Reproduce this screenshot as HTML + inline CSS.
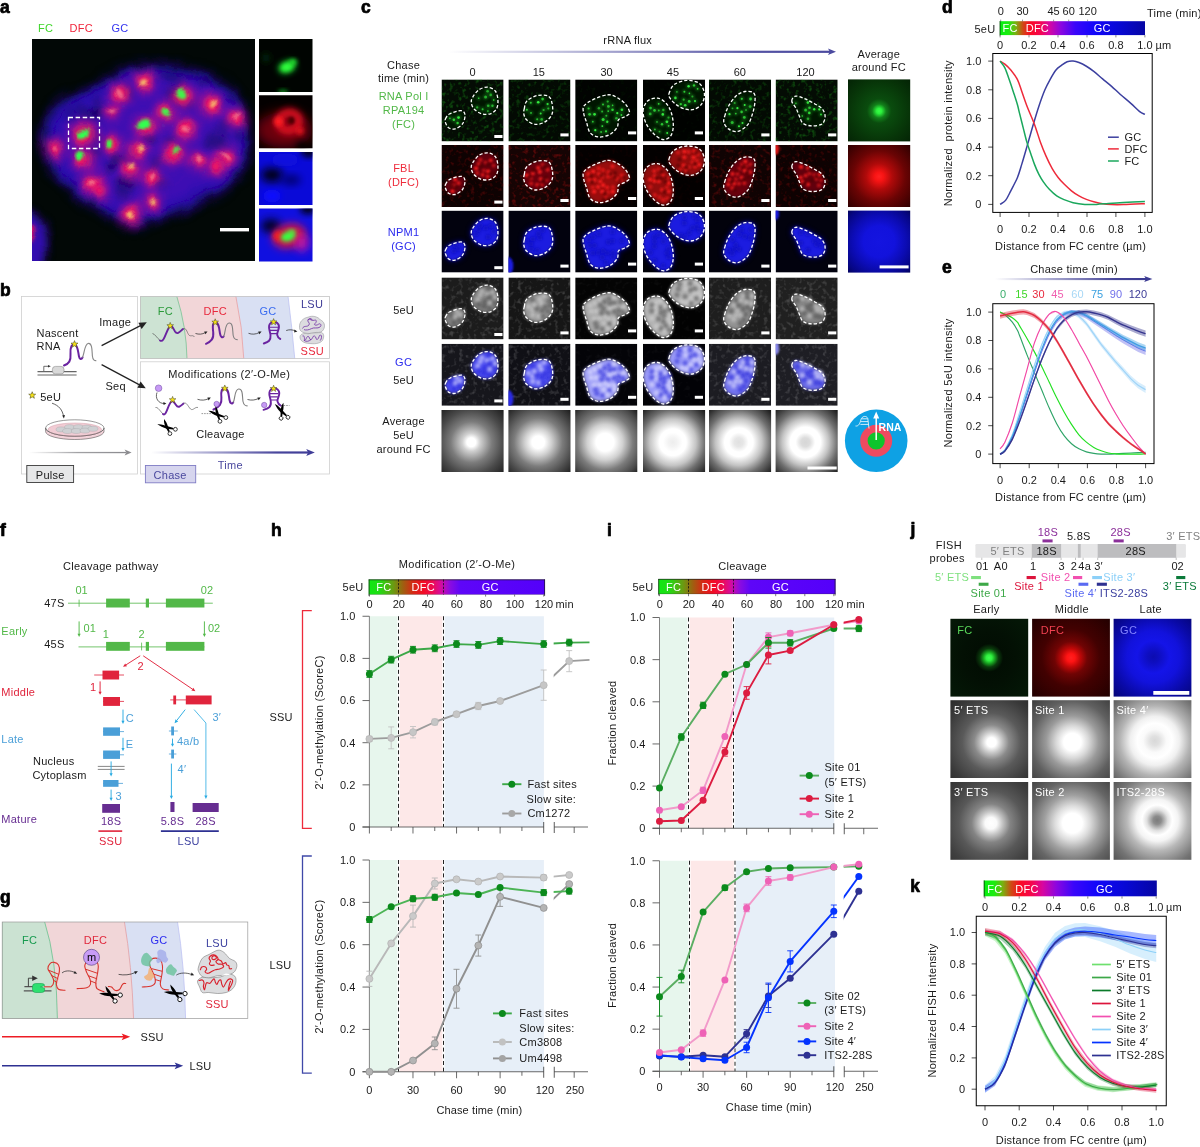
<!DOCTYPE html>
<html lang="en"><head><meta charset="utf-8"><title>Figure 1</title>
<style>
html,body{margin:0;padding:0;background:#fff;}
body{width:1200px;height:1147px;overflow:hidden;font-family:"Liberation Sans",sans-serif;}
svg{display:block;}
svg text{font-family:"Liberation Sans",sans-serif;font-size:11px;fill:#1a1a1a;letter-spacing:0.25px;}
.pl{font-weight:bold;font-size:17.5px;fill:#000;stroke:#000;stroke-width:0.7px;stroke-linejoin:round;}
svg text.n{letter-spacing:0;}
</style></head><body>
<svg width="1200" height="1147" viewBox="0 0 1200 1147">
<!-- defs -->
<defs>
<filter id="b1" x="-50%" y="-50%" width="200%" height="200%"><feGaussianBlur stdDeviation="1"/></filter>
<filter id="b15" x="-50%" y="-50%" width="200%" height="200%"><feGaussianBlur stdDeviation="1.5"/></filter>
<filter id="b2" x="-50%" y="-50%" width="200%" height="200%"><feGaussianBlur stdDeviation="2"/></filter>
<filter id="b3" x="-50%" y="-50%" width="200%" height="200%"><feGaussianBlur stdDeviation="3"/></filter>
<filter id="b4" x="-50%" y="-50%" width="200%" height="200%"><feGaussianBlur stdDeviation="4"/></filter>
<filter id="b6" x="-50%" y="-50%" width="200%" height="200%"><feGaussianBlur stdDeviation="6"/></filter>
<filter id="b05" x="-50%" y="-50%" width="200%" height="200%"><feGaussianBlur stdDeviation="0.6"/></filter>
<filter id="nzW" x="0" y="0" width="100%" height="100%" color-interpolation-filters="sRGB"><feTurbulence type="fractalNoise" baseFrequency="0.22" numOctaves="2" seed="4"/><feColorMatrix type="matrix" values="0 0 0 0 1  0 0 0 0 1  0 0 0 0 1  3.4 0 0 0 -1.75"/></filter>
<filter id="nzG" x="0" y="0" width="100%" height="100%" color-interpolation-filters="sRGB"><feTurbulence type="fractalNoise" baseFrequency="0.24" numOctaves="2" seed="9"/><feColorMatrix type="matrix" values="0 0 0 0 0.15  0 0 0 0 0.85  0 0 0 0 0.15  3.4 0 0 0 -1.75"/></filter>
<filter id="nzR" x="0" y="0" width="100%" height="100%" color-interpolation-filters="sRGB"><feTurbulence type="fractalNoise" baseFrequency="0.24" numOctaves="2" seed="15"/><feColorMatrix type="matrix" values="0 0 0 0 0.9  0 0 0 0 0.08  0 0 0 0 0.08  3.4 0 0 0 -1.75"/></filter>
<filter id="nzD" x="0" y="0" width="100%" height="100%" color-interpolation-filters="sRGB"><feTurbulence type="fractalNoise" baseFrequency="0.16" numOctaves="2" seed="21"/><feColorMatrix type="matrix" values="0 0 0 0 0.04  0 0 0 0 0.01  0 0 0 0 0.22  3.0 0 0 0 -1.25"/></filter>
<filter id="warp" x="-5%" y="-5%" width="110%" height="110%"><feTurbulence type="fractalNoise" baseFrequency="0.045" numOctaves="2" seed="8" result="t"/><feDisplacementMap in="SourceGraphic" in2="t" scale="9" xChannelSelector="R" yChannelSelector="G"/></filter>
<marker id="ahk" viewBox="0 0 10 10" refX="8" refY="5" markerWidth="5" markerHeight="5" orient="auto-start-reverse"><path d="M0,1 L10,5 L0,9 L3,5 z" fill="#1a1a1a"/></marker>
<path id="star" d="M0,-3.6 L0.95,-1.2 L3.5,-1.1 L1.5,0.5 L2.2,3 L0,1.6 L-2.2,3 L-1.5,0.5 L-3.5,-1.1 L-0.95,-1.2 Z" fill="#f5e21a" stroke="#3a3a1a" stroke-width="0.5" stroke-linejoin="round"/>
<g id="scis">
 <path d="M-9.6,-3.1 C-6,-3.6 -2,-2 0.8,-1.1 L6.6,0.5 L6.2,2.1 L-0.2,1.3 C-3.8,0.4 -6.8,-1.2 -9.6,-3.1 Z" fill="#000"/>
 <path d="M-2.8,-8.4 C-3.4,-5 -2,-2 -0.9,0.5 L1.4,4.5 L2.9,3.8 L1.2,-0.5 C0.4,-3.6 -1.2,-6.2 -2.8,-8.4 Z" fill="#000"/>
 <circle cx="8.5" cy="1.9" r="1.9" fill="#fff" stroke="#000" stroke-width="0.75"/>
 <circle cx="3" cy="6.2" r="1.9" fill="#fff" stroke="#000" stroke-width="0.75"/>
</g>
</defs>

<!-- pa -->
<text class="pl" x="0" y="13">a</text>
<text x="38" y="31.7" style="fill:#3fd52a">FC</text>
<text x="69.5" y="31.7" style="fill:#f0243a">DFC</text>
<text x="111.5" y="31.7" style="fill:#3434f0">GC</text>
<clipPath id="ca"><rect x="32" y="39" width="223" height="222"/></clipPath>
<g clip-path="url(#ca)">
<rect x="32" y="39" width="223" height="222" fill="#020806"/>
<g filter="url(#warp)">
<path d="M41,140 L46,118 L62,100 L88,90 L112,76 L140,64 L165,66 L200,72 L228,86 L244,107 L248,128 L250,150 L240,172 L226,190 L205,198 L188,208 L160,218 L133,228 L108,214 L86,202 L66,186 L50,170 Z" fill="#260ea4" filter="url(#b6)"/>
<path d="M50,140 L66,108 L112,84 L140,72 L200,80 L238,108 L242,150 L222,184 L185,200 L133,220 L90,196 L60,170 Z" fill="#2e10b2" filter="url(#b4)"/>
<path d="M62,130 L100,100 L140,80 L200,86 L234,112 L236,150 L216,178 L180,196 L135,212 L98,192 L66,162 Z" fill="#7a18b8" opacity="0.22" filter="url(#b6)"/>
<ellipse cx="93" cy="153" rx="7" ry="6" fill="#160862" opacity="0.41" filter="url(#b3)" transform="rotate(12 93 153)"/>
<ellipse cx="97" cy="106" rx="10" ry="5" fill="#160862" opacity="0.46" filter="url(#b3)" transform="rotate(86 97 106)"/>
<ellipse cx="173" cy="93" rx="8" ry="7" fill="#160862" opacity="0.38" filter="url(#b3)" transform="rotate(133 173 93)"/>
<ellipse cx="179" cy="80" rx="9" ry="6" fill="#160862" opacity="0.33" filter="url(#b3)" transform="rotate(6 179 80)"/>
<ellipse cx="218" cy="142" rx="9" ry="7" fill="#160862" opacity="0.43" filter="url(#b3)" transform="rotate(166 218 142)"/>
<ellipse cx="124" cy="192" rx="7" ry="7" fill="#160862" opacity="0.47" filter="url(#b3)" transform="rotate(18 124 192)"/>
<ellipse cx="238" cy="136" rx="8" ry="5" fill="#160862" opacity="0.38" filter="url(#b3)" transform="rotate(69 238 136)"/>
<ellipse cx="115" cy="159" rx="8" ry="7" fill="#160862" opacity="0.42" filter="url(#b3)" transform="rotate(167 115 159)"/>
<ellipse cx="179" cy="95" rx="9" ry="7" fill="#160862" opacity="0.48" filter="url(#b3)" transform="rotate(102 179 95)"/>
<ellipse cx="188" cy="102" rx="9" ry="6" fill="#160862" opacity="0.32" filter="url(#b3)" transform="rotate(11 188 102)"/>
<ellipse cx="127" cy="93" rx="6" ry="6" fill="#160862" opacity="0.47" filter="url(#b3)" transform="rotate(8 127 93)"/>
<ellipse cx="168" cy="77" rx="9" ry="5" fill="#160862" opacity="0.47" filter="url(#b3)" transform="rotate(177 168 77)"/>
<ellipse cx="84" cy="132" rx="8" ry="4" fill="#160862" opacity="0.26" filter="url(#b3)" transform="rotate(156 84 132)"/>
<ellipse cx="224" cy="127" rx="7" ry="6" fill="#160862" opacity="0.41" filter="url(#b3)" transform="rotate(107 224 127)"/>
<ellipse cx="157" cy="164" rx="10" ry="6" fill="#160862" opacity="0.36" filter="url(#b3)" transform="rotate(130 157 164)"/>
<ellipse cx="93" cy="116" rx="10" ry="6" fill="#160862" opacity="0.39" filter="url(#b3)" transform="rotate(2 93 116)"/>
<ellipse cx="128" cy="158" rx="5" ry="6" fill="#160862" opacity="0.41" filter="url(#b3)" transform="rotate(11 128 158)"/>
<ellipse cx="170" cy="141" rx="8" ry="5" fill="#160862" opacity="0.43" filter="url(#b3)" transform="rotate(133 170 141)"/>
<ellipse cx="95" cy="139" rx="8" ry="5" fill="#160862" opacity="0.34" filter="url(#b3)" transform="rotate(56 95 139)"/>
<ellipse cx="119" cy="161" rx="7" ry="5" fill="#160862" opacity="0.44" filter="url(#b3)" transform="rotate(5 119 161)"/>
<ellipse cx="159" cy="182" rx="7" ry="5" fill="#160862" opacity="0.45" filter="url(#b3)" transform="rotate(43 159 182)"/>
<ellipse cx="82" cy="136" rx="8" ry="4" fill="#160862" opacity="0.33" filter="url(#b3)" transform="rotate(60 82 136)"/>
<ellipse cx="212" cy="137" rx="9" ry="5" fill="#160862" opacity="0.33" filter="url(#b3)" transform="rotate(117 212 137)"/>
<ellipse cx="222" cy="139" rx="6" ry="4" fill="#160862" opacity="0.38" filter="url(#b3)" transform="rotate(34 222 139)"/>
<ellipse cx="82" cy="112" rx="9" ry="6" fill="#160862" opacity="0.45" filter="url(#b3)" transform="rotate(62 82 112)"/>
<ellipse cx="71" cy="114" rx="9" ry="5" fill="#160862" opacity="0.34" filter="url(#b3)" transform="rotate(75 71 114)"/>
<ellipse cx="26" cy="246" rx="22" ry="36" fill="#3010b0" filter="url(#b4)"/>
<ellipse cx="31" cy="233" rx="4" ry="9" fill="#e01860" filter="url(#b2)"/>
<ellipse cx="127" cy="183" rx="9" ry="5" fill="#14065a" opacity="0.75" filter="url(#b3)"/>
<ellipse cx="96" cy="112" rx="7" ry="4" fill="#14065a" opacity="0.75" filter="url(#b3)"/>
<ellipse cx="150" cy="140" rx="5" ry="4" fill="#14065a" opacity="0.75" filter="url(#b3)"/>
<ellipse cx="205" cy="82" rx="5" ry="4" fill="#14065a" opacity="0.75" filter="url(#b3)"/>
<ellipse cx="110" cy="168" rx="6" ry="4" fill="#14065a" opacity="0.75" filter="url(#b3)"/>
<circle cx="145.4" cy="80.4" r="13" fill="#c81490" opacity="0.5" filter="url(#b4)"/>
<circle cx="119.7" cy="93.2" r="13" fill="#c81490" opacity="0.5" filter="url(#b4)"/>
<circle cx="184.4" cy="95.2" r="14" fill="#c81490" opacity="0.5" filter="url(#b4)"/>
<circle cx="211.4" cy="105" r="14" fill="#c81490" opacity="0.5" filter="url(#b4)"/>
<circle cx="165" cy="112" r="13" fill="#c81490" opacity="0.5" filter="url(#b4)"/>
<circle cx="236" cy="119" r="13" fill="#c81490" opacity="0.5" filter="url(#b4)"/>
<circle cx="145.4" cy="126.8" r="14" fill="#c81490" opacity="0.5" filter="url(#b4)"/>
<circle cx="111.9" cy="111" r="10" fill="#c81490" opacity="0.5" filter="url(#b4)"/>
<circle cx="83.3" cy="134.6" r="15" fill="#c81490" opacity="0.5" filter="url(#b4)"/>
<circle cx="111.9" cy="144.5" r="13" fill="#c81490" opacity="0.5" filter="url(#b4)"/>
<circle cx="184.8" cy="128.7" r="14" fill="#c81490" opacity="0.5" filter="url(#b4)"/>
<circle cx="137.5" cy="150.4" r="12" fill="#c81490" opacity="0.5" filter="url(#b4)"/>
<circle cx="173" cy="153.4" r="14" fill="#c81490" opacity="0.5" filter="url(#b4)"/>
<circle cx="82.3" cy="159.3" r="13" fill="#c81490" opacity="0.5" filter="url(#b4)"/>
<circle cx="54.7" cy="147.5" r="12" fill="#c81490" opacity="0.5" filter="url(#b4)"/>
<circle cx="197.6" cy="160.3" r="12" fill="#c81490" opacity="0.5" filter="url(#b4)"/>
<circle cx="226.3" cy="156.3" r="12" fill="#c81490" opacity="0.5" filter="url(#b4)"/>
<circle cx="216.4" cy="167.2" r="12" fill="#c81490" opacity="0.5" filter="url(#b4)"/>
<circle cx="129.6" cy="169.2" r="12" fill="#c81490" opacity="0.5" filter="url(#b4)"/>
<circle cx="151.3" cy="177" r="13" fill="#c81490" opacity="0.5" filter="url(#b4)"/>
<circle cx="93.1" cy="183" r="13" fill="#c81490" opacity="0.5" filter="url(#b4)"/>
<circle cx="100" cy="191.8" r="11" fill="#c81490" opacity="0.5" filter="url(#b4)"/>
<circle cx="152.3" cy="201.7" r="11" fill="#c81490" opacity="0.5" filter="url(#b4)"/>
<circle cx="131.6" cy="214.5" r="13" fill="#c81490" opacity="0.5" filter="url(#b4)"/>
<circle cx="145.4" cy="80.4" r="7.2" fill="#ff1458" opacity="0.95" filter="url(#b3)"/>
<circle cx="119.7" cy="93.2" r="7.2" fill="#ff1458" opacity="0.95" filter="url(#b3)"/>
<circle cx="184.4" cy="95.2" r="8.1" fill="#ff1458" opacity="0.95" filter="url(#b3)"/>
<circle cx="211.4" cy="105" r="8.1" fill="#ff1458" opacity="0.95" filter="url(#b3)"/>
<circle cx="165" cy="112" r="7.2" fill="#ff1458" opacity="0.95" filter="url(#b3)"/>
<circle cx="236" cy="119" r="7.2" fill="#ff1458" opacity="0.95" filter="url(#b3)"/>
<circle cx="145.4" cy="126.8" r="8.1" fill="#ff1458" opacity="0.95" filter="url(#b3)"/>
<circle cx="111.9" cy="111" r="4.5" fill="#ff1458" opacity="0.95" filter="url(#b3)"/>
<circle cx="83.3" cy="134.6" r="9.0" fill="#ff1458" opacity="0.95" filter="url(#b3)"/>
<circle cx="111.9" cy="144.5" r="7.2" fill="#ff1458" opacity="0.95" filter="url(#b3)"/>
<circle cx="184.8" cy="128.7" r="8.1" fill="#ff1458" opacity="0.95" filter="url(#b3)"/>
<circle cx="137.5" cy="150.4" r="6.3" fill="#ff1458" opacity="0.95" filter="url(#b3)"/>
<circle cx="173" cy="153.4" r="8.1" fill="#ff1458" opacity="0.95" filter="url(#b3)"/>
<circle cx="82.3" cy="159.3" r="7.2" fill="#ff1458" opacity="0.95" filter="url(#b3)"/>
<circle cx="54.7" cy="147.5" r="6.3" fill="#ff1458" opacity="0.95" filter="url(#b3)"/>
<circle cx="197.6" cy="160.3" r="6.3" fill="#ff1458" opacity="0.95" filter="url(#b3)"/>
<circle cx="226.3" cy="156.3" r="6.3" fill="#ff1458" opacity="0.95" filter="url(#b3)"/>
<circle cx="216.4" cy="167.2" r="6.3" fill="#ff1458" opacity="0.95" filter="url(#b3)"/>
<circle cx="129.6" cy="169.2" r="6.3" fill="#ff1458" opacity="0.95" filter="url(#b3)"/>
<circle cx="151.3" cy="177" r="7.2" fill="#ff1458" opacity="0.95" filter="url(#b3)"/>
<circle cx="93.1" cy="183" r="7.2" fill="#ff1458" opacity="0.95" filter="url(#b3)"/>
<circle cx="100" cy="191.8" r="5.4" fill="#ff1458" opacity="0.95" filter="url(#b3)"/>
<circle cx="152.3" cy="201.7" r="5.4" fill="#ff1458" opacity="0.95" filter="url(#b3)"/>
<circle cx="131.6" cy="214.5" r="7.2" fill="#ff1458" opacity="0.95" filter="url(#b3)"/>
<ellipse cx="144.4" cy="81.4" rx="3.8" ry="2.8" fill="#f4e070" opacity="0.8" filter="url(#b15)" transform="rotate(-30 144.4 81.4)"/>
<ellipse cx="119.7" cy="93.2" rx="5.0" ry="2.2" fill="#f0b0a8" opacity="0.6" filter="url(#b15)" transform="rotate(55 119.7 93.2)"/>
<ellipse cx="182.9" cy="93.2" rx="6.2" ry="4.4" fill="#38ff48" opacity="0.95" filter="url(#b15)" transform="rotate(40 182.9 93.2)"/>
<ellipse cx="212.4" cy="104" rx="4.4" ry="2.5" fill="#f4e070" opacity="0.8" filter="url(#b15)" transform="rotate(-50 212.4 104)"/>
<ellipse cx="166" cy="113" rx="5.0" ry="3.8" fill="#38ff48" opacity="0.95" filter="url(#b15)" transform="rotate(30 166 113)"/>
<ellipse cx="236" cy="117" rx="5.6" ry="1.8" fill="#f0b0a8" opacity="0.6" filter="url(#b15)" transform="rotate(-55 236 117)"/>
<ellipse cx="143.4" cy="124.8" rx="7.5" ry="5.2" fill="#30ff50" opacity="1" filter="url(#b15)" transform="rotate(-25 143.4 124.8)"/>
<ellipse cx="111.9" cy="111" rx="3.1" ry="1.9" fill="#f0b0a8" opacity="0.6" filter="url(#b15)" transform="rotate(-20 111.9 111)"/>
<ellipse cx="83.3" cy="133.6" rx="6.2" ry="4.0" fill="#30ff50" opacity="1" filter="url(#b15)" transform="rotate(-25 83.3 133.6)"/>
<ellipse cx="108.9" cy="143.5" rx="4.4" ry="3.8" fill="#38ff48" opacity="0.95" filter="url(#b15)" transform="rotate(0 108.9 143.5)"/>
<ellipse cx="185.8" cy="129.7" rx="4.4" ry="2.5" fill="#f0b0a8" opacity="0.6" filter="url(#b15)" transform="rotate(30 185.8 129.7)"/>
<ellipse cx="139.5" cy="149.4" rx="3.8" ry="2.5" fill="#f4e070" opacity="0.8" filter="url(#b15)" transform="rotate(-40 139.5 149.4)"/>
<ellipse cx="175" cy="150.4" rx="5.0" ry="2.2" fill="#38ff48" opacity="0.95" filter="url(#b15)" transform="rotate(-60 175 150.4)"/>
<ellipse cx="80.3" cy="155.3" rx="5.0" ry="4.0" fill="#30ff50" opacity="1" filter="url(#b15)" transform="rotate(0 80.3 155.3)"/>
<ellipse cx="54.7" cy="147.5" rx="1.9" ry="1.9" fill="#f0b0a8" opacity="0.6" filter="url(#b15)" transform="rotate(0 54.7 147.5)"/>
<ellipse cx="197.6" cy="159.3" rx="4.4" ry="2.5" fill="#f0b0a8" opacity="0.6" filter="url(#b15)" transform="rotate(-70 197.6 159.3)"/>
<ellipse cx="225.3" cy="155.3" rx="5.0" ry="1.9" fill="#f0b0a8" opacity="0.6" filter="url(#b15)" transform="rotate(50 225.3 155.3)"/>
<ellipse cx="131.6" cy="166.2" rx="4.2" ry="2.0" fill="#f4e070" opacity="0.8" filter="url(#b15)" transform="rotate(-75 131.6 166.2)"/>
<ellipse cx="152.3" cy="176" rx="3.8" ry="2.0" fill="#f0b0a8" opacity="0.6" filter="url(#b15)" transform="rotate(-60 152.3 176)"/>
<ellipse cx="93.1" cy="183" rx="3.8" ry="2.5" fill="#f0b0a8" opacity="0.6" filter="url(#b15)" transform="rotate(-70 93.1 183)"/>
<ellipse cx="152.3" cy="201.7" rx="3.8" ry="2.0" fill="#f4e070" opacity="0.8" filter="url(#b15)" transform="rotate(-20 152.3 201.7)"/>
<ellipse cx="131.6" cy="215.5" rx="3.2" ry="3.2" fill="#f4e070" opacity="0.8" filter="url(#b15)" transform="rotate(0 131.6 215.5)"/>
</g>
</g>
<rect x="68.5" y="117.5" width="31" height="31" fill="none" stroke="#fff" stroke-width="1.3" stroke-dasharray="4.5,2.6"/>
<rect x="220" y="228" width="29" height="3.4" fill="#fff"/>
<clipPath id="ci0"><rect x="259" y="39" width="53.5" height="53"/></clipPath>
<clipPath id="ci1"><rect x="259" y="95.2" width="53.5" height="53"/></clipPath>
<clipPath id="ci2"><rect x="259" y="151.9" width="53.5" height="53"/></clipPath>
<clipPath id="ci3"><rect x="259" y="208.4" width="53.5" height="53"/></clipPath>
<g clip-path="url(#ci0)"><rect x="259" y="39" width="54" height="53" fill="#000401"/><ellipse cx="287" cy="67" rx="9" ry="6" fill="#18c828" filter="url(#b3)" transform="rotate(-20 287 67)"/><ellipse cx="287" cy="67" rx="6.5" ry="4" fill="#30ff40" filter="url(#b2)" transform="rotate(-18 287 67)"/><ellipse cx="293" cy="62" rx="4" ry="3" fill="#20e030" filter="url(#b2)"/><ellipse cx="283" cy="92" rx="5" ry="2.5" fill="#108a1c" filter="url(#b2)"/><ellipse cx="266" cy="58" rx="4" ry="5" fill="#062808" filter="url(#b3)"/></g>
<g clip-path="url(#ci1)"><rect x="259" y="95" width="54" height="54" fill="#040000"/><ellipse cx="284" cy="130" rx="28" ry="18" fill="#6c000c" filter="url(#b6)"/><ellipse cx="289" cy="121.5" rx="10" ry="9" fill="none" stroke="#e01020" stroke-width="8" filter="url(#b3)" transform="rotate(-20 289 121.5)"/><ellipse cx="278.5" cy="121.5" rx="4.5" ry="5" fill="#ff1c24" filter="url(#b2)"/><ellipse cx="300" cy="131" rx="4" ry="4" fill="#f01420" opacity="0.8" filter="url(#b2)"/><ellipse cx="291.5" cy="120.5" rx="3" ry="3.4" fill="#4a0006" filter="url(#b15)"/><ellipse cx="302" cy="146" rx="6" ry="4" fill="#020000" filter="url(#b3)"/></g>
<g clip-path="url(#ci2)"><rect x="259" y="152" width="54" height="53" fill="#0a0ad8"/><ellipse cx="272" cy="175" rx="11" ry="7" fill="#020210" filter="url(#b4)"/><ellipse cx="291" cy="180" rx="10" ry="5" fill="#06066a" filter="url(#b4)"/><ellipse cx="309" cy="152" rx="8" ry="5" fill="#000008" filter="url(#b3)"/><ellipse cx="272" cy="196" rx="9" ry="6" fill="#1010ff" filter="url(#b3)"/><ellipse cx="285" cy="160" rx="14" ry="4" fill="#1212e0" filter="url(#b3)"/></g>
<g clip-path="url(#ci3)"><rect x="259" y="208" width="54" height="54" fill="#1010e0"/><ellipse cx="271" cy="226" rx="10" ry="7" fill="#040424" filter="url(#b4)"/><ellipse cx="308" cy="209" rx="8" ry="5" fill="#02020c" filter="url(#b3)"/><ellipse cx="289" cy="236" rx="17" ry="12" fill="#d8143c" filter="url(#b4)" transform="rotate(-15 289 236)"/><ellipse cx="278" cy="236" rx="5" ry="5" fill="#f01c28" filter="url(#b2)"/><ellipse cx="302" cy="243" rx="7" ry="9" fill="#c818a0" opacity="0.9" filter="url(#b4)"/><ellipse cx="288" cy="236.5" rx="7.5" ry="5" fill="#38ff40" filter="url(#b2)" transform="rotate(-18 288 236.5)"/><ellipse cx="292" cy="232" rx="3.5" ry="2.5" fill="#50f040" filter="url(#b2)"/></g>
<!-- pb -->
<text class="pl" x="0" y="295.5">b</text>
<rect x="21.5" y="296.5" width="116" height="177.5" fill="#fff" stroke="#cfcfcf" stroke-width="0.8"/>
<clipPath id="cb1"><rect x="140.5" y="296.5" width="189" height="62"/></clipPath>
<g clip-path="url(#cb1)">
<rect x="140.5" y="296.5" width="189" height="62" fill="#fff"/>
<path d="M140,296 L288,296 Q292,327 294.8,359 L140,359 Z" fill="#d9e0f3" stroke="#b7bdf0" stroke-width="0.7"/>
<path d="M140,296 L235.8,296 Q242.6,327 243.8,359 L140,359 Z" fill="#f2d6d8" stroke="#e59a9e" stroke-width="0.7"/>
<path d="M140,296 L176.7,296 Q186.5,327 187,359 L140,359 Z" fill="#cde3d3" stroke="#6dbf8d" stroke-width="0.7"/>
</g>
<rect x="140.5" y="296.5" width="189" height="62" fill="none" stroke="#c4c4c4" stroke-width="0.8"/>
<rect x="140.5" y="361.8" width="189" height="112.2" fill="#fff" stroke="#cfcfcf" stroke-width="0.8"/>
<text x="157.8" y="314.7" style="fill:#2a9a3a">FC</text>
<text x="203.5" y="314.7" style="fill:#e8283c">DFC</text>
<text x="259.5" y="314.7" style="fill:#3a6cf0">GC</text>
<text x="301" y="307.7" style="fill:#3d3a96">LSU</text>
<text x="300.6" y="354.7" style="fill:#e8283c">SSU</text>
<text x="36.5" y="336.5" textLength="42" lengthAdjust="spacing">Nascent</text>
<text x="36.5" y="350.2">RNA</text>
<text x="99.3" y="325.8">Image</text>
<text x="105.5" y="390">Seq</text>
<text x="40.2" y="400.7">5eU</text>
<text x="168.2" y="377.6" textLength="122" lengthAdjust="spacing">Modifications (2′-O-Me)</text>
<text x="196.2" y="438.4">Cleavage</text>
<text x="217.8" y="468.8" style="fill:#4a489e">Time</text>
<rect x="26.8" y="465.5" width="46.8" height="17" fill="#e6e7e8" stroke="#3a3a3a" stroke-width="0.9"/>
<text x="35.8" y="478.8">Pulse</text>
<rect x="145.4" y="465.5" width="50.3" height="17.3" fill="#d6d5ee" stroke="#7f7cc4" stroke-width="0.9"/>
<text x="153.6" y="478.8" style="fill:#4a489e">Chase</text>
<path d="M101.6,345.6 L142.4,324.6" stroke="#222" stroke-width="1.2" fill="none"/><path d="M146.8,322.3 L138.4,322.8 L141.6,329 Z" fill="#222"/>
<path d="M101.6,364.6 L141.4,385.9" stroke="#222" stroke-width="1.2" fill="none"/><path d="M145.8,388.2 L140.6,381.6 L137.4,387.7 Z" fill="#222"/>
<linearGradient id="gpa" x1="0" x2="1"><stop offset="0" stop-color="#8a8a8e" stop-opacity="0"/><stop offset="0.5" stop-color="#8a8a8e" stop-opacity="0.8"/><stop offset="1" stop-color="#8a8a8e"/></linearGradient>
<rect x="29" y="451.9" width="97" height="1.3" fill="url(#gpa)"/><path d="M131.6,452.5 L124.6,449.6 L126.3,452.5 L124.6,455.4 Z" fill="#8a8a8e"/>
<linearGradient id="gta" x1="0" x2="1"><stop offset="0" stop-color="#3f3c97" stop-opacity="0"/><stop offset="0.8" stop-color="#3f3c97" stop-opacity="0.95"/><stop offset="1" stop-color="#3f3c97"/></linearGradient>
<rect x="151" y="451.4" width="157.5" height="2.2" fill="url(#gta)"/><path d="M314.8,452.5 L306.2,449 L308.2,452.5 L306.2,456 Z" fill="#3f3c97"/>
<path d="M37.5,371.6 H76.6 M37.5,374.9 H76.6" stroke="#666" stroke-width="1.05"/>
<path d="M43.8,371 V366.3 H49" stroke="#333" stroke-width="0.7" fill="none"/><path d="M50.8,366.3 L48,365 L48,367.6 Z" fill="#333"/>
<rect x="52.4" y="366.4" width="11.6" height="7.6" rx="3" fill="#d9d9d9" stroke="#8c8c8c" stroke-width="0.6"/>
<path d="M64,365.5 C69,363.5 71,361 70.5,354 C70,347 72,343.5 74.8,344.5 C78,345.5 78,352 79,356.5 C79.6,359.5 81.5,359.6 82.5,357.5" stroke="#6a23a0" stroke-width="2" fill="none" stroke-linecap="round"/>
<path d="M82.5,357.5 C84.5,353 84.5,344.5 88,343.5 C92.5,342.4 92,352 92.4,356 C92.8,360 94.5,360.8 96.3,360.6" stroke="#8a8a8a" stroke-width="1.15" fill="none"/>
<use href="#star" transform="translate(74.5,344.2) scale(1)"/>
<use href="#star" transform="translate(32.2,395.3) scale(1)"/>
<path d="M52,403.2 C59,405.5 62.5,410 63.6,416.5" stroke="#222" stroke-width="0.7" fill="none"/><path d="M63.9,418.4 L62.2,415.4 L65,415 Z" fill="#222"/>
<path d="M45.6,428 V431.5 A29.2,8 0 0 0 104,431.5 V428" fill="#f3d3da" stroke="#555" stroke-width="0.6"/>
<ellipse cx="74.8" cy="428" rx="29.2" ry="8.2" fill="#fff" stroke="#555" stroke-width="0.6"/>
<ellipse cx="74.8" cy="429.6" rx="26.8" ry="6.6" fill="#f1ccd4" stroke="#c98c98" stroke-width="0.4"/>
<ellipse cx="61" cy="429.4" rx="5" ry="2.5" fill="#cfd0d3" stroke="#a5a6aa" stroke-width="0.4"/>
<ellipse cx="69.5" cy="427.2" rx="5" ry="2.5" fill="#cfd0d3" stroke="#a5a6aa" stroke-width="0.4"/>
<ellipse cx="78.5" cy="427.2" rx="5" ry="2.5" fill="#cfd0d3" stroke="#a5a6aa" stroke-width="0.4"/>
<ellipse cx="87" cy="427.6" rx="5" ry="2.5" fill="#cfd0d3" stroke="#a5a6aa" stroke-width="0.4"/>
<ellipse cx="67.5" cy="431" rx="5" ry="2.5" fill="#cfd0d3" stroke="#a5a6aa" stroke-width="0.4"/>
<ellipse cx="76.3" cy="431" rx="5" ry="2.5" fill="#cfd0d3" stroke="#a5a6aa" stroke-width="0.4"/>
<ellipse cx="85" cy="430.6" rx="5" ry="2.5" fill="#cfd0d3" stroke="#a5a6aa" stroke-width="0.4"/>
<ellipse cx="93" cy="428.8" rx="5" ry="2.5" fill="#cfd0d3" stroke="#a5a6aa" stroke-width="0.4"/>
<path d="M45.6,428 A29.2,8.2 0 0 0 104,428" fill="none" stroke="#555" stroke-width="0.6"/>
<path d="M152.5,333.5 C155,334 157,338 160,340.5" stroke="#555" stroke-width="0.7" fill="none"/>
<path d="M160,340.5 C164,343 165.5,333 169,327.5 C171.5,324 173,328 175,331.5 C177.5,335.5 180.5,331 183,329" stroke="#6a23a0" stroke-width="1.9" fill="none" stroke-linecap="round"/>
<path d="M183,329 C186,327 187,332 188.5,334.5 C190.5,337.5 192.5,334 194.5,337" stroke="#666" stroke-width="0.7" fill="none"/>
<use href="#star" transform="translate(170.2,325.8) scale(0.95)"/>
<path d="M195.5,333.5 C199,334.5 202,334.5 205.5,332.5" stroke="#222" stroke-width="0.7" fill="none"/><path d="M207.5,331.6 L204.2,331.4 L205.4,334.2 Z" fill="#222"/>
<path d="M206,343.8 C211,341.5 214,339 213.2,332 C212.4,325 212.8,322.5 215.5,322.5 C219,322.5 219.2,329 220,333.5 C220.6,337.5 222.5,338 223.6,336.5" stroke="#6a23a0" stroke-width="2" fill="none" stroke-linecap="round"/>
<path d="M223.6,336.5 C225.8,333 224.6,323.5 229,323 C233.5,322.5 232.5,332 233.2,335.5 C233.9,339 236,339.8 237.8,339.8" stroke="#808080" stroke-width="1.1" fill="none"/>
<use href="#star" transform="translate(215.2,322.2) scale(0.95)"/>
<path d="M248.5,333.3 C252,334.6 255.5,334.5 259.5,332.5" stroke="#222" stroke-width="0.7" fill="none"/><path d="M261.6,331.5 L258.2,331.4 L259.4,334.2 Z" fill="#222"/>
<path d="M263.8,343.5 C268.5,342 271,340.5 270.5,335 C270,330 267,326 270.5,323.2 C273,321.2 277,321.5 278.5,324.5 C280.5,328.5 276.5,332 277.2,335 C277.8,337.5 279,338.5 280.3,339" stroke="#6a23a0" stroke-width="1.9" fill="none" stroke-linecap="round"/>
<path d="M269.6,327.2 H278.2 M269.9,330.4 H277.6 M270.4,333.6 H277" stroke="#6a23a0" stroke-width="1.15"/>
<use href="#star" transform="translate(273.6,322) scale(0.95)"/>
<path d="M286.2,330.5 C289.5,329.4 292.5,329.6 295.5,331" stroke="#222" stroke-width="0.7" fill="none"/><path d="M297.4,331.6 L294.4,329.6 L294.2,332.6 Z" fill="#222"/>
<path d="M299.5,327.5 C299,322 303,318 308,317.2 C312,315.2 318,316.5 320.5,320 C324.5,321.5 325.5,326 323.5,329.5 C322.5,332 319,332.8 316,332.4 C311,334.2 304,333.6 301.5,331.5 C300,330.5 299.5,329 299.5,327.5 Z" fill="#dcdcdf" stroke="#8a8a90" stroke-width="0.5"/>
<path d="M300,336.5 C300.5,333.8 304,333 308,333.8 C312,332.6 318,333 321.5,332.4 C324.5,333.5 324,338 322.5,340.5 C320,343.8 314,344.2 309,343.4 C304,343.4 299.5,340.5 300,336.5 Z" fill="#dcdcdf" stroke="#8a8a90" stroke-width="0.5"/>
<path d="M302.5,328.5 C304,325 307,327.5 309,325 C310.5,322.5 306.5,321.5 308,319.8 C310,318 312,321.5 314.5,320.2 C316.5,319.2 317,322 315,323.5 C313,325 316.5,326 318.5,324.2 C320.5,322.8 322,325.5 320,327 C317.5,329 314,327 311.5,328.6 C309,330 305.5,330.4 304,329.6 M308,319.8 C309,317.8 312.5,318.2 312,320.4" stroke="#6a23a0" stroke-width="0.75" fill="none"/>
<path d="M302.5,336 C304,334.5 305,338.5 304.2,340.4 C306,341.2 306.4,336 308.2,336.4 C310,336.8 309,340 311,339.6 C313,339 312.5,335.4 314.5,336 C316.5,336.6 315.6,340.2 317.4,339.4 C319.2,338.4 318.8,334.8 320.6,335 C322.2,335.4 321.6,339 320.2,340.6 M304.2,340.4 C306,342 309,341.4 311,339.6" stroke="#6a23a0" stroke-width="0.75" fill="none"/>
<circle cx="158.6" cy="388.2" r="3.3" fill="#c79af5" stroke="#6d4a9e" stroke-width="0.5"/>
<path d="M157,392.5 C155,398 158,403.5 164.5,403.6" stroke="#222" stroke-width="0.7" fill="none"/><path d="M166.4,403.4 L163.4,402 L163.6,405 Z" fill="#222"/>
<path d="M155.5,407.5 C158,407 160,411 163,414" stroke="#555" stroke-width="0.7" fill="none"/>
<path d="M163,414 C166,416.5 167,408 170.5,402.5 C172.6,399.5 174,402 176,405 C178.5,409 181,405.5 183.5,403.5" stroke="#6a23a0" stroke-width="1.9" fill="none" stroke-linecap="round"/>
<path d="M183.5,403.5 C186.5,401.5 188,406.5 190.5,409 C193,411.2 195,406.5 198,407.5" stroke="#666" stroke-width="0.7" fill="none"/>
<use href="#star" transform="translate(172.6,399.8) scale(0.95)"/>
<use href="#scis" transform="translate(166.9,427.4) rotate(0) scale(1)"/>
<path d="M197.5,399.3 C201.5,400.6 205,400.4 208.8,398.6" stroke="#222" stroke-width="0.7" fill="none"/><path d="M210.8,397.6 L207.4,397.6 L208.6,400.4 Z" fill="#222"/>
<path d="M213.5,409.5 C219.5,407 222,404 221.4,397.5 C220.8,391 221.6,388.5 224.8,388.5 C228.5,388.5 228.6,395 229.4,399.5 C230,403.5 232,404.5 233.2,402.5" stroke="#6a23a0" stroke-width="2" fill="none" stroke-linecap="round"/>
<path d="M233.2,402.5 C235.4,399 234.2,389.5 238.6,389 C243.4,388.5 242.2,398 243,401.5 C243.8,405 245.6,406 247.6,405.8" stroke="#808080" stroke-width="1.1" fill="none"/>
<use href="#star" transform="translate(224.8,388.4) scale(0.95)"/>
<circle cx="216.6" cy="404" r="2.7" fill="#c79af5" stroke="#6d4a9e" stroke-width="0.5"/>
<path d="M201.5,413.6 H211" stroke="#555" stroke-width="0.6" stroke-dasharray="1.6,1"/>
<use href="#scis" transform="translate(217.6,414.8) rotate(6) scale(1)"/>
<path d="M247.5,399.5 C251.5,400.6 255,400.2 258.8,398.4" stroke="#222" stroke-width="0.7" fill="none"/><path d="M260.8,397.4 L257.4,397.4 L258.6,400.2 Z" fill="#222"/>
<path d="M263.5,409.8 C268.5,408.6 271.4,407 270.8,401.5 C270.2,396.5 267.4,392.5 270.8,389.6 C273.4,387.6 277.4,388 278.8,391 C280.8,395 276.8,398.5 277.5,401.5 C278.1,404 279.4,405 280.8,405.6" stroke="#6a23a0" stroke-width="1.9" fill="none" stroke-linecap="round"/>
<path d="M269.8,393.6 H278.4 M270.2,396.8 H277.8 M270.6,400 H277.2" stroke="#6a23a0" stroke-width="1.15"/>
<use href="#star" transform="translate(273.6,388.6) scale(0.95)"/>
<circle cx="264.2" cy="405" r="2.7" fill="#c79af5" stroke="#6d4a9e" stroke-width="0.5"/>
<path d="M281,405.5 H289.5" stroke="#555" stroke-width="0.6" stroke-dasharray="1.6,1"/>
<use href="#scis" transform="translate(281.6,411.4) rotate(30) scale(1)"/>
<!-- pc -->
<text class="pl" x="361" y="12.8">c</text>
<text x="627.7" y="43.5" text-anchor="middle">rRNA flux</text>
<linearGradient id="gca" x1="0" x2="1"><stop offset="0" stop-color="#4b4a9f" stop-opacity="0"/><stop offset="0.8" stop-color="#4b4a9f" stop-opacity="0.95"/><stop offset="1" stop-color="#4b4a9f"/></linearGradient>
<rect x="448" y="50.7" width="382" height="2.2" fill="url(#gca)"/><path d="M836,51.8 L828,48.6 L829.8,51.8 L828,55 Z" fill="#4b4a9f"/>
<text x="403.6" y="68.7" text-anchor="middle">Chase</text><text x="403.6" y="82.3" text-anchor="middle">time (min)</text>
<text class="n" x="472.6" y="75.8" text-anchor="middle">0</text>
<text class="n" x="538.8" y="75.8" text-anchor="middle">15</text>
<text class="n" x="606.5" y="75.8" text-anchor="middle">30</text>
<text class="n" x="672.9" y="75.8" text-anchor="middle">45</text>
<text class="n" x="739.8" y="75.8" text-anchor="middle">60</text>
<text class="n" x="805.5" y="75.8" text-anchor="middle">120</text>
<text x="878.8" y="57.7" text-anchor="middle">Average</text><text x="878.8" y="71.4" text-anchor="middle">around FC</text>
<text x="403.6" y="99.8" text-anchor="middle" style="fill:#52b848">RNA Pol I</text>
<text x="403.6" y="113.7" text-anchor="middle" style="fill:#52b848">RPA194</text>
<text x="403.6" y="127.6" text-anchor="middle" style="fill:#52b848">(FC)</text>
<text x="403.6" y="171.8" text-anchor="middle" style="fill:#ee2b3b">FBL</text>
<text x="403.6" y="185.7" text-anchor="middle" style="fill:#ee2b3b">(DFC)</text>
<text x="403.6" y="236.3" text-anchor="middle" style="fill:#2a2aee">NPM1</text>
<text x="403.6" y="250.2" text-anchor="middle" style="fill:#2a2aee">(GC)</text>
<text x="403.6" y="313.8" text-anchor="middle">5eU</text>
<text x="403.6" y="366.3" text-anchor="middle" style="fill:#2a2aee">GC</text><text x="403.6" y="383.8" text-anchor="middle">5eU</text>
<text x="403.6" y="425" text-anchor="middle">Average</text>
<text x="403.6" y="438.8" text-anchor="middle">5eU</text>
<text x="403.6" y="452.5" text-anchor="middle">around FC</text>
<radialGradient id="gr0" cx="0.48" cy="0.52" r="0.72"><stop offset="0" stop-color="#fff"/><stop offset="0.1" stop-color="#fff"/><stop offset="0.2" stop-color="#d0d0d0"/><stop offset="0.46" stop-color="#7c7c7c"/><stop offset="0.72" stop-color="#4a4a4a"/><stop offset="1" stop-color="#202020"/></radialGradient>
<radialGradient id="gr1" cx="0.48" cy="0.52" r="0.72"><stop offset="0" stop-color="#fff"/><stop offset="0.14" stop-color="#fff"/><stop offset="0.3" stop-color="#d0d0d0"/><stop offset="0.54" stop-color="#7c7c7c"/><stop offset="0.78" stop-color="#4a4a4a"/><stop offset="1" stop-color="#202020"/></radialGradient>
<radialGradient id="gr2" cx="0.48" cy="0.52" r="0.72"><stop offset="0" stop-color="#fff"/><stop offset="0.2" stop-color="#fff"/><stop offset="0.4" stop-color="#d0d0d0"/><stop offset="0.62" stop-color="#7c7c7c"/><stop offset="0.85" stop-color="#4a4a4a"/><stop offset="1" stop-color="#202020"/></radialGradient>
<radialGradient id="gr3" cx="0.48" cy="0.52" r="0.72"><stop offset="0" stop-color="rgb(237,237,237)"/><stop offset="0.10" stop-color="rgb(243,243,243)"/><stop offset="0.22" stop-color="#fff"/><stop offset="0.3" stop-color="#fff"/><stop offset="0.52" stop-color="#c4c4c4"/><stop offset="0.72" stop-color="#6e6e6e"/><stop offset="0.9" stop-color="#383838"/><stop offset="1" stop-color="#1c1c1c"/></radialGradient>
<radialGradient id="gr4" cx="0.48" cy="0.52" r="0.72"><stop offset="0" stop-color="rgb(224,224,224)"/><stop offset="0.10" stop-color="rgb(230,230,230)"/><stop offset="0.22" stop-color="#fff"/><stop offset="0.32" stop-color="#fff"/><stop offset="0.52" stop-color="#c4c4c4"/><stop offset="0.72" stop-color="#6e6e6e"/><stop offset="0.9" stop-color="#383838"/><stop offset="1" stop-color="#1c1c1c"/></radialGradient>
<radialGradient id="gr5" cx="0.48" cy="0.52" r="0.72"><stop offset="0" stop-color="rgb(214,214,214)"/><stop offset="0.10" stop-color="rgb(220,220,220)"/><stop offset="0.22" stop-color="#fff"/><stop offset="0.34" stop-color="#fff"/><stop offset="0.52" stop-color="#c4c4c4"/><stop offset="0.72" stop-color="#6e6e6e"/><stop offset="0.9" stop-color="#383838"/><stop offset="1" stop-color="#1c1c1c"/></radialGradient>
<radialGradient id="gavg0" cx="0.5" cy="0.51" r="0.7"><stop offset="0" stop-color="#38ff48"/><stop offset="0.06" stop-color="#2cf03c"/><stop offset="0.16" stop-color="#12801a"/><stop offset="0.28" stop-color="#0a4c0e"/><stop offset="0.7" stop-color="#073408"/><stop offset="1" stop-color="#042405"/></radialGradient>
<radialGradient id="gavg1" cx="0.5" cy="0.51" r="0.7"><stop offset="0" stop-color="#ff2020"/><stop offset="0.1" stop-color="#f81414"/><stop offset="0.3" stop-color="#b00a0a"/><stop offset="0.6" stop-color="#6a0404"/><stop offset="1" stop-color="#300000"/></radialGradient>
<radialGradient id="gavg2" cx="0.5" cy="0.5" r="0.72"><stop offset="0" stop-color="#1414e0"/><stop offset="0.35" stop-color="#1212dc"/><stop offset="0.6" stop-color="#0c0cb4"/><stop offset="0.85" stop-color="#060684"/><stop offset="1" stop-color="#020258"/></radialGradient>
<clipPath id="cc00"><rect x="441.5" y="79.4" width="62.1" height="62.0"/></clipPath>
<g clip-path="url(#cc00)"><rect x="441.5" y="79.4" width="62.1" height="62.0" fill="#040c04"/>
<rect x="441.5" y="79.4" width="62.1" height="62.0" fill="#fff" filter="url(#nzG)" opacity="0.3"/>
<g transform="translate(441.5,79.4)">
<path d="M31.1,17.9 C32.4,15.8 34.9,12.1 37.4,10.4 C39.9,8.7 43.5,7.6 46.2,7.8 C48.9,8.0 52.1,9.5 53.8,11.6 C55.5,13.7 56.2,17.6 56.4,20.5 C56.6,23.4 56.4,27.0 55.1,29.3 C53.8,31.6 51.3,33.5 48.8,34.4 C46.3,35.2 42.6,35.2 39.9,34.4 C37.1,33.5 34.0,31.2 32.3,29.3 C30.6,27.4 30.0,24.9 29.8,23.0 C29.6,21.1 29.8,20.0 31.1,17.9Z" fill="#031405" filter="url(#b15)"/>
<path d="M4.0,39.4 C4.7,37.9 5.7,35.8 8.3,34.4 C10.9,33.0 17.2,31.1 19.7,31.3 C22.2,31.5 23.3,33.4 23.5,35.6 C23.7,37.8 22.7,42.2 21.0,44.5 C19.3,46.8 15.7,48.9 13.4,49.5 C11.1,50.1 8.7,49.3 7.1,48.3 C5.5,47.2 4.5,44.7 4.0,43.2 C3.5,41.7 3.3,40.9 4.0,39.4Z" fill="#031405" filter="url(#b15)"/>
<circle cx="44.1" cy="17.5" r="3.1" fill="#126a18" opacity="0.55" filter="url(#b1)"/><circle cx="44.1" cy="17.5" r="1.5" fill="#34f040" opacity="0.63" filter="url(#b05)"/>
<circle cx="41.1" cy="29.8" r="2.6" fill="#126a18" opacity="0.55" filter="url(#b1)"/><circle cx="41.1" cy="29.8" r="1.0" fill="#34f040" opacity="0.72" filter="url(#b05)"/>
<circle cx="50.9" cy="26.4" r="2.8" fill="#126a18" opacity="0.55" filter="url(#b1)"/><circle cx="50.9" cy="26.4" r="1.2" fill="#34f040" opacity="0.71" filter="url(#b05)"/>
<circle cx="49.2" cy="15.5" r="2.9" fill="#126a18" opacity="0.55" filter="url(#b1)"/><circle cx="49.2" cy="15.5" r="1.3" fill="#34f040" opacity="0.62" filter="url(#b05)"/>
<circle cx="37.2" cy="18.8" r="2.4" fill="#126a18" opacity="0.55" filter="url(#b1)"/><circle cx="37.2" cy="18.8" r="0.8" fill="#34f040" opacity="0.81" filter="url(#b05)"/>
<circle cx="46.1" cy="11.8" r="2.9" fill="#126a18" opacity="0.55" filter="url(#b1)"/><circle cx="46.1" cy="11.8" r="1.3" fill="#34f040" opacity="0.61" filter="url(#b05)"/>
<circle cx="46.4" cy="31.7" r="2.4" fill="#126a18" opacity="0.55" filter="url(#b1)"/><circle cx="46.4" cy="31.7" r="0.8" fill="#34f040" opacity="0.85" filter="url(#b05)"/>
<circle cx="52.2" cy="20.6" r="2.4" fill="#126a18" opacity="0.55" filter="url(#b1)"/><circle cx="52.2" cy="20.6" r="0.8" fill="#34f040" opacity="0.97" filter="url(#b05)"/>
<circle cx="46.7" cy="26.4" r="2.9" fill="#126a18" opacity="0.55" filter="url(#b1)"/><circle cx="46.7" cy="26.4" r="1.3" fill="#34f040" opacity="0.62" filter="url(#b05)"/>
<circle cx="35.7" cy="28.0" r="2.7" fill="#126a18" opacity="0.55" filter="url(#b1)"/><circle cx="35.7" cy="28.0" r="1.1" fill="#34f040" opacity="0.58" filter="url(#b05)"/>
<circle cx="8.4" cy="38.9" r="2.5" fill="#126a18" opacity="0.55" filter="url(#b1)"/><circle cx="8.4" cy="38.9" r="0.9" fill="#34f040" opacity="0.71" filter="url(#b05)"/>
<circle cx="17.0" cy="38.2" r="3.0" fill="#126a18" opacity="0.55" filter="url(#b1)"/><circle cx="17.0" cy="38.2" r="1.4" fill="#34f040" opacity="0.96" filter="url(#b05)"/>
<circle cx="12.4" cy="40.3" r="2.9" fill="#126a18" opacity="0.55" filter="url(#b1)"/><circle cx="12.4" cy="40.3" r="1.3" fill="#34f040" opacity="0.84" filter="url(#b05)"/>
<circle cx="16.1" cy="43.6" r="2.8" fill="#126a18" opacity="0.55" filter="url(#b1)"/><circle cx="16.1" cy="43.6" r="1.2" fill="#34f040" opacity="0.78" filter="url(#b05)"/>
<path d="M31.1,17.9 C32.4,15.8 34.9,12.1 37.4,10.4 C39.9,8.7 43.5,7.6 46.2,7.8 C48.9,8.0 52.1,9.5 53.8,11.6 C55.5,13.7 56.2,17.6 56.4,20.5 C56.6,23.4 56.4,27.0 55.1,29.3 C53.8,31.6 51.3,33.5 48.8,34.4 C46.3,35.2 42.6,35.2 39.9,34.4 C37.1,33.5 34.0,31.2 32.3,29.3 C30.6,27.4 30.0,24.9 29.8,23.0 C29.6,21.1 29.8,20.0 31.1,17.9Z" fill="none" stroke="#fff" stroke-width="1.3" stroke-dasharray="3.3,2"/>
<path d="M4.0,39.4 C4.7,37.9 5.7,35.8 8.3,34.4 C10.9,33.0 17.2,31.1 19.7,31.3 C22.2,31.5 23.3,33.4 23.5,35.6 C23.7,37.8 22.7,42.2 21.0,44.5 C19.3,46.8 15.7,48.9 13.4,49.5 C11.1,50.1 8.7,49.3 7.1,48.3 C5.5,47.2 4.5,44.7 4.0,43.2 C3.5,41.7 3.3,40.9 4.0,39.4Z" fill="none" stroke="#fff" stroke-width="1.3" stroke-dasharray="3.3,2"/>
<rect x="52.8" y="55.6" width="8.2" height="3" fill="#fff"/>
</g></g>
<clipPath id="cc01"><rect x="508.4" y="79.4" width="62.1" height="62.0"/></clipPath>
<g clip-path="url(#cc01)"><rect x="508.4" y="79.4" width="62.1" height="62.0" fill="#030a03"/>
<rect x="508.4" y="79.4" width="62.1" height="62.0" fill="#fff" filter="url(#nzG)" opacity="0.22"/>
<g transform="translate(508.4,79.4)">
<path d="M15.9,29.3 C16.4,27.2 16.3,23.9 18.4,21.7 C20.5,19.5 25.0,17.0 28.6,16.2 C32.2,15.4 37.4,15.3 39.9,16.7 C42.4,18.1 43.1,21.4 43.7,24.3 C44.3,27.2 44.8,31.4 43.7,34.4 C42.7,37.4 40.1,40.2 37.4,42.0 C34.7,43.8 30.5,45.2 27.3,45.0 C24.1,44.8 20.4,42.5 18.4,40.7 C16.4,38.9 15.8,36.3 15.4,34.4 C15.0,32.5 15.4,31.4 15.9,29.3Z" fill="#031405" filter="url(#b15)"/>
<circle cx="34.2" cy="19.7" r="2.9" fill="#126a18" opacity="0.55" filter="url(#b1)"/><circle cx="34.2" cy="19.7" r="1.3" fill="#34f040" opacity="0.77" filter="url(#b05)"/>
<circle cx="39.2" cy="24.7" r="2.7" fill="#126a18" opacity="0.55" filter="url(#b1)"/><circle cx="39.2" cy="24.7" r="1.1" fill="#34f040" opacity="0.93" filter="url(#b05)"/>
<circle cx="22.4" cy="23.3" r="2.6" fill="#126a18" opacity="0.55" filter="url(#b1)"/><circle cx="22.4" cy="23.3" r="1.0" fill="#34f040" opacity="0.73" filter="url(#b05)"/>
<circle cx="29.8" cy="22.9" r="2.9" fill="#126a18" opacity="0.55" filter="url(#b1)"/><circle cx="29.8" cy="22.9" r="1.3" fill="#34f040" opacity="0.98" filter="url(#b05)"/>
<circle cx="28.8" cy="39.8" r="2.6" fill="#126a18" opacity="0.55" filter="url(#b1)"/><circle cx="28.8" cy="39.8" r="1.0" fill="#34f040" opacity="0.74" filter="url(#b05)"/>
<circle cx="39.9" cy="29.1" r="2.7" fill="#126a18" opacity="0.55" filter="url(#b1)"/><circle cx="39.9" cy="29.1" r="1.1" fill="#34f040" opacity="0.64" filter="url(#b05)"/>
<circle cx="32.3" cy="34.1" r="2.6" fill="#126a18" opacity="0.55" filter="url(#b1)"/><circle cx="32.3" cy="34.1" r="1.0" fill="#34f040" opacity="0.91" filter="url(#b05)"/>
<circle cx="22.6" cy="33.5" r="2.5" fill="#126a18" opacity="0.55" filter="url(#b1)"/><circle cx="22.6" cy="33.5" r="0.9" fill="#34f040" opacity="0.76" filter="url(#b05)"/>
<circle cx="18.5" cy="30.3" r="2.6" fill="#126a18" opacity="0.55" filter="url(#b1)"/><circle cx="18.5" cy="30.3" r="1.0" fill="#34f040" opacity="0.81" filter="url(#b05)"/>
<circle cx="33.3" cy="40.0" r="2.9" fill="#126a18" opacity="0.55" filter="url(#b1)"/><circle cx="33.3" cy="40.0" r="1.3" fill="#34f040" opacity="0.60" filter="url(#b05)"/>
<circle cx="35.2" cy="30.6" r="2.7" fill="#126a18" opacity="0.55" filter="url(#b1)"/><circle cx="35.2" cy="30.6" r="1.1" fill="#34f040" opacity="0.63" filter="url(#b05)"/>
<path d="M15.9,29.3 C16.4,27.2 16.3,23.9 18.4,21.7 C20.5,19.5 25.0,17.0 28.6,16.2 C32.2,15.4 37.4,15.3 39.9,16.7 C42.4,18.1 43.1,21.4 43.7,24.3 C44.3,27.2 44.8,31.4 43.7,34.4 C42.7,37.4 40.1,40.2 37.4,42.0 C34.7,43.8 30.5,45.2 27.3,45.0 C24.1,44.8 20.4,42.5 18.4,40.7 C16.4,38.9 15.8,36.3 15.4,34.4 C15.0,32.5 15.4,31.4 15.9,29.3Z" fill="none" stroke="#fff" stroke-width="1.3" stroke-dasharray="3.3,2"/>
<rect x="52.0" y="54.0" width="8.2" height="3" fill="#fff"/>
</g></g>
<clipPath id="cc02"><rect x="575.2" y="79.4" width="62.1" height="62.0"/></clipPath>
<g clip-path="url(#cc02)"><rect x="575.2" y="79.4" width="62.1" height="62.0" fill="#010301"/>
<rect x="575.2" y="79.4" width="62.1" height="62.0" fill="#fff" filter="url(#nzG)" opacity="0.05"/>
<g transform="translate(575.2,79.4)">
<path d="M8.6,26.8 C10.1,24.5 13.4,22.4 17.4,20.5 C21.4,18.6 28.4,15.7 32.6,15.4 C36.8,15.1 39.7,16.9 42.7,18.6 C45.7,20.3 48.9,22.9 50.8,25.4 C52.7,27.9 54.6,31.6 54.3,33.6 C54.0,35.6 50.9,36.5 49.0,37.6 C47.1,38.7 44.3,38.8 43.2,40.4 C42.1,42.0 43.6,45.0 42.2,47.4 C40.9,49.8 38.2,53.1 35.1,54.8 C32.0,56.5 27.2,57.9 23.8,57.6 C20.4,57.4 17.0,55.9 14.9,53.3 C12.8,50.7 12.2,45.1 11.1,42.0 C10.0,38.9 9.0,36.9 8.6,34.4 C8.2,31.9 7.1,29.1 8.6,26.8Z" fill="#031405" filter="url(#b15)"/>
<circle cx="37.3" cy="30.4" r="2.9" fill="#126a18" opacity="0.55" filter="url(#b1)"/><circle cx="37.3" cy="30.4" r="1.3" fill="#34f040" opacity="0.85" filter="url(#b05)"/>
<circle cx="26.9" cy="32.1" r="2.6" fill="#126a18" opacity="0.55" filter="url(#b1)"/><circle cx="26.9" cy="32.1" r="1.0" fill="#34f040" opacity="0.65" filter="url(#b05)"/>
<circle cx="25.9" cy="52.7" r="2.6" fill="#126a18" opacity="0.55" filter="url(#b1)"/><circle cx="25.9" cy="52.7" r="1.0" fill="#34f040" opacity="0.70" filter="url(#b05)"/>
<circle cx="19.3" cy="34.9" r="3.0" fill="#126a18" opacity="0.55" filter="url(#b1)"/><circle cx="19.3" cy="34.9" r="1.4" fill="#34f040" opacity="0.94" filter="url(#b05)"/>
<circle cx="14.4" cy="34.9" r="3.0" fill="#126a18" opacity="0.55" filter="url(#b1)"/><circle cx="14.4" cy="34.9" r="1.4" fill="#34f040" opacity="0.73" filter="url(#b05)"/>
<circle cx="32.5" cy="22.2" r="2.7" fill="#126a18" opacity="0.55" filter="url(#b1)"/><circle cx="32.5" cy="22.2" r="1.1" fill="#34f040" opacity="0.64" filter="url(#b05)"/>
<circle cx="42.1" cy="33.8" r="2.7" fill="#126a18" opacity="0.55" filter="url(#b1)"/><circle cx="42.1" cy="33.8" r="1.1" fill="#34f040" opacity="0.98" filter="url(#b05)"/>
<circle cx="17.6" cy="42.3" r="2.5" fill="#126a18" opacity="0.55" filter="url(#b1)"/><circle cx="17.6" cy="42.3" r="0.9" fill="#34f040" opacity="0.73" filter="url(#b05)"/>
<circle cx="27.1" cy="46.7" r="2.5" fill="#126a18" opacity="0.55" filter="url(#b1)"/><circle cx="27.1" cy="46.7" r="0.9" fill="#34f040" opacity="0.93" filter="url(#b05)"/>
<circle cx="27.8" cy="25.0" r="2.6" fill="#126a18" opacity="0.55" filter="url(#b1)"/><circle cx="27.8" cy="25.0" r="1.0" fill="#34f040" opacity="0.77" filter="url(#b05)"/>
<circle cx="37.4" cy="26.0" r="2.4" fill="#126a18" opacity="0.55" filter="url(#b1)"/><circle cx="37.4" cy="26.0" r="0.8" fill="#34f040" opacity="0.86" filter="url(#b05)"/>
<circle cx="32.0" cy="42.4" r="2.8" fill="#126a18" opacity="0.55" filter="url(#b1)"/><circle cx="32.0" cy="42.4" r="1.2" fill="#34f040" opacity="0.91" filter="url(#b05)"/>
<circle cx="46.7" cy="30.4" r="2.9" fill="#126a18" opacity="0.55" filter="url(#b1)"/><circle cx="46.7" cy="30.4" r="1.3" fill="#34f040" opacity="0.88" filter="url(#b05)"/>
<circle cx="31.1" cy="36.4" r="2.6" fill="#126a18" opacity="0.55" filter="url(#b1)"/><circle cx="31.1" cy="36.4" r="1.0" fill="#34f040" opacity="0.66" filter="url(#b05)"/>
<circle cx="23.7" cy="28.8" r="2.8" fill="#126a18" opacity="0.55" filter="url(#b1)"/><circle cx="23.7" cy="28.8" r="1.2" fill="#34f040" opacity="0.57" filter="url(#b05)"/>
<circle cx="27.9" cy="40.2" r="3.1" fill="#126a18" opacity="0.55" filter="url(#b1)"/><circle cx="27.9" cy="40.2" r="1.5" fill="#34f040" opacity="0.87" filter="url(#b05)"/>
<circle cx="13.4" cy="29.1" r="2.7" fill="#126a18" opacity="0.55" filter="url(#b1)"/><circle cx="13.4" cy="29.1" r="1.1" fill="#34f040" opacity="0.71" filter="url(#b05)"/>
<circle cx="46.2" cy="35.6" r="2.5" fill="#126a18" opacity="0.55" filter="url(#b1)"/><circle cx="46.2" cy="35.6" r="0.9" fill="#34f040" opacity="0.80" filter="url(#b05)"/>
<circle cx="41.2" cy="38.8" r="2.9" fill="#126a18" opacity="0.55" filter="url(#b1)"/><circle cx="41.2" cy="38.8" r="1.3" fill="#34f040" opacity="0.60" filter="url(#b05)"/>
<circle cx="33.0" cy="31.7" r="2.5" fill="#126a18" opacity="0.55" filter="url(#b1)"/><circle cx="33.0" cy="31.7" r="0.9" fill="#34f040" opacity="0.86" filter="url(#b05)"/>
<circle cx="30.8" cy="51.9" r="2.7" fill="#126a18" opacity="0.55" filter="url(#b1)"/><circle cx="30.8" cy="51.9" r="1.1" fill="#34f040" opacity="0.91" filter="url(#b05)"/>
<circle cx="20.1" cy="50.8" r="2.7" fill="#126a18" opacity="0.55" filter="url(#b1)"/><circle cx="20.1" cy="50.8" r="1.1" fill="#34f040" opacity="0.99" filter="url(#b05)"/>
<circle cx="33.2" cy="27.0" r="3.0" fill="#126a18" opacity="0.55" filter="url(#b1)"/><circle cx="33.2" cy="27.0" r="1.4" fill="#34f040" opacity="0.69" filter="url(#b05)"/>
<path d="M8.6,26.8 C10.1,24.5 13.4,22.4 17.4,20.5 C21.4,18.6 28.4,15.7 32.6,15.4 C36.8,15.1 39.7,16.9 42.7,18.6 C45.7,20.3 48.9,22.9 50.8,25.4 C52.7,27.9 54.6,31.6 54.3,33.6 C54.0,35.6 50.9,36.5 49.0,37.6 C47.1,38.7 44.3,38.8 43.2,40.4 C42.1,42.0 43.6,45.0 42.2,47.4 C40.9,49.8 38.2,53.1 35.1,54.8 C32.0,56.5 27.2,57.9 23.8,57.6 C20.4,57.4 17.0,55.9 14.9,53.3 C12.8,50.7 12.2,45.1 11.1,42.0 C10.0,38.9 9.0,36.9 8.6,34.4 C8.2,31.9 7.1,29.1 8.6,26.8Z" fill="none" stroke="#fff" stroke-width="1.3" stroke-dasharray="3.3,2"/>
<rect x="52.8" y="52.0" width="8.2" height="3" fill="#fff"/>
</g></g>
<clipPath id="cc03"><rect x="643.0" y="79.4" width="62.1" height="62.0"/></clipPath>
<g clip-path="url(#cc03)"><rect x="643.0" y="79.4" width="62.1" height="62.0" fill="#000200"/>
<rect x="643.0" y="79.4" width="62.1" height="62.0" fill="#fff" filter="url(#nzG)" opacity="0.04"/>
<g transform="translate(643.0,79.4)">
<path d="M26.0,14.2 C26.6,11.9 28.2,7.5 31.1,5.3 C34.1,3.1 39.5,1.2 43.7,1.0 C47.9,0.8 53.5,1.8 56.4,4.0 C59.3,6.2 61.0,10.8 61.4,14.2 C61.8,17.6 60.6,21.7 58.9,24.3 C57.2,26.9 54.0,28.9 51.3,29.8 C48.6,30.7 45.5,30.5 42.5,29.8 C39.5,29.1 36.1,27.3 33.6,25.5 C31.1,23.7 28.6,21.1 27.3,19.2 C26.0,17.3 25.4,16.5 26.0,14.2Z" fill="#031405" filter="url(#b15)"/>
<path d="M0.0,31.8 C0.2,28.0 2.1,23.9 4.5,21.7 C6.9,19.5 11.5,18.3 14.7,18.7 C17.9,19.1 21.2,21.7 23.5,24.3 C25.8,26.9 27.5,30.6 28.6,34.4 C29.7,38.2 30.5,43.2 30.3,47.0 C30.1,50.8 29.1,54.9 27.3,57.1 C25.5,59.3 22.4,60.5 19.7,60.1 C17.0,59.7 13.6,57.2 10.9,54.6 C8.2,52.0 5.1,48.3 3.3,44.5 C1.5,40.7 -0.2,35.6 0.0,31.8Z" fill="#031405" filter="url(#b15)"/>
<circle cx="37.8" cy="24.7" r="2.8" fill="#126a18" opacity="0.55" filter="url(#b1)"/><circle cx="37.8" cy="24.7" r="1.2" fill="#34f040" opacity="0.81" filter="url(#b05)"/>
<circle cx="52.0" cy="21.7" r="2.7" fill="#126a18" opacity="0.55" filter="url(#b1)"/><circle cx="52.0" cy="21.7" r="1.1" fill="#34f040" opacity="0.92" filter="url(#b05)"/>
<circle cx="32.4" cy="18.5" r="2.9" fill="#126a18" opacity="0.55" filter="url(#b1)"/><circle cx="32.4" cy="18.5" r="1.3" fill="#34f040" opacity="0.92" filter="url(#b05)"/>
<circle cx="41.4" cy="12.3" r="2.6" fill="#126a18" opacity="0.55" filter="url(#b1)"/><circle cx="41.4" cy="12.3" r="1.0" fill="#34f040" opacity="0.78" filter="url(#b05)"/>
<circle cx="51.0" cy="6.0" r="2.8" fill="#126a18" opacity="0.55" filter="url(#b1)"/><circle cx="51.0" cy="6.0" r="1.2" fill="#34f040" opacity="0.81" filter="url(#b05)"/>
<circle cx="46.4" cy="14.0" r="2.4" fill="#126a18" opacity="0.55" filter="url(#b1)"/><circle cx="46.4" cy="14.0" r="0.8" fill="#34f040" opacity="0.92" filter="url(#b05)"/>
<circle cx="40.7" cy="20.3" r="2.7" fill="#126a18" opacity="0.55" filter="url(#b1)"/><circle cx="40.7" cy="20.3" r="1.1" fill="#34f040" opacity="0.62" filter="url(#b05)"/>
<circle cx="46.2" cy="22.0" r="3.0" fill="#126a18" opacity="0.55" filter="url(#b1)"/><circle cx="46.2" cy="22.0" r="1.4" fill="#34f040" opacity="0.80" filter="url(#b05)"/>
<circle cx="42.2" cy="25.9" r="2.9" fill="#126a18" opacity="0.55" filter="url(#b1)"/><circle cx="42.2" cy="25.9" r="1.3" fill="#34f040" opacity="0.88" filter="url(#b05)"/>
<circle cx="45.6" cy="6.9" r="2.8" fill="#126a18" opacity="0.55" filter="url(#b1)"/><circle cx="45.6" cy="6.9" r="1.2" fill="#34f040" opacity="0.96" filter="url(#b05)"/>
<circle cx="33.9" cy="12.5" r="2.4" fill="#126a18" opacity="0.55" filter="url(#b1)"/><circle cx="33.9" cy="12.5" r="0.8" fill="#34f040" opacity="0.70" filter="url(#b05)"/>
<circle cx="54.6" cy="9.4" r="2.5" fill="#126a18" opacity="0.55" filter="url(#b1)"/><circle cx="54.6" cy="9.4" r="0.9" fill="#34f040" opacity="0.84" filter="url(#b05)"/>
<circle cx="49.4" cy="17.1" r="2.6" fill="#126a18" opacity="0.55" filter="url(#b1)"/><circle cx="49.4" cy="17.1" r="1.0" fill="#34f040" opacity="0.56" filter="url(#b05)"/>
<circle cx="14.0" cy="42.5" r="2.5" fill="#126a18" opacity="0.55" filter="url(#b1)"/><circle cx="14.0" cy="42.5" r="0.9" fill="#34f040" opacity="0.63" filter="url(#b05)"/>
<circle cx="19.0" cy="44.9" r="2.8" fill="#126a18" opacity="0.55" filter="url(#b1)"/><circle cx="19.0" cy="44.9" r="1.2" fill="#34f040" opacity="0.75" filter="url(#b05)"/>
<circle cx="25.5" cy="38.2" r="2.7" fill="#126a18" opacity="0.55" filter="url(#b1)"/><circle cx="25.5" cy="38.2" r="1.1" fill="#34f040" opacity="0.56" filter="url(#b05)"/>
<circle cx="20.3" cy="30.6" r="2.8" fill="#126a18" opacity="0.55" filter="url(#b1)"/><circle cx="20.3" cy="30.6" r="1.2" fill="#34f040" opacity="0.66" filter="url(#b05)"/>
<circle cx="16.5" cy="52.2" r="2.5" fill="#126a18" opacity="0.55" filter="url(#b1)"/><circle cx="16.5" cy="52.2" r="0.9" fill="#34f040" opacity="0.58" filter="url(#b05)"/>
<circle cx="15.8" cy="31.1" r="2.5" fill="#126a18" opacity="0.55" filter="url(#b1)"/><circle cx="15.8" cy="31.1" r="0.9" fill="#34f040" opacity="0.73" filter="url(#b05)"/>
<circle cx="11.9" cy="50.0" r="2.5" fill="#126a18" opacity="0.55" filter="url(#b1)"/><circle cx="11.9" cy="50.0" r="0.9" fill="#34f040" opacity="0.76" filter="url(#b05)"/>
<circle cx="15.7" cy="24.4" r="2.5" fill="#126a18" opacity="0.55" filter="url(#b1)"/><circle cx="15.7" cy="24.4" r="0.9" fill="#34f040" opacity="0.88" filter="url(#b05)"/>
<circle cx="7.6" cy="28.7" r="3.0" fill="#126a18" opacity="0.55" filter="url(#b1)"/><circle cx="7.6" cy="28.7" r="1.4" fill="#34f040" opacity="0.70" filter="url(#b05)"/>
<circle cx="24.2" cy="53.6" r="2.5" fill="#126a18" opacity="0.55" filter="url(#b1)"/><circle cx="24.2" cy="53.6" r="0.9" fill="#34f040" opacity="0.98" filter="url(#b05)"/>
<circle cx="25.6" cy="46.4" r="2.5" fill="#126a18" opacity="0.55" filter="url(#b1)"/><circle cx="25.6" cy="46.4" r="0.9" fill="#34f040" opacity="0.84" filter="url(#b05)"/>
<circle cx="11.5" cy="31.0" r="2.9" fill="#126a18" opacity="0.55" filter="url(#b1)"/><circle cx="11.5" cy="31.0" r="1.3" fill="#34f040" opacity="0.77" filter="url(#b05)"/>
<circle cx="7.2" cy="34.5" r="3.0" fill="#126a18" opacity="0.55" filter="url(#b1)"/><circle cx="7.2" cy="34.5" r="1.4" fill="#34f040" opacity="0.62" filter="url(#b05)"/>
<circle cx="19.8" cy="35.0" r="2.9" fill="#126a18" opacity="0.55" filter="url(#b1)"/><circle cx="19.8" cy="35.0" r="1.3" fill="#34f040" opacity="0.96" filter="url(#b05)"/>
<circle cx="23.9" cy="42.4" r="3.0" fill="#126a18" opacity="0.55" filter="url(#b1)"/><circle cx="23.9" cy="42.4" r="1.4" fill="#34f040" opacity="0.93" filter="url(#b05)"/>
<path d="M26.0,14.2 C26.6,11.9 28.2,7.5 31.1,5.3 C34.1,3.1 39.5,1.2 43.7,1.0 C47.9,0.8 53.5,1.8 56.4,4.0 C59.3,6.2 61.0,10.8 61.4,14.2 C61.8,17.6 60.6,21.7 58.9,24.3 C57.2,26.9 54.0,28.9 51.3,29.8 C48.6,30.7 45.5,30.5 42.5,29.8 C39.5,29.1 36.1,27.3 33.6,25.5 C31.1,23.7 28.6,21.1 27.3,19.2 C26.0,17.3 25.4,16.5 26.0,14.2Z" fill="none" stroke="#fff" stroke-width="1.3" stroke-dasharray="3.3,2"/>
<path d="M0.0,31.8 C0.2,28.0 2.1,23.9 4.5,21.7 C6.9,19.5 11.5,18.3 14.7,18.7 C17.9,19.1 21.2,21.7 23.5,24.3 C25.8,26.9 27.5,30.6 28.6,34.4 C29.7,38.2 30.5,43.2 30.3,47.0 C30.1,50.8 29.1,54.9 27.3,57.1 C25.5,59.3 22.4,60.5 19.7,60.1 C17.0,59.7 13.6,57.2 10.9,54.6 C8.2,52.0 5.1,48.3 3.3,44.5 C1.5,40.7 -0.2,35.6 0.0,31.8Z" fill="none" stroke="#fff" stroke-width="1.3" stroke-dasharray="3.3,2"/>
<rect x="51.8" y="52.0" width="8.2" height="3" fill="#fff"/>
</g></g>
<clipPath id="cc04"><rect x="709.0" y="79.4" width="62.1" height="62.0"/></clipPath>
<g clip-path="url(#cc04)"><rect x="709.0" y="79.4" width="62.1" height="62.0" fill="#030a03"/>
<rect x="709.0" y="79.4" width="62.1" height="62.0" fill="#fff" filter="url(#nzG)" opacity="0.22"/>
<g transform="translate(709.0,79.4)">
<path d="M15.7,36.9 C16.5,34.2 17.6,30.2 19.5,26.8 C21.4,23.4 24.3,19.1 27.0,16.7 C29.7,14.2 32.9,12.6 35.9,12.1 C38.9,11.6 43.0,12.0 44.7,13.6 C46.4,15.2 46.2,18.2 46.0,21.7 C45.8,25.2 44.8,30.4 43.5,34.4 C42.2,38.4 40.9,42.8 38.4,45.7 C35.9,48.7 31.4,51.5 28.3,52.1 C25.2,52.7 21.7,51.0 19.5,49.5 C17.3,48.0 15.5,45.3 14.9,43.2 C14.3,41.1 14.9,39.6 15.7,36.9Z" fill="#031405" filter="url(#b15)"/>
<circle cx="32.8" cy="19.4" r="2.7" fill="#126a18" opacity="0.55" filter="url(#b1)"/><circle cx="32.8" cy="19.4" r="1.1" fill="#34f040" opacity="0.78" filter="url(#b05)"/>
<circle cx="35.3" cy="38.0" r="3.0" fill="#126a18" opacity="0.55" filter="url(#b1)"/><circle cx="35.3" cy="38.0" r="1.4" fill="#34f040" opacity="0.72" filter="url(#b05)"/>
<circle cx="37.0" cy="30.5" r="2.6" fill="#126a18" opacity="0.55" filter="url(#b1)"/><circle cx="37.0" cy="30.5" r="1.0" fill="#34f040" opacity="0.56" filter="url(#b05)"/>
<circle cx="23.5" cy="28.9" r="2.5" fill="#126a18" opacity="0.55" filter="url(#b1)"/><circle cx="23.5" cy="28.9" r="0.9" fill="#34f040" opacity="0.61" filter="url(#b05)"/>
<circle cx="23.2" cy="43.0" r="3.1" fill="#126a18" opacity="0.55" filter="url(#b1)"/><circle cx="23.2" cy="43.0" r="1.5" fill="#34f040" opacity="0.69" filter="url(#b05)"/>
<circle cx="30.0" cy="46.9" r="2.6" fill="#126a18" opacity="0.55" filter="url(#b1)"/><circle cx="30.0" cy="46.9" r="1.0" fill="#34f040" opacity="0.99" filter="url(#b05)"/>
<circle cx="32.6" cy="32.5" r="2.9" fill="#126a18" opacity="0.55" filter="url(#b1)"/><circle cx="32.6" cy="32.5" r="1.3" fill="#34f040" opacity="0.75" filter="url(#b05)"/>
<circle cx="26.8" cy="34.2" r="2.5" fill="#126a18" opacity="0.55" filter="url(#b1)"/><circle cx="26.8" cy="34.2" r="0.9" fill="#34f040" opacity="0.71" filter="url(#b05)"/>
<circle cx="35.7" cy="25.7" r="2.6" fill="#126a18" opacity="0.55" filter="url(#b1)"/><circle cx="35.7" cy="25.7" r="1.0" fill="#34f040" opacity="0.98" filter="url(#b05)"/>
<circle cx="28.4" cy="28.8" r="2.7" fill="#126a18" opacity="0.55" filter="url(#b1)"/><circle cx="28.4" cy="28.8" r="1.1" fill="#34f040" opacity="0.99" filter="url(#b05)"/>
<circle cx="25.7" cy="23.5" r="2.6" fill="#126a18" opacity="0.55" filter="url(#b1)"/><circle cx="25.7" cy="23.5" r="1.0" fill="#34f040" opacity="0.57" filter="url(#b05)"/>
<circle cx="41.1" cy="27.2" r="3.0" fill="#126a18" opacity="0.55" filter="url(#b1)"/><circle cx="41.1" cy="27.2" r="1.4" fill="#34f040" opacity="0.58" filter="url(#b05)"/>
<circle cx="41.6" cy="19.6" r="3.0" fill="#126a18" opacity="0.55" filter="url(#b1)"/><circle cx="41.6" cy="19.6" r="1.4" fill="#34f040" opacity="0.82" filter="url(#b05)"/>
<circle cx="33.5" cy="43.5" r="2.6" fill="#126a18" opacity="0.55" filter="url(#b1)"/><circle cx="33.5" cy="43.5" r="1.0" fill="#34f040" opacity="0.93" filter="url(#b05)"/>
<circle cx="20.5" cy="34.8" r="2.7" fill="#126a18" opacity="0.55" filter="url(#b1)"/><circle cx="20.5" cy="34.8" r="1.1" fill="#34f040" opacity="0.99" filter="url(#b05)"/>
<path d="M15.7,36.9 C16.5,34.2 17.6,30.2 19.5,26.8 C21.4,23.4 24.3,19.1 27.0,16.7 C29.7,14.2 32.9,12.6 35.9,12.1 C38.9,11.6 43.0,12.0 44.7,13.6 C46.4,15.2 46.2,18.2 46.0,21.7 C45.8,25.2 44.8,30.4 43.5,34.4 C42.2,38.4 40.9,42.8 38.4,45.7 C35.9,48.7 31.4,51.5 28.3,52.1 C25.2,52.7 21.7,51.0 19.5,49.5 C17.3,48.0 15.5,45.3 14.9,43.2 C14.3,41.1 14.9,39.6 15.7,36.9Z" fill="none" stroke="#fff" stroke-width="1.3" stroke-dasharray="3.3,2"/>
<rect x="52.3" y="54.0" width="8.2" height="3" fill="#fff"/>
</g></g>
<clipPath id="cc05"><rect x="775.6" y="79.4" width="62.1" height="62.0"/></clipPath>
<g clip-path="url(#cc05)"><rect x="775.6" y="79.4" width="62.1" height="62.0" fill="#040c04"/>
<rect x="775.6" y="79.4" width="62.1" height="62.0" fill="#fff" filter="url(#nzG)" opacity="0.3"/>
<g transform="translate(775.6,79.4)">
<path d="M16.2,21.7 C16.1,19.6 17.9,17.1 20.0,16.7 C22.1,16.3 25.7,17.9 28.8,19.2 C31.9,20.5 35.9,22.6 38.9,24.3 C41.9,26.0 44.7,27.2 46.5,29.3 C48.3,31.4 49.5,34.4 49.5,36.9 C49.5,39.4 48.7,42.9 46.5,44.5 C44.3,46.1 39.6,46.6 36.4,46.5 C33.2,46.4 29.6,45.6 27.5,44.0 C25.4,42.4 24.9,39.4 23.8,36.9 C22.7,34.4 22.0,31.8 20.7,29.3 C19.4,26.8 16.3,23.8 16.2,21.7Z" fill="#031405" filter="url(#b15)"/>
<circle cx="38.6" cy="29.8" r="2.8" fill="#126a18" opacity="0.55" filter="url(#b1)"/><circle cx="38.6" cy="29.8" r="1.2" fill="#34f040" opacity="0.97" filter="url(#b05)"/>
<circle cx="30.1" cy="30.6" r="3.1" fill="#126a18" opacity="0.55" filter="url(#b1)"/><circle cx="30.1" cy="30.6" r="1.5" fill="#34f040" opacity="0.72" filter="url(#b05)"/>
<circle cx="33.7" cy="33.5" r="2.9" fill="#126a18" opacity="0.55" filter="url(#b1)"/><circle cx="33.7" cy="33.5" r="1.3" fill="#34f040" opacity="0.88" filter="url(#b05)"/>
<circle cx="32.4" cy="39.4" r="2.9" fill="#126a18" opacity="0.55" filter="url(#b1)"/><circle cx="32.4" cy="39.4" r="1.3" fill="#34f040" opacity="0.56" filter="url(#b05)"/>
<circle cx="32.3" cy="23.2" r="2.9" fill="#126a18" opacity="0.55" filter="url(#b1)"/><circle cx="32.3" cy="23.2" r="1.3" fill="#34f040" opacity="0.89" filter="url(#b05)"/>
<circle cx="20.3" cy="23.9" r="2.5" fill="#126a18" opacity="0.55" filter="url(#b1)"/><circle cx="20.3" cy="23.9" r="0.9" fill="#34f040" opacity="0.59" filter="url(#b05)"/>
<circle cx="26.7" cy="36.6" r="2.4" fill="#126a18" opacity="0.55" filter="url(#b1)"/><circle cx="26.7" cy="36.6" r="0.8" fill="#34f040" opacity="0.79" filter="url(#b05)"/>
<circle cx="45.4" cy="35.1" r="2.5" fill="#126a18" opacity="0.55" filter="url(#b1)"/><circle cx="45.4" cy="35.1" r="0.9" fill="#34f040" opacity="0.93" filter="url(#b05)"/>
<circle cx="43.7" cy="30.0" r="2.7" fill="#126a18" opacity="0.55" filter="url(#b1)"/><circle cx="43.7" cy="30.0" r="1.1" fill="#34f040" opacity="1.00" filter="url(#b05)"/>
<circle cx="33.9" cy="28.3" r="2.9" fill="#126a18" opacity="0.55" filter="url(#b1)"/><circle cx="33.9" cy="28.3" r="1.3" fill="#34f040" opacity="0.74" filter="url(#b05)"/>
<path d="M16.2,21.7 C16.1,19.6 17.9,17.1 20.0,16.7 C22.1,16.3 25.7,17.9 28.8,19.2 C31.9,20.5 35.9,22.6 38.9,24.3 C41.9,26.0 44.7,27.2 46.5,29.3 C48.3,31.4 49.5,34.4 49.5,36.9 C49.5,39.4 48.7,42.9 46.5,44.5 C44.3,46.1 39.6,46.6 36.4,46.5 C33.2,46.4 29.6,45.6 27.5,44.0 C25.4,42.4 24.9,39.4 23.8,36.9 C22.7,34.4 22.0,31.8 20.7,29.3 C19.4,26.8 16.3,23.8 16.2,21.7Z" fill="none" stroke="#fff" stroke-width="1.3" stroke-dasharray="3.3,2"/>
<rect x="52.5" y="54.0" width="8.2" height="3" fill="#fff"/>
</g></g>
<clipPath id="cc10"><rect x="441.5" y="145.0" width="62.1" height="62.0"/></clipPath>
<g clip-path="url(#cc10)"><rect x="441.5" y="145.0" width="62.1" height="62.0" fill="#0e0202"/>
<rect x="441.5" y="145.0" width="62.1" height="62.0" fill="#fff" filter="url(#nzR)" opacity="0.22"/>
<g transform="translate(441.5,145.0)">
<path d="M31.1,17.9 C32.4,15.8 34.9,12.1 37.4,10.4 C39.9,8.7 43.5,7.6 46.2,7.8 C48.9,8.0 52.1,9.5 53.8,11.6 C55.5,13.7 56.2,17.6 56.4,20.5 C56.6,23.4 56.4,27.0 55.1,29.3 C53.8,31.6 51.3,33.5 48.8,34.4 C46.3,35.2 42.6,35.2 39.9,34.4 C37.1,33.5 34.0,31.2 32.3,29.3 C30.6,27.4 30.0,24.9 29.8,23.0 C29.6,21.1 29.8,20.0 31.1,17.9Z" fill="#620408" filter="url(#b15)"/>
<path d="M4.0,39.4 C4.7,37.9 5.7,35.8 8.3,34.4 C10.9,33.0 17.2,31.1 19.7,31.3 C22.2,31.5 23.3,33.4 23.5,35.6 C23.7,37.8 22.7,42.2 21.0,44.5 C19.3,46.8 15.7,48.9 13.4,49.5 C11.1,50.1 8.7,49.3 7.1,48.3 C5.5,47.2 4.5,44.7 4.0,43.2 C3.5,41.7 3.3,40.9 4.0,39.4Z" fill="#620408" filter="url(#b15)"/>
<circle cx="44.1" cy="17.5" r="2.1" fill="#ff2020" opacity="0.55" filter="url(#b1)"/>
<circle cx="41.1" cy="29.8" r="2.1" fill="#ff2020" opacity="0.75" filter="url(#b1)"/>
<circle cx="34.6" cy="23.3" r="2.1" fill="#ff2020" opacity="0.95" filter="url(#b1)"/>
<circle cx="49.2" cy="15.5" r="2.1" fill="#ff2020" opacity="0.85" filter="url(#b1)"/>
<circle cx="42.4" cy="25.5" r="2.1" fill="#ff2020" opacity="0.55" filter="url(#b1)"/>
<circle cx="37.2" cy="18.8" r="2.1" fill="#ff2020" opacity="0.75" filter="url(#b1)"/>
<circle cx="38.9" cy="14.8" r="2.1" fill="#ff2020" opacity="0.65" filter="url(#b1)"/>
<circle cx="46.4" cy="31.7" r="2.1" fill="#ff2020" opacity="0.85" filter="url(#b1)"/>
<circle cx="52.2" cy="20.6" r="2.1" fill="#ff2020" opacity="0.55" filter="url(#b1)"/>
<circle cx="46.7" cy="26.4" r="2.1" fill="#ff2020" opacity="0.95" filter="url(#b1)"/>
<circle cx="35.7" cy="28.0" r="2.1" fill="#ff2020" opacity="0.65" filter="url(#b1)"/>
<circle cx="13.7" cy="34.7" r="2.1" fill="#ff2020" opacity="0.85" filter="url(#b1)"/>
<circle cx="17.0" cy="38.2" r="2.1" fill="#ff2020" opacity="0.75" filter="url(#b1)"/>
<circle cx="11.0" cy="46.3" r="2.1" fill="#ff2020" opacity="0.95" filter="url(#b1)"/>
<circle cx="12.4" cy="40.3" r="2.1" fill="#ff2020" opacity="0.65" filter="url(#b1)"/>
<circle cx="46.6" cy="19.5" r="2" fill="#4a0206" opacity="0.6" filter="url(#b1)"/>
<circle cx="53.4" cy="28.4" r="2" fill="#4a0206" opacity="0.6" filter="url(#b1)"/>
<circle cx="39.7" cy="20.8" r="2" fill="#4a0206" opacity="0.6" filter="url(#b1)"/>
<circle cx="48.9" cy="33.7" r="2" fill="#4a0206" opacity="0.6" filter="url(#b1)"/>
<circle cx="49.2" cy="28.4" r="2" fill="#4a0206" opacity="0.6" filter="url(#b1)"/>
<circle cx="10.9" cy="40.9" r="2" fill="#4a0206" opacity="0.6" filter="url(#b1)"/>
<circle cx="14.9" cy="42.3" r="2" fill="#4a0206" opacity="0.6" filter="url(#b1)"/>
<path d="M31.1,17.9 C32.4,15.8 34.9,12.1 37.4,10.4 C39.9,8.7 43.5,7.6 46.2,7.8 C48.9,8.0 52.1,9.5 53.8,11.6 C55.5,13.7 56.2,17.6 56.4,20.5 C56.6,23.4 56.4,27.0 55.1,29.3 C53.8,31.6 51.3,33.5 48.8,34.4 C46.3,35.2 42.6,35.2 39.9,34.4 C37.1,33.5 34.0,31.2 32.3,29.3 C30.6,27.4 30.0,24.9 29.8,23.0 C29.6,21.1 29.8,20.0 31.1,17.9Z" fill="none" stroke="#fff" stroke-width="1.3" stroke-dasharray="3.3,2"/>
<path d="M4.0,39.4 C4.7,37.9 5.7,35.8 8.3,34.4 C10.9,33.0 17.2,31.1 19.7,31.3 C22.2,31.5 23.3,33.4 23.5,35.6 C23.7,37.8 22.7,42.2 21.0,44.5 C19.3,46.8 15.7,48.9 13.4,49.5 C11.1,50.1 8.7,49.3 7.1,48.3 C5.5,47.2 4.5,44.7 4.0,43.2 C3.5,41.7 3.3,40.9 4.0,39.4Z" fill="none" stroke="#fff" stroke-width="1.3" stroke-dasharray="3.3,2"/>
<rect x="52.8" y="55.6" width="8.2" height="3" fill="#fff"/>
</g></g>
<clipPath id="cc11"><rect x="508.4" y="145.0" width="62.1" height="62.0"/></clipPath>
<g clip-path="url(#cc11)"><rect x="508.4" y="145.0" width="62.1" height="62.0" fill="#160404"/>
<rect x="508.4" y="145.0" width="62.1" height="62.0" fill="#fff" filter="url(#nzR)" opacity="0.32"/>
<g transform="translate(508.4,145.0)">
<path d="M15.9,29.3 C16.4,27.2 16.3,23.9 18.4,21.7 C20.5,19.5 25.0,17.0 28.6,16.2 C32.2,15.4 37.4,15.3 39.9,16.7 C42.4,18.1 43.1,21.4 43.7,24.3 C44.3,27.2 44.8,31.4 43.7,34.4 C42.7,37.4 40.1,40.2 37.4,42.0 C34.7,43.8 30.5,45.2 27.3,45.0 C24.1,44.8 20.4,42.5 18.4,40.7 C16.4,38.9 15.8,36.3 15.4,34.4 C15.0,32.5 15.4,31.4 15.9,29.3Z" fill="#6a040a" filter="url(#b15)"/>
<circle cx="34.2" cy="19.7" r="2.1" fill="#ff2020" opacity="0.55" filter="url(#b1)"/>
<circle cx="39.2" cy="24.7" r="2.1" fill="#ff2020" opacity="0.75" filter="url(#b1)"/>
<circle cx="31.4" cy="26.9" r="2.1" fill="#ff2020" opacity="0.95" filter="url(#b1)"/>
<circle cx="29.8" cy="22.9" r="2.1" fill="#ff2020" opacity="0.85" filter="url(#b1)"/>
<circle cx="38.3" cy="35.0" r="2.1" fill="#ff2020" opacity="0.55" filter="url(#b1)"/>
<circle cx="28.8" cy="39.8" r="2.1" fill="#ff2020" opacity="0.75" filter="url(#b1)"/>
<circle cx="22.8" cy="38.6" r="2.1" fill="#ff2020" opacity="0.65" filter="url(#b1)"/>
<circle cx="32.3" cy="34.1" r="2.1" fill="#ff2020" opacity="0.85" filter="url(#b1)"/>
<circle cx="22.6" cy="33.5" r="2.1" fill="#ff2020" opacity="0.55" filter="url(#b1)"/>
<circle cx="18.5" cy="30.3" r="2.1" fill="#ff2020" opacity="0.95" filter="url(#b1)"/>
<circle cx="33.3" cy="40.0" r="2.1" fill="#ff2020" opacity="0.65" filter="url(#b1)"/>
<circle cx="24.4" cy="28.4" r="2.1" fill="#ff2020" opacity="0.85" filter="url(#b1)"/>
<circle cx="36.7" cy="21.7" r="2" fill="#4a0206" opacity="0.6" filter="url(#b1)"/>
<circle cx="24.9" cy="25.3" r="2" fill="#4a0206" opacity="0.6" filter="url(#b1)"/>
<circle cx="31.3" cy="41.8" r="2" fill="#4a0206" opacity="0.6" filter="url(#b1)"/>
<circle cx="34.8" cy="36.1" r="2" fill="#4a0206" opacity="0.6" filter="url(#b1)"/>
<circle cx="21.0" cy="32.3" r="2" fill="#4a0206" opacity="0.6" filter="url(#b1)"/>
<circle cx="37.7" cy="32.6" r="2" fill="#4a0206" opacity="0.6" filter="url(#b1)"/>
<path d="M15.9,29.3 C16.4,27.2 16.3,23.9 18.4,21.7 C20.5,19.5 25.0,17.0 28.6,16.2 C32.2,15.4 37.4,15.3 39.9,16.7 C42.4,18.1 43.1,21.4 43.7,24.3 C44.3,27.2 44.8,31.4 43.7,34.4 C42.7,37.4 40.1,40.2 37.4,42.0 C34.7,43.8 30.5,45.2 27.3,45.0 C24.1,44.8 20.4,42.5 18.4,40.7 C16.4,38.9 15.8,36.3 15.4,34.4 C15.0,32.5 15.4,31.4 15.9,29.3Z" fill="none" stroke="#fff" stroke-width="1.3" stroke-dasharray="3.3,2"/>
<rect x="52.0" y="54.0" width="8.2" height="3" fill="#fff"/>
</g></g>
<clipPath id="cc12"><rect x="575.2" y="145.0" width="62.1" height="62.0"/></clipPath>
<g clip-path="url(#cc12)"><rect x="575.2" y="145.0" width="62.1" height="62.0" fill="#040000"/>
<rect x="575.2" y="145.0" width="62.1" height="62.0" fill="#fff" filter="url(#nzR)" opacity="0.05"/>
<g transform="translate(575.2,145.0)">
<path d="M8.6,26.8 C10.1,24.5 13.4,22.4 17.4,20.5 C21.4,18.6 28.4,15.7 32.6,15.4 C36.8,15.1 39.7,16.9 42.7,18.6 C45.7,20.3 48.9,22.9 50.8,25.4 C52.7,27.9 54.6,31.6 54.3,33.6 C54.0,35.6 50.9,36.5 49.0,37.6 C47.1,38.7 44.3,38.8 43.2,40.4 C42.1,42.0 43.6,45.0 42.2,47.4 C40.9,49.8 38.2,53.1 35.1,54.8 C32.0,56.5 27.2,57.9 23.8,57.6 C20.4,57.4 17.0,55.9 14.9,53.3 C12.8,50.7 12.2,45.1 11.1,42.0 C10.0,38.9 9.0,36.9 8.6,34.4 C8.2,31.9 7.1,29.1 8.6,26.8Z" fill="#98080e" filter="url(#b15)"/>
<circle cx="37.3" cy="30.4" r="2.1" fill="#ff2020" opacity="0.55" filter="url(#b1)"/>
<circle cx="26.9" cy="32.1" r="2.1" fill="#ff2020" opacity="0.75" filter="url(#b1)"/>
<circle cx="18.0" cy="26.5" r="2.1" fill="#ff2020" opacity="0.95" filter="url(#b1)"/>
<circle cx="19.3" cy="34.9" r="2.1" fill="#ff2020" opacity="0.85" filter="url(#b1)"/>
<circle cx="32.9" cy="47.2" r="2.1" fill="#ff2020" opacity="0.55" filter="url(#b1)"/>
<circle cx="14.4" cy="34.9" r="2.1" fill="#ff2020" opacity="0.75" filter="url(#b1)"/>
<circle cx="23.6" cy="23.4" r="2.1" fill="#ff2020" opacity="0.65" filter="url(#b1)"/>
<circle cx="42.1" cy="33.8" r="2.1" fill="#ff2020" opacity="0.85" filter="url(#b1)"/>
<circle cx="17.6" cy="42.3" r="2.1" fill="#ff2020" opacity="0.55" filter="url(#b1)"/>
<circle cx="27.1" cy="46.7" r="2.1" fill="#ff2020" opacity="0.95" filter="url(#b1)"/>
<circle cx="27.8" cy="25.0" r="2.1" fill="#ff2020" opacity="0.65" filter="url(#b1)"/>
<circle cx="22.9" cy="41.9" r="2.1" fill="#ff2020" opacity="0.85" filter="url(#b1)"/>
<circle cx="32.0" cy="42.4" r="2.1" fill="#ff2020" opacity="0.75" filter="url(#b1)"/>
<circle cx="18.9" cy="46.7" r="2.1" fill="#ff2020" opacity="0.95" filter="url(#b1)"/>
<circle cx="46.7" cy="30.4" r="2.1" fill="#ff2020" opacity="0.65" filter="url(#b1)"/>
<circle cx="37.7" cy="42.2" r="2.1" fill="#ff2020" opacity="0.55" filter="url(#b1)"/>
<circle cx="23.7" cy="28.8" r="2.1" fill="#ff2020" opacity="0.75" filter="url(#b1)"/>
<circle cx="27.9" cy="40.2" r="2.1" fill="#ff2020" opacity="0.95" filter="url(#b1)"/>
<circle cx="13.4" cy="29.1" r="2.1" fill="#ff2020" opacity="0.85" filter="url(#b1)"/>
<circle cx="46.2" cy="35.6" r="2.1" fill="#ff2020" opacity="0.55" filter="url(#b1)"/>
<circle cx="37.3" cy="21.4" r="2.1" fill="#ff2020" opacity="0.75" filter="url(#b1)"/>
<circle cx="33.0" cy="31.7" r="2.1" fill="#ff2020" opacity="0.65" filter="url(#b1)"/>
<circle cx="25.1" cy="36.5" r="2.1" fill="#ff2020" opacity="0.85" filter="url(#b1)"/>
<circle cx="30.8" cy="51.9" r="2.1" fill="#ff2020" opacity="0.55" filter="url(#b1)"/>
<circle cx="37.6" cy="46.7" r="2.1" fill="#ff2020" opacity="0.95" filter="url(#b1)"/>
<circle cx="33.2" cy="27.0" r="2.1" fill="#ff2020" opacity="0.65" filter="url(#b1)"/>
<circle cx="39.8" cy="32.4" r="2" fill="#4a0206" opacity="0.6" filter="url(#b1)"/>
<circle cx="28.4" cy="54.7" r="2" fill="#4a0206" opacity="0.6" filter="url(#b1)"/>
<circle cx="16.9" cy="36.9" r="2" fill="#4a0206" opacity="0.6" filter="url(#b1)"/>
<circle cx="44.6" cy="35.8" r="2" fill="#4a0206" opacity="0.6" filter="url(#b1)"/>
<circle cx="29.6" cy="48.7" r="2" fill="#4a0206" opacity="0.6" filter="url(#b1)"/>
<circle cx="39.9" cy="28.0" r="2" fill="#4a0206" opacity="0.6" filter="url(#b1)"/>
<circle cx="49.2" cy="32.4" r="2" fill="#4a0206" opacity="0.6" filter="url(#b1)"/>
<circle cx="26.2" cy="30.8" r="2" fill="#4a0206" opacity="0.6" filter="url(#b1)"/>
<circle cx="15.9" cy="31.1" r="2" fill="#4a0206" opacity="0.6" filter="url(#b1)"/>
<circle cx="43.7" cy="40.8" r="2" fill="#4a0206" opacity="0.6" filter="url(#b1)"/>
<circle cx="33.3" cy="53.9" r="2" fill="#4a0206" opacity="0.6" filter="url(#b1)"/>
<circle cx="35.7" cy="29.0" r="2" fill="#4a0206" opacity="0.6" filter="url(#b1)"/>
<path d="M8.6,26.8 C10.1,24.5 13.4,22.4 17.4,20.5 C21.4,18.6 28.4,15.7 32.6,15.4 C36.8,15.1 39.7,16.9 42.7,18.6 C45.7,20.3 48.9,22.9 50.8,25.4 C52.7,27.9 54.6,31.6 54.3,33.6 C54.0,35.6 50.9,36.5 49.0,37.6 C47.1,38.7 44.3,38.8 43.2,40.4 C42.1,42.0 43.6,45.0 42.2,47.4 C40.9,49.8 38.2,53.1 35.1,54.8 C32.0,56.5 27.2,57.9 23.8,57.6 C20.4,57.4 17.0,55.9 14.9,53.3 C12.8,50.7 12.2,45.1 11.1,42.0 C10.0,38.9 9.0,36.9 8.6,34.4 C8.2,31.9 7.1,29.1 8.6,26.8Z" fill="none" stroke="#fff" stroke-width="1.3" stroke-dasharray="3.3,2"/>
<rect x="52.8" y="52.0" width="8.2" height="3" fill="#fff"/>
</g></g>
<clipPath id="cc13"><rect x="643.0" y="145.0" width="62.1" height="62.0"/></clipPath>
<g clip-path="url(#cc13)"><rect x="643.0" y="145.0" width="62.1" height="62.0" fill="#030000"/>
<rect x="643.0" y="145.0" width="62.1" height="62.0" fill="#fff" filter="url(#nzR)" opacity="0.04"/>
<g transform="translate(643.0,145.0)">
<path d="M26.0,14.2 C26.6,11.9 28.2,7.5 31.1,5.3 C34.1,3.1 39.5,1.2 43.7,1.0 C47.9,0.8 53.5,1.8 56.4,4.0 C59.3,6.2 61.0,10.8 61.4,14.2 C61.8,17.6 60.6,21.7 58.9,24.3 C57.2,26.9 54.0,28.9 51.3,29.8 C48.6,30.7 45.5,30.5 42.5,29.8 C39.5,29.1 36.1,27.3 33.6,25.5 C31.1,23.7 28.6,21.1 27.3,19.2 C26.0,17.3 25.4,16.5 26.0,14.2Z" fill="#92080e" filter="url(#b15)"/>
<path d="M0.0,31.8 C0.2,28.0 2.1,23.9 4.5,21.7 C6.9,19.5 11.5,18.3 14.7,18.7 C17.9,19.1 21.2,21.7 23.5,24.3 C25.8,26.9 27.5,30.6 28.6,34.4 C29.7,38.2 30.5,43.2 30.3,47.0 C30.1,50.8 29.1,54.9 27.3,57.1 C25.5,59.3 22.4,60.5 19.7,60.1 C17.0,59.7 13.6,57.2 10.9,54.6 C8.2,52.0 5.1,48.3 3.3,44.5 C1.5,40.7 -0.2,35.6 0.0,31.8Z" fill="#92080e" filter="url(#b15)"/>
<circle cx="37.8" cy="24.7" r="2.1" fill="#ff2020" opacity="0.55" filter="url(#b1)"/>
<circle cx="52.0" cy="21.7" r="2.1" fill="#ff2020" opacity="0.75" filter="url(#b1)"/>
<circle cx="41.4" cy="6.6" r="2.1" fill="#ff2020" opacity="0.95" filter="url(#b1)"/>
<circle cx="41.4" cy="12.3" r="2.1" fill="#ff2020" opacity="0.85" filter="url(#b1)"/>
<circle cx="35.0" cy="7.7" r="2.1" fill="#ff2020" opacity="0.55" filter="url(#b1)"/>
<circle cx="51.0" cy="6.0" r="2.1" fill="#ff2020" opacity="0.75" filter="url(#b1)"/>
<circle cx="53.8" cy="15.8" r="2.1" fill="#ff2020" opacity="0.65" filter="url(#b1)"/>
<circle cx="40.7" cy="20.3" r="2.1" fill="#ff2020" opacity="0.85" filter="url(#b1)"/>
<circle cx="46.2" cy="22.0" r="2.1" fill="#ff2020" opacity="0.55" filter="url(#b1)"/>
<circle cx="42.2" cy="25.9" r="2.1" fill="#ff2020" opacity="0.95" filter="url(#b1)"/>
<circle cx="45.6" cy="6.9" r="2.1" fill="#ff2020" opacity="0.65" filter="url(#b1)"/>
<circle cx="56.0" cy="19.7" r="2.1" fill="#ff2020" opacity="0.85" filter="url(#b1)"/>
<circle cx="54.6" cy="9.4" r="2.1" fill="#ff2020" opacity="0.75" filter="url(#b1)"/>
<circle cx="50.6" cy="12.4" r="2.1" fill="#ff2020" opacity="0.95" filter="url(#b1)"/>
<circle cx="49.4" cy="17.1" r="2.1" fill="#ff2020" opacity="0.65" filter="url(#b1)"/>
<circle cx="7.4" cy="41.8" r="2.1" fill="#ff2020" opacity="0.55" filter="url(#b1)"/>
<circle cx="19.0" cy="44.9" r="2.1" fill="#ff2020" opacity="0.75" filter="url(#b1)"/>
<circle cx="25.5" cy="38.2" r="2.1" fill="#ff2020" opacity="0.95" filter="url(#b1)"/>
<circle cx="20.3" cy="30.6" r="2.1" fill="#ff2020" opacity="0.85" filter="url(#b1)"/>
<circle cx="16.5" cy="52.2" r="2.1" fill="#ff2020" opacity="0.55" filter="url(#b1)"/>
<circle cx="11.2" cy="26.1" r="2.1" fill="#ff2020" opacity="0.75" filter="url(#b1)"/>
<circle cx="11.9" cy="50.0" r="2.1" fill="#ff2020" opacity="0.65" filter="url(#b1)"/>
<circle cx="15.7" cy="36.3" r="2.1" fill="#ff2020" opacity="0.85" filter="url(#b1)"/>
<circle cx="15.7" cy="24.4" r="2.1" fill="#ff2020" opacity="0.55" filter="url(#b1)"/>
<circle cx="11.3" cy="35.8" r="2.1" fill="#ff2020" opacity="0.95" filter="url(#b1)"/>
<circle cx="24.2" cy="53.6" r="2.1" fill="#ff2020" opacity="0.65" filter="url(#b1)"/>
<circle cx="25.6" cy="46.4" r="2.1" fill="#ff2020" opacity="0.85" filter="url(#b1)"/>
<circle cx="11.5" cy="31.0" r="2.1" fill="#ff2020" opacity="0.75" filter="url(#b1)"/>
<circle cx="7.2" cy="34.5" r="2.1" fill="#ff2020" opacity="0.95" filter="url(#b1)"/>
<circle cx="20.1" cy="54.9" r="2.1" fill="#ff2020" opacity="0.65" filter="url(#b1)"/>
<circle cx="23.9" cy="42.4" r="2.1" fill="#ff2020" opacity="0.55" filter="url(#b1)"/>
<circle cx="24.6" cy="32.8" r="2.1" fill="#ff2020" opacity="0.75" filter="url(#b1)"/>
<circle cx="40.3" cy="26.7" r="2" fill="#4a0206" opacity="0.6" filter="url(#b1)"/>
<circle cx="34.9" cy="20.5" r="2" fill="#4a0206" opacity="0.6" filter="url(#b1)"/>
<circle cx="53.5" cy="8.0" r="2" fill="#4a0206" opacity="0.6" filter="url(#b1)"/>
<circle cx="43.2" cy="22.3" r="2" fill="#4a0206" opacity="0.6" filter="url(#b1)"/>
<circle cx="44.7" cy="27.9" r="2" fill="#4a0206" opacity="0.6" filter="url(#b1)"/>
<circle cx="36.4" cy="14.5" r="2" fill="#4a0206" opacity="0.6" filter="url(#b1)"/>
<circle cx="51.9" cy="19.1" r="2" fill="#4a0206" opacity="0.6" filter="url(#b1)"/>
<circle cx="21.5" cy="46.9" r="2" fill="#4a0206" opacity="0.6" filter="url(#b1)"/>
<circle cx="22.8" cy="32.6" r="2" fill="#4a0206" opacity="0.6" filter="url(#b1)"/>
<circle cx="18.3" cy="33.1" r="2" fill="#4a0206" opacity="0.6" filter="url(#b1)"/>
<circle cx="18.2" cy="26.4" r="2" fill="#4a0206" opacity="0.6" filter="url(#b1)"/>
<circle cx="26.7" cy="55.6" r="2" fill="#4a0206" opacity="0.6" filter="url(#b1)"/>
<circle cx="14.0" cy="33.0" r="2" fill="#4a0206" opacity="0.6" filter="url(#b1)"/>
<circle cx="22.3" cy="37.0" r="2" fill="#4a0206" opacity="0.6" filter="url(#b1)"/>
<path d="M26.0,14.2 C26.6,11.9 28.2,7.5 31.1,5.3 C34.1,3.1 39.5,1.2 43.7,1.0 C47.9,0.8 53.5,1.8 56.4,4.0 C59.3,6.2 61.0,10.8 61.4,14.2 C61.8,17.6 60.6,21.7 58.9,24.3 C57.2,26.9 54.0,28.9 51.3,29.8 C48.6,30.7 45.5,30.5 42.5,29.8 C39.5,29.1 36.1,27.3 33.6,25.5 C31.1,23.7 28.6,21.1 27.3,19.2 C26.0,17.3 25.4,16.5 26.0,14.2Z" fill="none" stroke="#fff" stroke-width="1.3" stroke-dasharray="3.3,2"/>
<path d="M0.0,31.8 C0.2,28.0 2.1,23.9 4.5,21.7 C6.9,19.5 11.5,18.3 14.7,18.7 C17.9,19.1 21.2,21.7 23.5,24.3 C25.8,26.9 27.5,30.6 28.6,34.4 C29.7,38.2 30.5,43.2 30.3,47.0 C30.1,50.8 29.1,54.9 27.3,57.1 C25.5,59.3 22.4,60.5 19.7,60.1 C17.0,59.7 13.6,57.2 10.9,54.6 C8.2,52.0 5.1,48.3 3.3,44.5 C1.5,40.7 -0.2,35.6 0.0,31.8Z" fill="none" stroke="#fff" stroke-width="1.3" stroke-dasharray="3.3,2"/>
<rect x="51.8" y="52.0" width="8.2" height="3" fill="#fff"/>
</g></g>
<clipPath id="cc14"><rect x="709.0" y="145.0" width="62.1" height="62.0"/></clipPath>
<g clip-path="url(#cc14)"><rect x="709.0" y="145.0" width="62.1" height="62.0" fill="#100303"/>
<rect x="709.0" y="145.0" width="62.1" height="62.0" fill="#fff" filter="url(#nzR)" opacity="0.25"/>
<g transform="translate(709.0,145.0)">
<path d="M15.7,36.9 C16.5,34.2 17.6,30.2 19.5,26.8 C21.4,23.4 24.3,19.1 27.0,16.7 C29.7,14.2 32.9,12.6 35.9,12.1 C38.9,11.6 43.0,12.0 44.7,13.6 C46.4,15.2 46.2,18.2 46.0,21.7 C45.8,25.2 44.8,30.4 43.5,34.4 C42.2,38.4 40.9,42.8 38.4,45.7 C35.9,48.7 31.4,51.5 28.3,52.1 C25.2,52.7 21.7,51.0 19.5,49.5 C17.3,48.0 15.5,45.3 14.9,43.2 C14.3,41.1 14.9,39.6 15.7,36.9Z" fill="#6a040a" filter="url(#b15)"/>
<circle cx="32.8" cy="19.4" r="2.1" fill="#ff2020" opacity="0.55" filter="url(#b1)"/>
<circle cx="35.3" cy="38.0" r="2.1" fill="#ff2020" opacity="0.75" filter="url(#b1)"/>
<circle cx="25.1" cy="38.6" r="2.1" fill="#ff2020" opacity="0.95" filter="url(#b1)"/>
<circle cx="23.5" cy="28.9" r="2.1" fill="#ff2020" opacity="0.85" filter="url(#b1)"/>
<circle cx="37.1" cy="21.2" r="2.1" fill="#ff2020" opacity="0.55" filter="url(#b1)"/>
<circle cx="23.2" cy="43.0" r="2.1" fill="#ff2020" opacity="0.75" filter="url(#b1)"/>
<circle cx="29.9" cy="38.7" r="2.1" fill="#ff2020" opacity="0.65" filter="url(#b1)"/>
<circle cx="32.6" cy="32.5" r="2.1" fill="#ff2020" opacity="0.85" filter="url(#b1)"/>
<circle cx="26.8" cy="34.2" r="2.1" fill="#ff2020" opacity="0.55" filter="url(#b1)"/>
<circle cx="35.7" cy="25.7" r="2.1" fill="#ff2020" opacity="0.95" filter="url(#b1)"/>
<circle cx="28.4" cy="28.8" r="2.1" fill="#ff2020" opacity="0.65" filter="url(#b1)"/>
<circle cx="19.4" cy="39.4" r="2.1" fill="#ff2020" opacity="0.85" filter="url(#b1)"/>
<circle cx="41.1" cy="27.2" r="2.1" fill="#ff2020" opacity="0.75" filter="url(#b1)"/>
<circle cx="36.4" cy="16.6" r="2.1" fill="#ff2020" opacity="0.95" filter="url(#b1)"/>
<circle cx="41.6" cy="19.6" r="2.1" fill="#ff2020" opacity="0.65" filter="url(#b1)"/>
<circle cx="30.2" cy="23.9" r="2.1" fill="#ff2020" opacity="0.55" filter="url(#b1)"/>
<circle cx="20.5" cy="34.8" r="2.1" fill="#ff2020" opacity="0.75" filter="url(#b1)"/>
<circle cx="35.3" cy="21.4" r="2" fill="#4a0206" opacity="0.6" filter="url(#b1)"/>
<circle cx="39.5" cy="32.5" r="2" fill="#4a0206" opacity="0.6" filter="url(#b1)"/>
<circle cx="25.7" cy="45.0" r="2" fill="#4a0206" opacity="0.6" filter="url(#b1)"/>
<circle cx="35.1" cy="34.5" r="2" fill="#4a0206" opacity="0.6" filter="url(#b1)"/>
<circle cx="38.2" cy="27.7" r="2" fill="#4a0206" opacity="0.6" filter="url(#b1)"/>
<circle cx="28.2" cy="25.5" r="2" fill="#4a0206" opacity="0.6" filter="url(#b1)"/>
<circle cx="44.1" cy="21.6" r="2" fill="#4a0206" opacity="0.6" filter="url(#b1)"/>
<circle cx="23.0" cy="36.8" r="2" fill="#4a0206" opacity="0.6" filter="url(#b1)"/>
<path d="M15.7,36.9 C16.5,34.2 17.6,30.2 19.5,26.8 C21.4,23.4 24.3,19.1 27.0,16.7 C29.7,14.2 32.9,12.6 35.9,12.1 C38.9,11.6 43.0,12.0 44.7,13.6 C46.4,15.2 46.2,18.2 46.0,21.7 C45.8,25.2 44.8,30.4 43.5,34.4 C42.2,38.4 40.9,42.8 38.4,45.7 C35.9,48.7 31.4,51.5 28.3,52.1 C25.2,52.7 21.7,51.0 19.5,49.5 C17.3,48.0 15.5,45.3 14.9,43.2 C14.3,41.1 14.9,39.6 15.7,36.9Z" fill="none" stroke="#fff" stroke-width="1.3" stroke-dasharray="3.3,2"/>
<rect x="52.3" y="54.0" width="8.2" height="3" fill="#fff"/>
</g></g>
<clipPath id="cc15"><rect x="775.6" y="145.0" width="62.1" height="62.0"/></clipPath>
<g clip-path="url(#cc15)"><rect x="775.6" y="145.0" width="62.1" height="62.0" fill="#0e0202"/>
<rect x="775.6" y="145.0" width="62.1" height="62.0" fill="#fff" filter="url(#nzR)" opacity="0.22"/>
<g transform="translate(775.6,145.0)">
<path d="M16.2,21.7 C16.1,19.6 17.9,17.1 20.0,16.7 C22.1,16.3 25.7,17.9 28.8,19.2 C31.9,20.5 35.9,22.6 38.9,24.3 C41.9,26.0 44.7,27.2 46.5,29.3 C48.3,31.4 49.5,34.4 49.5,36.9 C49.5,39.4 48.7,42.9 46.5,44.5 C44.3,46.1 39.6,46.6 36.4,46.5 C33.2,46.4 29.6,45.6 27.5,44.0 C25.4,42.4 24.9,39.4 23.8,36.9 C22.7,34.4 22.0,31.8 20.7,29.3 C19.4,26.8 16.3,23.8 16.2,21.7Z" fill="#620408" filter="url(#b15)"/>
<circle cx="38.6" cy="29.8" r="2.1" fill="#ff2020" opacity="0.55" filter="url(#b1)"/>
<circle cx="30.1" cy="30.6" r="2.1" fill="#ff2020" opacity="0.75" filter="url(#b1)"/>
<circle cx="25.5" cy="21.9" r="2.1" fill="#ff2020" opacity="0.95" filter="url(#b1)"/>
<circle cx="32.4" cy="39.4" r="2.1" fill="#ff2020" opacity="0.85" filter="url(#b1)"/>
<circle cx="43.2" cy="40.4" r="2.1" fill="#ff2020" opacity="0.55" filter="url(#b1)"/>
<circle cx="32.3" cy="23.2" r="2.1" fill="#ff2020" opacity="0.75" filter="url(#b1)"/>
<circle cx="40.7" cy="33.8" r="2.1" fill="#ff2020" opacity="0.65" filter="url(#b1)"/>
<circle cx="26.7" cy="36.6" r="2.1" fill="#ff2020" opacity="0.85" filter="url(#b1)"/>
<circle cx="45.4" cy="35.1" r="2.1" fill="#ff2020" opacity="0.55" filter="url(#b1)"/>
<circle cx="43.7" cy="30.0" r="2.1" fill="#ff2020" opacity="0.95" filter="url(#b1)"/>
<circle cx="33.9" cy="28.3" r="2.1" fill="#ff2020" opacity="0.65" filter="url(#b1)"/>
<circle cx="25.1" cy="32.5" r="2.1" fill="#ff2020" opacity="0.85" filter="url(#b1)"/>
<circle cx="41.1" cy="31.8" r="2" fill="#4a0206" opacity="0.6" filter="url(#b1)"/>
<circle cx="36.2" cy="35.5" r="2" fill="#4a0206" opacity="0.6" filter="url(#b1)"/>
<circle cx="34.8" cy="25.2" r="2" fill="#4a0206" opacity="0.6" filter="url(#b1)"/>
<circle cx="29.2" cy="38.6" r="2" fill="#4a0206" opacity="0.6" filter="url(#b1)"/>
<circle cx="46.2" cy="32.0" r="2" fill="#4a0206" opacity="0.6" filter="url(#b1)"/>
<path d="M16.2,21.7 C16.1,19.6 17.9,17.1 20.0,16.7 C22.1,16.3 25.7,17.9 28.8,19.2 C31.9,20.5 35.9,22.6 38.9,24.3 C41.9,26.0 44.7,27.2 46.5,29.3 C48.3,31.4 49.5,34.4 49.5,36.9 C49.5,39.4 48.7,42.9 46.5,44.5 C44.3,46.1 39.6,46.6 36.4,46.5 C33.2,46.4 29.6,45.6 27.5,44.0 C25.4,42.4 24.9,39.4 23.8,36.9 C22.7,34.4 22.0,31.8 20.7,29.3 C19.4,26.8 16.3,23.8 16.2,21.7Z" fill="none" stroke="#fff" stroke-width="1.3" stroke-dasharray="3.3,2"/>
<rect x="52.5" y="54.0" width="8.2" height="3" fill="#fff"/>
</g></g>
<clipPath id="cc20"><rect x="441.5" y="210.6" width="62.1" height="62.0"/></clipPath>
<g clip-path="url(#cc20)"><rect x="441.5" y="210.6" width="62.1" height="62.0" fill="#02020e"/>
<g transform="translate(441.5,210.6)">
<path d="M31.1,17.9 C32.4,15.8 34.9,12.1 37.4,10.4 C39.9,8.7 43.5,7.6 46.2,7.8 C48.9,8.0 52.1,9.5 53.8,11.6 C55.5,13.7 56.2,17.6 56.4,20.5 C56.6,23.4 56.4,27.0 55.1,29.3 C53.8,31.6 51.3,33.5 48.8,34.4 C46.3,35.2 42.6,35.2 39.9,34.4 C37.1,33.5 34.0,31.2 32.3,29.3 C30.6,27.4 30.0,24.9 29.8,23.0 C29.6,21.1 29.8,20.0 31.1,17.9Z" fill="#1616c8" opacity="0.7" filter="url(#b3)"/><path d="M31.1,17.9 C32.4,15.8 34.9,12.1 37.4,10.4 C39.9,8.7 43.5,7.6 46.2,7.8 C48.9,8.0 52.1,9.5 53.8,11.6 C55.5,13.7 56.2,17.6 56.4,20.5 C56.6,23.4 56.4,27.0 55.1,29.3 C53.8,31.6 51.3,33.5 48.8,34.4 C46.3,35.2 42.6,35.2 39.9,34.4 C37.1,33.5 34.0,31.2 32.3,29.3 C30.6,27.4 30.0,24.9 29.8,23.0 C29.6,21.1 29.8,20.0 31.1,17.9Z" fill="#1a1ae0" filter="url(#b15)"/>
<path d="M4.0,39.4 C4.7,37.9 5.7,35.8 8.3,34.4 C10.9,33.0 17.2,31.1 19.7,31.3 C22.2,31.5 23.3,33.4 23.5,35.6 C23.7,37.8 22.7,42.2 21.0,44.5 C19.3,46.8 15.7,48.9 13.4,49.5 C11.1,50.1 8.7,49.3 7.1,48.3 C5.5,47.2 4.5,44.7 4.0,43.2 C3.5,41.7 3.3,40.9 4.0,39.4Z" fill="#1616c8" opacity="0.7" filter="url(#b3)"/><path d="M4.0,39.4 C4.7,37.9 5.7,35.8 8.3,34.4 C10.9,33.0 17.2,31.1 19.7,31.3 C22.2,31.5 23.3,33.4 23.5,35.6 C23.7,37.8 22.7,42.2 21.0,44.5 C19.3,46.8 15.7,48.9 13.4,49.5 C11.1,50.1 8.7,49.3 7.1,48.3 C5.5,47.2 4.5,44.7 4.0,43.2 C3.5,41.7 3.3,40.9 4.0,39.4Z" fill="#1a1ae0" filter="url(#b15)"/>
<circle cx="44.1" cy="17.5" r="2.5" fill="#1010b8" opacity="0.7" filter="url(#b15)"/>
<circle cx="34.6" cy="23.3" r="2.5" fill="#1010b8" opacity="0.7" filter="url(#b15)"/>
<circle cx="49.2" cy="15.5" r="2.5" fill="#1010b8" opacity="0.7" filter="url(#b15)"/>
<circle cx="37.2" cy="18.8" r="2.5" fill="#1010b8" opacity="0.7" filter="url(#b15)"/>
<circle cx="38.9" cy="14.8" r="2.5" fill="#1010b8" opacity="0.7" filter="url(#b15)"/>
<circle cx="52.2" cy="20.6" r="2.5" fill="#1010b8" opacity="0.7" filter="url(#b15)"/>
<circle cx="46.7" cy="26.4" r="2.5" fill="#1010b8" opacity="0.7" filter="url(#b15)"/>
<circle cx="13.7" cy="34.7" r="2.5" fill="#1010b8" opacity="0.7" filter="url(#b15)"/>
<circle cx="17.0" cy="38.2" r="2.5" fill="#1010b8" opacity="0.7" filter="url(#b15)"/>
<circle cx="12.4" cy="40.3" r="2.5" fill="#1010b8" opacity="0.7" filter="url(#b15)"/>
<path d="M31.1,17.9 C32.4,15.8 34.9,12.1 37.4,10.4 C39.9,8.7 43.5,7.6 46.2,7.8 C48.9,8.0 52.1,9.5 53.8,11.6 C55.5,13.7 56.2,17.6 56.4,20.5 C56.6,23.4 56.4,27.0 55.1,29.3 C53.8,31.6 51.3,33.5 48.8,34.4 C46.3,35.2 42.6,35.2 39.9,34.4 C37.1,33.5 34.0,31.2 32.3,29.3 C30.6,27.4 30.0,24.9 29.8,23.0 C29.6,21.1 29.8,20.0 31.1,17.9Z" fill="none" stroke="#fff" stroke-width="1.3" stroke-dasharray="3.3,2"/>
<path d="M4.0,39.4 C4.7,37.9 5.7,35.8 8.3,34.4 C10.9,33.0 17.2,31.1 19.7,31.3 C22.2,31.5 23.3,33.4 23.5,35.6 C23.7,37.8 22.7,42.2 21.0,44.5 C19.3,46.8 15.7,48.9 13.4,49.5 C11.1,50.1 8.7,49.3 7.1,48.3 C5.5,47.2 4.5,44.7 4.0,43.2 C3.5,41.7 3.3,40.9 4.0,39.4Z" fill="none" stroke="#fff" stroke-width="1.3" stroke-dasharray="3.3,2"/>
<rect x="52.8" y="55.6" width="8.2" height="3" fill="#fff"/>
</g></g>
<clipPath id="cc21"><rect x="508.4" y="210.6" width="62.1" height="62.0"/></clipPath>
<g clip-path="url(#cc21)"><rect x="508.4" y="210.6" width="62.1" height="62.0" fill="#02020e"/>
<g transform="translate(508.4,210.6)">
<path d="M15.9,29.3 C16.4,27.2 16.3,23.9 18.4,21.7 C20.5,19.5 25.0,17.0 28.6,16.2 C32.2,15.4 37.4,15.3 39.9,16.7 C42.4,18.1 43.1,21.4 43.7,24.3 C44.3,27.2 44.8,31.4 43.7,34.4 C42.7,37.4 40.1,40.2 37.4,42.0 C34.7,43.8 30.5,45.2 27.3,45.0 C24.1,44.8 20.4,42.5 18.4,40.7 C16.4,38.9 15.8,36.3 15.4,34.4 C15.0,32.5 15.4,31.4 15.9,29.3Z" fill="#1616c8" opacity="0.7" filter="url(#b3)"/><path d="M15.9,29.3 C16.4,27.2 16.3,23.9 18.4,21.7 C20.5,19.5 25.0,17.0 28.6,16.2 C32.2,15.4 37.4,15.3 39.9,16.7 C42.4,18.1 43.1,21.4 43.7,24.3 C44.3,27.2 44.8,31.4 43.7,34.4 C42.7,37.4 40.1,40.2 37.4,42.0 C34.7,43.8 30.5,45.2 27.3,45.0 C24.1,44.8 20.4,42.5 18.4,40.7 C16.4,38.9 15.8,36.3 15.4,34.4 C15.0,32.5 15.4,31.4 15.9,29.3Z" fill="#1a1ae0" filter="url(#b15)"/>
<circle cx="34.2" cy="19.7" r="2.5" fill="#1010b8" opacity="0.7" filter="url(#b15)"/>
<circle cx="31.4" cy="26.9" r="2.5" fill="#1010b8" opacity="0.7" filter="url(#b15)"/>
<circle cx="29.8" cy="22.9" r="2.5" fill="#1010b8" opacity="0.7" filter="url(#b15)"/>
<circle cx="28.8" cy="39.8" r="2.5" fill="#1010b8" opacity="0.7" filter="url(#b15)"/>
<circle cx="22.8" cy="38.6" r="2.5" fill="#1010b8" opacity="0.7" filter="url(#b15)"/>
<circle cx="22.6" cy="33.5" r="2.5" fill="#1010b8" opacity="0.7" filter="url(#b15)"/>
<circle cx="18.5" cy="30.3" r="2.5" fill="#1010b8" opacity="0.7" filter="url(#b15)"/>
<circle cx="24.4" cy="28.4" r="2.5" fill="#1010b8" opacity="0.7" filter="url(#b15)"/>
<path d="M15.9,29.3 C16.4,27.2 16.3,23.9 18.4,21.7 C20.5,19.5 25.0,17.0 28.6,16.2 C32.2,15.4 37.4,15.3 39.9,16.7 C42.4,18.1 43.1,21.4 43.7,24.3 C44.3,27.2 44.8,31.4 43.7,34.4 C42.7,37.4 40.1,40.2 37.4,42.0 C34.7,43.8 30.5,45.2 27.3,45.0 C24.1,44.8 20.4,42.5 18.4,40.7 C16.4,38.9 15.8,36.3 15.4,34.4 C15.0,32.5 15.4,31.4 15.9,29.3Z" fill="none" stroke="#fff" stroke-width="1.3" stroke-dasharray="3.3,2"/>
<rect x="52.0" y="54.0" width="8.2" height="3" fill="#fff"/>
</g></g>
<clipPath id="cc22"><rect x="575.2" y="210.6" width="62.1" height="62.0"/></clipPath>
<g clip-path="url(#cc22)"><rect x="575.2" y="210.6" width="62.1" height="62.0" fill="#010108"/>
<g transform="translate(575.2,210.6)">
<path d="M8.6,26.8 C10.1,24.5 13.4,22.4 17.4,20.5 C21.4,18.6 28.4,15.7 32.6,15.4 C36.8,15.1 39.7,16.9 42.7,18.6 C45.7,20.3 48.9,22.9 50.8,25.4 C52.7,27.9 54.6,31.6 54.3,33.6 C54.0,35.6 50.9,36.5 49.0,37.6 C47.1,38.7 44.3,38.8 43.2,40.4 C42.1,42.0 43.6,45.0 42.2,47.4 C40.9,49.8 38.2,53.1 35.1,54.8 C32.0,56.5 27.2,57.9 23.8,57.6 C20.4,57.4 17.0,55.9 14.9,53.3 C12.8,50.7 12.2,45.1 11.1,42.0 C10.0,38.9 9.0,36.9 8.6,34.4 C8.2,31.9 7.1,29.1 8.6,26.8Z" fill="#1616c8" opacity="0.7" filter="url(#b3)"/><path d="M8.6,26.8 C10.1,24.5 13.4,22.4 17.4,20.5 C21.4,18.6 28.4,15.7 32.6,15.4 C36.8,15.1 39.7,16.9 42.7,18.6 C45.7,20.3 48.9,22.9 50.8,25.4 C52.7,27.9 54.6,31.6 54.3,33.6 C54.0,35.6 50.9,36.5 49.0,37.6 C47.1,38.7 44.3,38.8 43.2,40.4 C42.1,42.0 43.6,45.0 42.2,47.4 C40.9,49.8 38.2,53.1 35.1,54.8 C32.0,56.5 27.2,57.9 23.8,57.6 C20.4,57.4 17.0,55.9 14.9,53.3 C12.8,50.7 12.2,45.1 11.1,42.0 C10.0,38.9 9.0,36.9 8.6,34.4 C8.2,31.9 7.1,29.1 8.6,26.8Z" fill="#1a1ae0" filter="url(#b15)"/>
<circle cx="37.3" cy="30.4" r="2.5" fill="#1010b8" opacity="0.7" filter="url(#b15)"/>
<circle cx="18.0" cy="26.5" r="2.5" fill="#1010b8" opacity="0.7" filter="url(#b15)"/>
<circle cx="19.3" cy="34.9" r="2.5" fill="#1010b8" opacity="0.7" filter="url(#b15)"/>
<circle cx="14.4" cy="34.9" r="2.5" fill="#1010b8" opacity="0.7" filter="url(#b15)"/>
<circle cx="23.6" cy="23.4" r="2.5" fill="#1010b8" opacity="0.7" filter="url(#b15)"/>
<circle cx="17.6" cy="42.3" r="2.5" fill="#1010b8" opacity="0.7" filter="url(#b15)"/>
<circle cx="27.1" cy="46.7" r="2.5" fill="#1010b8" opacity="0.7" filter="url(#b15)"/>
<circle cx="22.9" cy="41.9" r="2.5" fill="#1010b8" opacity="0.7" filter="url(#b15)"/>
<circle cx="32.0" cy="42.4" r="2.5" fill="#1010b8" opacity="0.7" filter="url(#b15)"/>
<circle cx="46.7" cy="30.4" r="2.5" fill="#1010b8" opacity="0.7" filter="url(#b15)"/>
<circle cx="37.7" cy="42.2" r="2.5" fill="#1010b8" opacity="0.7" filter="url(#b15)"/>
<circle cx="27.9" cy="40.2" r="2.5" fill="#1010b8" opacity="0.7" filter="url(#b15)"/>
<circle cx="13.4" cy="29.1" r="2.5" fill="#1010b8" opacity="0.7" filter="url(#b15)"/>
<circle cx="37.3" cy="21.4" r="2.5" fill="#1010b8" opacity="0.7" filter="url(#b15)"/>
<circle cx="33.0" cy="31.7" r="2.5" fill="#1010b8" opacity="0.7" filter="url(#b15)"/>
<circle cx="30.8" cy="51.9" r="2.5" fill="#1010b8" opacity="0.7" filter="url(#b15)"/>
<circle cx="37.6" cy="46.7" r="2.5" fill="#1010b8" opacity="0.7" filter="url(#b15)"/>
<path d="M8.6,26.8 C10.1,24.5 13.4,22.4 17.4,20.5 C21.4,18.6 28.4,15.7 32.6,15.4 C36.8,15.1 39.7,16.9 42.7,18.6 C45.7,20.3 48.9,22.9 50.8,25.4 C52.7,27.9 54.6,31.6 54.3,33.6 C54.0,35.6 50.9,36.5 49.0,37.6 C47.1,38.7 44.3,38.8 43.2,40.4 C42.1,42.0 43.6,45.0 42.2,47.4 C40.9,49.8 38.2,53.1 35.1,54.8 C32.0,56.5 27.2,57.9 23.8,57.6 C20.4,57.4 17.0,55.9 14.9,53.3 C12.8,50.7 12.2,45.1 11.1,42.0 C10.0,38.9 9.0,36.9 8.6,34.4 C8.2,31.9 7.1,29.1 8.6,26.8Z" fill="none" stroke="#fff" stroke-width="1.3" stroke-dasharray="3.3,2"/>
<rect x="52.8" y="52.0" width="8.2" height="3" fill="#fff"/>
</g></g>
<clipPath id="cc23"><rect x="643.0" y="210.6" width="62.1" height="62.0"/></clipPath>
<g clip-path="url(#cc23)"><rect x="643.0" y="210.6" width="62.1" height="62.0" fill="#010106"/>
<g transform="translate(643.0,210.6)">
<path d="M26.0,14.2 C26.6,11.9 28.2,7.5 31.1,5.3 C34.1,3.1 39.5,1.2 43.7,1.0 C47.9,0.8 53.5,1.8 56.4,4.0 C59.3,6.2 61.0,10.8 61.4,14.2 C61.8,17.6 60.6,21.7 58.9,24.3 C57.2,26.9 54.0,28.9 51.3,29.8 C48.6,30.7 45.5,30.5 42.5,29.8 C39.5,29.1 36.1,27.3 33.6,25.5 C31.1,23.7 28.6,21.1 27.3,19.2 C26.0,17.3 25.4,16.5 26.0,14.2Z" fill="#1616c8" opacity="0.7" filter="url(#b3)"/><path d="M26.0,14.2 C26.6,11.9 28.2,7.5 31.1,5.3 C34.1,3.1 39.5,1.2 43.7,1.0 C47.9,0.8 53.5,1.8 56.4,4.0 C59.3,6.2 61.0,10.8 61.4,14.2 C61.8,17.6 60.6,21.7 58.9,24.3 C57.2,26.9 54.0,28.9 51.3,29.8 C48.6,30.7 45.5,30.5 42.5,29.8 C39.5,29.1 36.1,27.3 33.6,25.5 C31.1,23.7 28.6,21.1 27.3,19.2 C26.0,17.3 25.4,16.5 26.0,14.2Z" fill="#1a1ae0" filter="url(#b15)"/>
<path d="M0.0,31.8 C0.2,28.0 2.1,23.9 4.5,21.7 C6.9,19.5 11.5,18.3 14.7,18.7 C17.9,19.1 21.2,21.7 23.5,24.3 C25.8,26.9 27.5,30.6 28.6,34.4 C29.7,38.2 30.5,43.2 30.3,47.0 C30.1,50.8 29.1,54.9 27.3,57.1 C25.5,59.3 22.4,60.5 19.7,60.1 C17.0,59.7 13.6,57.2 10.9,54.6 C8.2,52.0 5.1,48.3 3.3,44.5 C1.5,40.7 -0.2,35.6 0.0,31.8Z" fill="#1616c8" opacity="0.7" filter="url(#b3)"/><path d="M0.0,31.8 C0.2,28.0 2.1,23.9 4.5,21.7 C6.9,19.5 11.5,18.3 14.7,18.7 C17.9,19.1 21.2,21.7 23.5,24.3 C25.8,26.9 27.5,30.6 28.6,34.4 C29.7,38.2 30.5,43.2 30.3,47.0 C30.1,50.8 29.1,54.9 27.3,57.1 C25.5,59.3 22.4,60.5 19.7,60.1 C17.0,59.7 13.6,57.2 10.9,54.6 C8.2,52.0 5.1,48.3 3.3,44.5 C1.5,40.7 -0.2,35.6 0.0,31.8Z" fill="#1a1ae0" filter="url(#b15)"/>
<circle cx="37.8" cy="24.7" r="2.5" fill="#1010b8" opacity="0.7" filter="url(#b15)"/>
<circle cx="41.4" cy="6.6" r="2.5" fill="#1010b8" opacity="0.7" filter="url(#b15)"/>
<circle cx="41.4" cy="12.3" r="2.5" fill="#1010b8" opacity="0.7" filter="url(#b15)"/>
<circle cx="51.0" cy="6.0" r="2.5" fill="#1010b8" opacity="0.7" filter="url(#b15)"/>
<circle cx="53.8" cy="15.8" r="2.5" fill="#1010b8" opacity="0.7" filter="url(#b15)"/>
<circle cx="46.2" cy="22.0" r="2.5" fill="#1010b8" opacity="0.7" filter="url(#b15)"/>
<circle cx="42.2" cy="25.9" r="2.5" fill="#1010b8" opacity="0.7" filter="url(#b15)"/>
<circle cx="56.0" cy="19.7" r="2.5" fill="#1010b8" opacity="0.7" filter="url(#b15)"/>
<circle cx="54.6" cy="9.4" r="2.5" fill="#1010b8" opacity="0.7" filter="url(#b15)"/>
<circle cx="49.4" cy="17.1" r="2.5" fill="#1010b8" opacity="0.7" filter="url(#b15)"/>
<circle cx="7.4" cy="41.8" r="2.5" fill="#1010b8" opacity="0.7" filter="url(#b15)"/>
<circle cx="25.5" cy="38.2" r="2.5" fill="#1010b8" opacity="0.7" filter="url(#b15)"/>
<circle cx="20.3" cy="30.6" r="2.5" fill="#1010b8" opacity="0.7" filter="url(#b15)"/>
<circle cx="11.2" cy="26.1" r="2.5" fill="#1010b8" opacity="0.7" filter="url(#b15)"/>
<circle cx="11.9" cy="50.0" r="2.5" fill="#1010b8" opacity="0.7" filter="url(#b15)"/>
<circle cx="15.7" cy="24.4" r="2.5" fill="#1010b8" opacity="0.7" filter="url(#b15)"/>
<circle cx="11.3" cy="35.8" r="2.5" fill="#1010b8" opacity="0.7" filter="url(#b15)"/>
<circle cx="25.6" cy="46.4" r="2.5" fill="#1010b8" opacity="0.7" filter="url(#b15)"/>
<circle cx="11.5" cy="31.0" r="2.5" fill="#1010b8" opacity="0.7" filter="url(#b15)"/>
<circle cx="20.1" cy="54.9" r="2.5" fill="#1010b8" opacity="0.7" filter="url(#b15)"/>
<circle cx="23.9" cy="42.4" r="2.5" fill="#1010b8" opacity="0.7" filter="url(#b15)"/>
<path d="M26.0,14.2 C26.6,11.9 28.2,7.5 31.1,5.3 C34.1,3.1 39.5,1.2 43.7,1.0 C47.9,0.8 53.5,1.8 56.4,4.0 C59.3,6.2 61.0,10.8 61.4,14.2 C61.8,17.6 60.6,21.7 58.9,24.3 C57.2,26.9 54.0,28.9 51.3,29.8 C48.6,30.7 45.5,30.5 42.5,29.8 C39.5,29.1 36.1,27.3 33.6,25.5 C31.1,23.7 28.6,21.1 27.3,19.2 C26.0,17.3 25.4,16.5 26.0,14.2Z" fill="none" stroke="#fff" stroke-width="1.3" stroke-dasharray="3.3,2"/>
<path d="M0.0,31.8 C0.2,28.0 2.1,23.9 4.5,21.7 C6.9,19.5 11.5,18.3 14.7,18.7 C17.9,19.1 21.2,21.7 23.5,24.3 C25.8,26.9 27.5,30.6 28.6,34.4 C29.7,38.2 30.5,43.2 30.3,47.0 C30.1,50.8 29.1,54.9 27.3,57.1 C25.5,59.3 22.4,60.5 19.7,60.1 C17.0,59.7 13.6,57.2 10.9,54.6 C8.2,52.0 5.1,48.3 3.3,44.5 C1.5,40.7 -0.2,35.6 0.0,31.8Z" fill="none" stroke="#fff" stroke-width="1.3" stroke-dasharray="3.3,2"/>
<rect x="51.8" y="52.0" width="8.2" height="3" fill="#fff"/>
</g></g>
<clipPath id="cc24"><rect x="709.0" y="210.6" width="62.1" height="62.0"/></clipPath>
<g clip-path="url(#cc24)"><rect x="709.0" y="210.6" width="62.1" height="62.0" fill="#02020c"/>
<g transform="translate(709.0,210.6)">
<path d="M15.7,36.9 C16.5,34.2 17.6,30.2 19.5,26.8 C21.4,23.4 24.3,19.1 27.0,16.7 C29.7,14.2 32.9,12.6 35.9,12.1 C38.9,11.6 43.0,12.0 44.7,13.6 C46.4,15.2 46.2,18.2 46.0,21.7 C45.8,25.2 44.8,30.4 43.5,34.4 C42.2,38.4 40.9,42.8 38.4,45.7 C35.9,48.7 31.4,51.5 28.3,52.1 C25.2,52.7 21.7,51.0 19.5,49.5 C17.3,48.0 15.5,45.3 14.9,43.2 C14.3,41.1 14.9,39.6 15.7,36.9Z" fill="#1616c8" opacity="0.7" filter="url(#b3)"/><path d="M15.7,36.9 C16.5,34.2 17.6,30.2 19.5,26.8 C21.4,23.4 24.3,19.1 27.0,16.7 C29.7,14.2 32.9,12.6 35.9,12.1 C38.9,11.6 43.0,12.0 44.7,13.6 C46.4,15.2 46.2,18.2 46.0,21.7 C45.8,25.2 44.8,30.4 43.5,34.4 C42.2,38.4 40.9,42.8 38.4,45.7 C35.9,48.7 31.4,51.5 28.3,52.1 C25.2,52.7 21.7,51.0 19.5,49.5 C17.3,48.0 15.5,45.3 14.9,43.2 C14.3,41.1 14.9,39.6 15.7,36.9Z" fill="#1a1ae0" filter="url(#b15)"/>
<circle cx="32.8" cy="19.4" r="2.5" fill="#1010b8" opacity="0.7" filter="url(#b15)"/>
<circle cx="25.1" cy="38.6" r="2.5" fill="#1010b8" opacity="0.7" filter="url(#b15)"/>
<circle cx="23.5" cy="28.9" r="2.5" fill="#1010b8" opacity="0.7" filter="url(#b15)"/>
<circle cx="23.2" cy="43.0" r="2.5" fill="#1010b8" opacity="0.7" filter="url(#b15)"/>
<circle cx="29.9" cy="38.7" r="2.5" fill="#1010b8" opacity="0.7" filter="url(#b15)"/>
<circle cx="26.8" cy="34.2" r="2.5" fill="#1010b8" opacity="0.7" filter="url(#b15)"/>
<circle cx="35.7" cy="25.7" r="2.5" fill="#1010b8" opacity="0.7" filter="url(#b15)"/>
<circle cx="19.4" cy="39.4" r="2.5" fill="#1010b8" opacity="0.7" filter="url(#b15)"/>
<circle cx="41.1" cy="27.2" r="2.5" fill="#1010b8" opacity="0.7" filter="url(#b15)"/>
<circle cx="41.6" cy="19.6" r="2.5" fill="#1010b8" opacity="0.7" filter="url(#b15)"/>
<circle cx="30.2" cy="23.9" r="2.5" fill="#1010b8" opacity="0.7" filter="url(#b15)"/>
<path d="M15.7,36.9 C16.5,34.2 17.6,30.2 19.5,26.8 C21.4,23.4 24.3,19.1 27.0,16.7 C29.7,14.2 32.9,12.6 35.9,12.1 C38.9,11.6 43.0,12.0 44.7,13.6 C46.4,15.2 46.2,18.2 46.0,21.7 C45.8,25.2 44.8,30.4 43.5,34.4 C42.2,38.4 40.9,42.8 38.4,45.7 C35.9,48.7 31.4,51.5 28.3,52.1 C25.2,52.7 21.7,51.0 19.5,49.5 C17.3,48.0 15.5,45.3 14.9,43.2 C14.3,41.1 14.9,39.6 15.7,36.9Z" fill="none" stroke="#fff" stroke-width="1.3" stroke-dasharray="3.3,2"/>
<rect x="52.3" y="54.0" width="8.2" height="3" fill="#fff"/>
</g></g>
<clipPath id="cc25"><rect x="775.6" y="210.6" width="62.1" height="62.0"/></clipPath>
<g clip-path="url(#cc25)"><rect x="775.6" y="210.6" width="62.1" height="62.0" fill="#02020e"/>
<g transform="translate(775.6,210.6)">
<path d="M16.2,21.7 C16.1,19.6 17.9,17.1 20.0,16.7 C22.1,16.3 25.7,17.9 28.8,19.2 C31.9,20.5 35.9,22.6 38.9,24.3 C41.9,26.0 44.7,27.2 46.5,29.3 C48.3,31.4 49.5,34.4 49.5,36.9 C49.5,39.4 48.7,42.9 46.5,44.5 C44.3,46.1 39.6,46.6 36.4,46.5 C33.2,46.4 29.6,45.6 27.5,44.0 C25.4,42.4 24.9,39.4 23.8,36.9 C22.7,34.4 22.0,31.8 20.7,29.3 C19.4,26.8 16.3,23.8 16.2,21.7Z" fill="#1616c8" opacity="0.7" filter="url(#b3)"/><path d="M16.2,21.7 C16.1,19.6 17.9,17.1 20.0,16.7 C22.1,16.3 25.7,17.9 28.8,19.2 C31.9,20.5 35.9,22.6 38.9,24.3 C41.9,26.0 44.7,27.2 46.5,29.3 C48.3,31.4 49.5,34.4 49.5,36.9 C49.5,39.4 48.7,42.9 46.5,44.5 C44.3,46.1 39.6,46.6 36.4,46.5 C33.2,46.4 29.6,45.6 27.5,44.0 C25.4,42.4 24.9,39.4 23.8,36.9 C22.7,34.4 22.0,31.8 20.7,29.3 C19.4,26.8 16.3,23.8 16.2,21.7Z" fill="#1a1ae0" filter="url(#b15)"/>
<circle cx="38.6" cy="29.8" r="2.5" fill="#1010b8" opacity="0.7" filter="url(#b15)"/>
<circle cx="25.5" cy="21.9" r="2.5" fill="#1010b8" opacity="0.7" filter="url(#b15)"/>
<circle cx="32.4" cy="39.4" r="2.5" fill="#1010b8" opacity="0.7" filter="url(#b15)"/>
<circle cx="32.3" cy="23.2" r="2.5" fill="#1010b8" opacity="0.7" filter="url(#b15)"/>
<circle cx="40.7" cy="33.8" r="2.5" fill="#1010b8" opacity="0.7" filter="url(#b15)"/>
<circle cx="45.4" cy="35.1" r="2.5" fill="#1010b8" opacity="0.7" filter="url(#b15)"/>
<circle cx="43.7" cy="30.0" r="2.5" fill="#1010b8" opacity="0.7" filter="url(#b15)"/>
<circle cx="25.1" cy="32.5" r="2.5" fill="#1010b8" opacity="0.7" filter="url(#b15)"/>
<path d="M16.2,21.7 C16.1,19.6 17.9,17.1 20.0,16.7 C22.1,16.3 25.7,17.9 28.8,19.2 C31.9,20.5 35.9,22.6 38.9,24.3 C41.9,26.0 44.7,27.2 46.5,29.3 C48.3,31.4 49.5,34.4 49.5,36.9 C49.5,39.4 48.7,42.9 46.5,44.5 C44.3,46.1 39.6,46.6 36.4,46.5 C33.2,46.4 29.6,45.6 27.5,44.0 C25.4,42.4 24.9,39.4 23.8,36.9 C22.7,34.4 22.0,31.8 20.7,29.3 C19.4,26.8 16.3,23.8 16.2,21.7Z" fill="none" stroke="#fff" stroke-width="1.3" stroke-dasharray="3.3,2"/>
<rect x="52.5" y="54.0" width="8.2" height="3" fill="#fff"/>
</g></g>
<clipPath id="cc30"><rect x="441.5" y="277.4" width="62.1" height="62.0"/></clipPath>
<g clip-path="url(#cc30)"><rect x="441.5" y="277.4" width="62.1" height="62.0" fill="#1c1c1c"/>
<rect x="441.5" y="277.4" width="62.1" height="62.0" fill="#fff" filter="url(#nzW)" opacity="0.16"/>
<g transform="translate(441.5,277.4)">
<path d="M31.1,17.9 C32.4,15.8 34.9,12.1 37.4,10.4 C39.9,8.7 43.5,7.6 46.2,7.8 C48.9,8.0 52.1,9.5 53.8,11.6 C55.5,13.7 56.2,17.6 56.4,20.5 C56.6,23.4 56.4,27.0 55.1,29.3 C53.8,31.6 51.3,33.5 48.8,34.4 C46.3,35.2 42.6,35.2 39.9,34.4 C37.1,33.5 34.0,31.2 32.3,29.3 C30.6,27.4 30.0,24.9 29.8,23.0 C29.6,21.1 29.8,20.0 31.1,17.9Z" fill="#808080" filter="url(#b15)"/>
<path d="M4.0,39.4 C4.7,37.9 5.7,35.8 8.3,34.4 C10.9,33.0 17.2,31.1 19.7,31.3 C22.2,31.5 23.3,33.4 23.5,35.6 C23.7,37.8 22.7,42.2 21.0,44.5 C19.3,46.8 15.7,48.9 13.4,49.5 C11.1,50.1 8.7,49.3 7.1,48.3 C5.5,47.2 4.5,44.7 4.0,43.2 C3.5,41.7 3.3,40.9 4.0,39.4Z" fill="#808080" filter="url(#b15)"/>
<circle cx="45.6" cy="16.5" r="2.6" fill="#d8d8d8" opacity="0.55" filter="url(#b15)"/>
<circle cx="42.6" cy="28.8" r="2.6" fill="#4c4c4c" opacity="0.55" filter="url(#b15)"/>
<circle cx="36.1" cy="22.3" r="2.6" fill="#d8d8d8" opacity="0.55" filter="url(#b15)"/>
<circle cx="52.4" cy="25.4" r="2.6" fill="#4c4c4c" opacity="0.55" filter="url(#b15)"/>
<circle cx="50.7" cy="14.5" r="2.6" fill="#d8d8d8" opacity="0.55" filter="url(#b15)"/>
<circle cx="43.9" cy="24.5" r="2.6" fill="#4c4c4c" opacity="0.55" filter="url(#b15)"/>
<circle cx="38.7" cy="17.8" r="2.6" fill="#d8d8d8" opacity="0.55" filter="url(#b15)"/>
<circle cx="47.6" cy="10.8" r="2.6" fill="#4c4c4c" opacity="0.55" filter="url(#b15)"/>
<circle cx="40.4" cy="13.8" r="2.6" fill="#d8d8d8" opacity="0.55" filter="url(#b15)"/>
<circle cx="47.9" cy="30.7" r="2.6" fill="#4c4c4c" opacity="0.55" filter="url(#b15)"/>
<circle cx="53.7" cy="19.6" r="2.6" fill="#d8d8d8" opacity="0.55" filter="url(#b15)"/>
<circle cx="47.6" cy="20.2" r="2.6" fill="#4c4c4c" opacity="0.55" filter="url(#b15)"/>
<circle cx="48.2" cy="25.4" r="2.6" fill="#d8d8d8" opacity="0.55" filter="url(#b15)"/>
<circle cx="37.2" cy="27.0" r="2.6" fill="#4c4c4c" opacity="0.55" filter="url(#b15)"/>
<circle cx="15.2" cy="33.7" r="2.6" fill="#d8d8d8" opacity="0.55" filter="url(#b15)"/>
<circle cx="9.9" cy="37.9" r="2.6" fill="#4c4c4c" opacity="0.55" filter="url(#b15)"/>
<circle cx="18.5" cy="37.2" r="2.6" fill="#d8d8d8" opacity="0.55" filter="url(#b15)"/>
<circle cx="12.5" cy="45.3" r="2.6" fill="#4c4c4c" opacity="0.55" filter="url(#b15)"/>
<circle cx="13.9" cy="39.3" r="2.6" fill="#d8d8d8" opacity="0.55" filter="url(#b15)"/>
<circle cx="17.6" cy="42.6" r="2.6" fill="#4c4c4c" opacity="0.55" filter="url(#b15)"/>
<path d="M31.1,17.9 C32.4,15.8 34.9,12.1 37.4,10.4 C39.9,8.7 43.5,7.6 46.2,7.8 C48.9,8.0 52.1,9.5 53.8,11.6 C55.5,13.7 56.2,17.6 56.4,20.5 C56.6,23.4 56.4,27.0 55.1,29.3 C53.8,31.6 51.3,33.5 48.8,34.4 C46.3,35.2 42.6,35.2 39.9,34.4 C37.1,33.5 34.0,31.2 32.3,29.3 C30.6,27.4 30.0,24.9 29.8,23.0 C29.6,21.1 29.8,20.0 31.1,17.9Z" fill="none" stroke="#fff" stroke-width="1.3" stroke-dasharray="3.3,2"/>
<path d="M4.0,39.4 C4.7,37.9 5.7,35.8 8.3,34.4 C10.9,33.0 17.2,31.1 19.7,31.3 C22.2,31.5 23.3,33.4 23.5,35.6 C23.7,37.8 22.7,42.2 21.0,44.5 C19.3,46.8 15.7,48.9 13.4,49.5 C11.1,50.1 8.7,49.3 7.1,48.3 C5.5,47.2 4.5,44.7 4.0,43.2 C3.5,41.7 3.3,40.9 4.0,39.4Z" fill="none" stroke="#fff" stroke-width="1.3" stroke-dasharray="3.3,2"/>
<rect x="52.8" y="55.6" width="8.2" height="3" fill="#fff"/>
</g></g>
<clipPath id="cc31"><rect x="508.4" y="277.4" width="62.1" height="62.0"/></clipPath>
<g clip-path="url(#cc31)"><rect x="508.4" y="277.4" width="62.1" height="62.0" fill="#161616"/>
<rect x="508.4" y="277.4" width="62.1" height="62.0" fill="#fff" filter="url(#nzW)" opacity="0.16"/>
<g transform="translate(508.4,277.4)">
<path d="M15.9,29.3 C16.4,27.2 16.3,23.9 18.4,21.7 C20.5,19.5 25.0,17.0 28.6,16.2 C32.2,15.4 37.4,15.3 39.9,16.7 C42.4,18.1 43.1,21.4 43.7,24.3 C44.3,27.2 44.8,31.4 43.7,34.4 C42.7,37.4 40.1,40.2 37.4,42.0 C34.7,43.8 30.5,45.2 27.3,45.0 C24.1,44.8 20.4,42.5 18.4,40.7 C16.4,38.9 15.8,36.3 15.4,34.4 C15.0,32.5 15.4,31.4 15.9,29.3Z" fill="#989898" filter="url(#b15)"/>
<circle cx="35.7" cy="18.7" r="2.6" fill="#d8d8d8" opacity="0.55" filter="url(#b15)"/>
<circle cx="40.7" cy="23.7" r="2.6" fill="#4c4c4c" opacity="0.55" filter="url(#b15)"/>
<circle cx="32.9" cy="25.9" r="2.6" fill="#d8d8d8" opacity="0.55" filter="url(#b15)"/>
<circle cx="23.9" cy="22.3" r="2.6" fill="#4c4c4c" opacity="0.55" filter="url(#b15)"/>
<circle cx="31.3" cy="21.9" r="2.6" fill="#d8d8d8" opacity="0.55" filter="url(#b15)"/>
<circle cx="39.8" cy="34.0" r="2.6" fill="#4c4c4c" opacity="0.55" filter="url(#b15)"/>
<circle cx="30.3" cy="38.8" r="2.6" fill="#d8d8d8" opacity="0.55" filter="url(#b15)"/>
<circle cx="41.4" cy="28.1" r="2.6" fill="#4c4c4c" opacity="0.55" filter="url(#b15)"/>
<circle cx="24.3" cy="37.6" r="2.6" fill="#d8d8d8" opacity="0.55" filter="url(#b15)"/>
<circle cx="33.8" cy="33.1" r="2.6" fill="#4c4c4c" opacity="0.55" filter="url(#b15)"/>
<circle cx="24.1" cy="32.5" r="2.6" fill="#d8d8d8" opacity="0.55" filter="url(#b15)"/>
<circle cx="28.1" cy="31.0" r="2.6" fill="#4c4c4c" opacity="0.55" filter="url(#b15)"/>
<circle cx="20.0" cy="29.3" r="2.6" fill="#d8d8d8" opacity="0.55" filter="url(#b15)"/>
<circle cx="34.8" cy="39.0" r="2.6" fill="#4c4c4c" opacity="0.55" filter="url(#b15)"/>
<circle cx="25.9" cy="27.4" r="2.6" fill="#d8d8d8" opacity="0.55" filter="url(#b15)"/>
<circle cx="36.7" cy="29.6" r="2.6" fill="#4c4c4c" opacity="0.55" filter="url(#b15)"/>
<path d="M15.9,29.3 C16.4,27.2 16.3,23.9 18.4,21.7 C20.5,19.5 25.0,17.0 28.6,16.2 C32.2,15.4 37.4,15.3 39.9,16.7 C42.4,18.1 43.1,21.4 43.7,24.3 C44.3,27.2 44.8,31.4 43.7,34.4 C42.7,37.4 40.1,40.2 37.4,42.0 C34.7,43.8 30.5,45.2 27.3,45.0 C24.1,44.8 20.4,42.5 18.4,40.7 C16.4,38.9 15.8,36.3 15.4,34.4 C15.0,32.5 15.4,31.4 15.9,29.3Z" fill="none" stroke="#fff" stroke-width="1.3" stroke-dasharray="3.3,2"/>
<rect x="52.0" y="54.0" width="8.2" height="3" fill="#fff"/>
</g></g>
<clipPath id="cc32"><rect x="575.2" y="277.4" width="62.1" height="62.0"/></clipPath>
<g clip-path="url(#cc32)"><rect x="575.2" y="277.4" width="62.1" height="62.0" fill="#040404"/>
<rect x="575.2" y="277.4" width="62.1" height="62.0" fill="#fff" filter="url(#nzW)" opacity="0.04"/>
<g transform="translate(575.2,277.4)">
<path d="M8.6,26.8 C10.1,24.5 13.4,22.4 17.4,20.5 C21.4,18.6 28.4,15.7 32.6,15.4 C36.8,15.1 39.7,16.9 42.7,18.6 C45.7,20.3 48.9,22.9 50.8,25.4 C52.7,27.9 54.6,31.6 54.3,33.6 C54.0,35.6 50.9,36.5 49.0,37.6 C47.1,38.7 44.3,38.8 43.2,40.4 C42.1,42.0 43.6,45.0 42.2,47.4 C40.9,49.8 38.2,53.1 35.1,54.8 C32.0,56.5 27.2,57.9 23.8,57.6 C20.4,57.4 17.0,55.9 14.9,53.3 C12.8,50.7 12.2,45.1 11.1,42.0 C10.0,38.9 9.0,36.9 8.6,34.4 C8.2,31.9 7.1,29.1 8.6,26.8Z" fill="#a8a8a8" filter="url(#b15)"/>
<circle cx="38.8" cy="29.4" r="2.6" fill="#d8d8d8" opacity="0.55" filter="url(#b15)"/>
<circle cx="28.4" cy="31.1" r="2.6" fill="#4c4c4c" opacity="0.55" filter="url(#b15)"/>
<circle cx="19.5" cy="25.5" r="2.6" fill="#d8d8d8" opacity="0.55" filter="url(#b15)"/>
<circle cx="27.4" cy="51.7" r="2.6" fill="#4c4c4c" opacity="0.55" filter="url(#b15)"/>
<circle cx="20.8" cy="33.9" r="2.6" fill="#d8d8d8" opacity="0.55" filter="url(#b15)"/>
<circle cx="34.4" cy="46.2" r="2.6" fill="#4c4c4c" opacity="0.55" filter="url(#b15)"/>
<circle cx="15.9" cy="33.9" r="2.6" fill="#d8d8d8" opacity="0.55" filter="url(#b15)"/>
<circle cx="34.0" cy="21.2" r="2.6" fill="#4c4c4c" opacity="0.55" filter="url(#b15)"/>
<circle cx="25.1" cy="22.4" r="2.6" fill="#d8d8d8" opacity="0.55" filter="url(#b15)"/>
<circle cx="43.6" cy="32.8" r="2.6" fill="#4c4c4c" opacity="0.55" filter="url(#b15)"/>
<circle cx="19.1" cy="41.3" r="2.6" fill="#d8d8d8" opacity="0.55" filter="url(#b15)"/>
<circle cx="39.0" cy="34.0" r="2.6" fill="#4c4c4c" opacity="0.55" filter="url(#b15)"/>
<circle cx="28.6" cy="45.7" r="2.6" fill="#d8d8d8" opacity="0.55" filter="url(#b15)"/>
<circle cx="29.3" cy="24.0" r="2.6" fill="#4c4c4c" opacity="0.55" filter="url(#b15)"/>
<circle cx="24.4" cy="40.9" r="2.6" fill="#d8d8d8" opacity="0.55" filter="url(#b15)"/>
<circle cx="38.9" cy="25.0" r="2.6" fill="#4c4c4c" opacity="0.55" filter="url(#b15)"/>
<circle cx="33.5" cy="41.4" r="2.6" fill="#d8d8d8" opacity="0.55" filter="url(#b15)"/>
<circle cx="20.4" cy="45.7" r="2.6" fill="#4c4c4c" opacity="0.55" filter="url(#b15)"/>
<circle cx="48.2" cy="29.4" r="2.6" fill="#d8d8d8" opacity="0.55" filter="url(#b15)"/>
<circle cx="32.6" cy="35.4" r="2.6" fill="#4c4c4c" opacity="0.55" filter="url(#b15)"/>
<circle cx="39.2" cy="41.2" r="2.6" fill="#d8d8d8" opacity="0.55" filter="url(#b15)"/>
<circle cx="25.2" cy="27.8" r="2.6" fill="#4c4c4c" opacity="0.55" filter="url(#b15)"/>
<circle cx="29.4" cy="39.2" r="2.6" fill="#d8d8d8" opacity="0.55" filter="url(#b15)"/>
<circle cx="45.4" cy="24.2" r="2.6" fill="#4c4c4c" opacity="0.55" filter="url(#b15)"/>
<circle cx="14.9" cy="28.1" r="2.6" fill="#d8d8d8" opacity="0.55" filter="url(#b15)"/>
<circle cx="47.7" cy="34.6" r="2.6" fill="#4c4c4c" opacity="0.55" filter="url(#b15)"/>
<circle cx="38.8" cy="20.4" r="2.6" fill="#d8d8d8" opacity="0.55" filter="url(#b15)"/>
<circle cx="42.7" cy="37.8" r="2.6" fill="#4c4c4c" opacity="0.55" filter="url(#b15)"/>
<circle cx="34.5" cy="30.7" r="2.6" fill="#d8d8d8" opacity="0.55" filter="url(#b15)"/>
<circle cx="26.6" cy="35.5" r="2.6" fill="#4c4c4c" opacity="0.55" filter="url(#b15)"/>
<circle cx="32.3" cy="50.9" r="2.6" fill="#d8d8d8" opacity="0.55" filter="url(#b15)"/>
<circle cx="21.6" cy="49.8" r="2.6" fill="#4c4c4c" opacity="0.55" filter="url(#b15)"/>
<circle cx="39.1" cy="45.7" r="2.6" fill="#d8d8d8" opacity="0.55" filter="url(#b15)"/>
<circle cx="34.7" cy="26.0" r="2.6" fill="#4c4c4c" opacity="0.55" filter="url(#b15)"/>
<path d="M8.6,26.8 C10.1,24.5 13.4,22.4 17.4,20.5 C21.4,18.6 28.4,15.7 32.6,15.4 C36.8,15.1 39.7,16.9 42.7,18.6 C45.7,20.3 48.9,22.9 50.8,25.4 C52.7,27.9 54.6,31.6 54.3,33.6 C54.0,35.6 50.9,36.5 49.0,37.6 C47.1,38.7 44.3,38.8 43.2,40.4 C42.1,42.0 43.6,45.0 42.2,47.4 C40.9,49.8 38.2,53.1 35.1,54.8 C32.0,56.5 27.2,57.9 23.8,57.6 C20.4,57.4 17.0,55.9 14.9,53.3 C12.8,50.7 12.2,45.1 11.1,42.0 C10.0,38.9 9.0,36.9 8.6,34.4 C8.2,31.9 7.1,29.1 8.6,26.8Z" fill="none" stroke="#fff" stroke-width="1.3" stroke-dasharray="3.3,2"/>
<rect x="52.8" y="52.0" width="8.2" height="3" fill="#fff"/>
</g></g>
<clipPath id="cc33"><rect x="643.0" y="277.4" width="62.1" height="62.0"/></clipPath>
<g clip-path="url(#cc33)"><rect x="643.0" y="277.4" width="62.1" height="62.0" fill="#020202"/>
<rect x="643.0" y="277.4" width="62.1" height="62.0" fill="#fff" filter="url(#nzW)" opacity="0.03"/>
<g transform="translate(643.0,277.4)">
<path d="M26.0,14.2 C26.6,11.9 28.2,7.5 31.1,5.3 C34.1,3.1 39.5,1.2 43.7,1.0 C47.9,0.8 53.5,1.8 56.4,4.0 C59.3,6.2 61.0,10.8 61.4,14.2 C61.8,17.6 60.6,21.7 58.9,24.3 C57.2,26.9 54.0,28.9 51.3,29.8 C48.6,30.7 45.5,30.5 42.5,29.8 C39.5,29.1 36.1,27.3 33.6,25.5 C31.1,23.7 28.6,21.1 27.3,19.2 C26.0,17.3 25.4,16.5 26.0,14.2Z" fill="#b2b2b2" filter="url(#b15)"/>
<path d="M0.0,31.8 C0.2,28.0 2.1,23.9 4.5,21.7 C6.9,19.5 11.5,18.3 14.7,18.7 C17.9,19.1 21.2,21.7 23.5,24.3 C25.8,26.9 27.5,30.6 28.6,34.4 C29.7,38.2 30.5,43.2 30.3,47.0 C30.1,50.8 29.1,54.9 27.3,57.1 C25.5,59.3 22.4,60.5 19.7,60.1 C17.0,59.7 13.6,57.2 10.9,54.6 C8.2,52.0 5.1,48.3 3.3,44.5 C1.5,40.7 -0.2,35.6 0.0,31.8Z" fill="#b2b2b2" filter="url(#b15)"/>
<circle cx="39.3" cy="23.7" r="2.6" fill="#d8d8d8" opacity="0.55" filter="url(#b15)"/>
<circle cx="53.5" cy="20.7" r="2.6" fill="#4c4c4c" opacity="0.55" filter="url(#b15)"/>
<circle cx="42.9" cy="5.6" r="2.6" fill="#d8d8d8" opacity="0.55" filter="url(#b15)"/>
<circle cx="33.9" cy="17.5" r="2.6" fill="#4c4c4c" opacity="0.55" filter="url(#b15)"/>
<circle cx="42.9" cy="11.3" r="2.6" fill="#d8d8d8" opacity="0.55" filter="url(#b15)"/>
<circle cx="36.5" cy="6.7" r="2.6" fill="#4c4c4c" opacity="0.55" filter="url(#b15)"/>
<circle cx="52.5" cy="5.0" r="2.6" fill="#d8d8d8" opacity="0.55" filter="url(#b15)"/>
<circle cx="47.9" cy="13.0" r="2.6" fill="#4c4c4c" opacity="0.55" filter="url(#b15)"/>
<circle cx="55.3" cy="14.8" r="2.6" fill="#d8d8d8" opacity="0.55" filter="url(#b15)"/>
<circle cx="42.2" cy="19.3" r="2.6" fill="#4c4c4c" opacity="0.55" filter="url(#b15)"/>
<circle cx="47.7" cy="21.0" r="2.6" fill="#d8d8d8" opacity="0.55" filter="url(#b15)"/>
<circle cx="47.8" cy="26.1" r="2.6" fill="#4c4c4c" opacity="0.55" filter="url(#b15)"/>
<circle cx="43.7" cy="24.9" r="2.6" fill="#d8d8d8" opacity="0.55" filter="url(#b15)"/>
<circle cx="47.1" cy="5.9" r="2.6" fill="#4c4c4c" opacity="0.55" filter="url(#b15)"/>
<circle cx="57.5" cy="18.7" r="2.6" fill="#d8d8d8" opacity="0.55" filter="url(#b15)"/>
<circle cx="35.4" cy="11.5" r="2.6" fill="#4c4c4c" opacity="0.55" filter="url(#b15)"/>
<circle cx="56.1" cy="8.4" r="2.6" fill="#d8d8d8" opacity="0.55" filter="url(#b15)"/>
<circle cx="52.1" cy="11.4" r="2.6" fill="#4c4c4c" opacity="0.55" filter="url(#b15)"/>
<circle cx="50.9" cy="16.1" r="2.6" fill="#d8d8d8" opacity="0.55" filter="url(#b15)"/>
<circle cx="15.5" cy="41.5" r="2.6" fill="#4c4c4c" opacity="0.55" filter="url(#b15)"/>
<circle cx="8.9" cy="40.8" r="2.6" fill="#d8d8d8" opacity="0.55" filter="url(#b15)"/>
<circle cx="20.5" cy="43.9" r="2.6" fill="#4c4c4c" opacity="0.55" filter="url(#b15)"/>
<circle cx="27.0" cy="37.2" r="2.6" fill="#d8d8d8" opacity="0.55" filter="url(#b15)"/>
<circle cx="23.1" cy="47.9" r="2.6" fill="#4c4c4c" opacity="0.55" filter="url(#b15)"/>
<circle cx="21.8" cy="29.6" r="2.6" fill="#d8d8d8" opacity="0.55" filter="url(#b15)"/>
<circle cx="18.0" cy="51.2" r="2.6" fill="#4c4c4c" opacity="0.55" filter="url(#b15)"/>
<circle cx="12.7" cy="25.1" r="2.6" fill="#d8d8d8" opacity="0.55" filter="url(#b15)"/>
<circle cx="17.3" cy="30.1" r="2.6" fill="#4c4c4c" opacity="0.55" filter="url(#b15)"/>
<circle cx="13.4" cy="49.0" r="2.6" fill="#d8d8d8" opacity="0.55" filter="url(#b15)"/>
<circle cx="17.2" cy="35.3" r="2.6" fill="#4c4c4c" opacity="0.55" filter="url(#b15)"/>
<circle cx="17.2" cy="23.4" r="2.6" fill="#d8d8d8" opacity="0.55" filter="url(#b15)"/>
<circle cx="9.1" cy="27.7" r="2.6" fill="#4c4c4c" opacity="0.55" filter="url(#b15)"/>
<circle cx="12.8" cy="34.8" r="2.6" fill="#d8d8d8" opacity="0.55" filter="url(#b15)"/>
<circle cx="25.7" cy="52.6" r="2.6" fill="#4c4c4c" opacity="0.55" filter="url(#b15)"/>
<circle cx="27.1" cy="45.4" r="2.6" fill="#d8d8d8" opacity="0.55" filter="url(#b15)"/>
<circle cx="21.1" cy="38.6" r="2.6" fill="#4c4c4c" opacity="0.55" filter="url(#b15)"/>
<circle cx="13.0" cy="30.0" r="2.6" fill="#d8d8d8" opacity="0.55" filter="url(#b15)"/>
<circle cx="8.7" cy="33.5" r="2.6" fill="#4c4c4c" opacity="0.55" filter="url(#b15)"/>
<circle cx="21.6" cy="53.9" r="2.6" fill="#d8d8d8" opacity="0.55" filter="url(#b15)"/>
<circle cx="21.3" cy="34.0" r="2.6" fill="#4c4c4c" opacity="0.55" filter="url(#b15)"/>
<circle cx="25.4" cy="41.4" r="2.6" fill="#d8d8d8" opacity="0.55" filter="url(#b15)"/>
<circle cx="26.1" cy="31.8" r="2.6" fill="#4c4c4c" opacity="0.55" filter="url(#b15)"/>
<path d="M26.0,14.2 C26.6,11.9 28.2,7.5 31.1,5.3 C34.1,3.1 39.5,1.2 43.7,1.0 C47.9,0.8 53.5,1.8 56.4,4.0 C59.3,6.2 61.0,10.8 61.4,14.2 C61.8,17.6 60.6,21.7 58.9,24.3 C57.2,26.9 54.0,28.9 51.3,29.8 C48.6,30.7 45.5,30.5 42.5,29.8 C39.5,29.1 36.1,27.3 33.6,25.5 C31.1,23.7 28.6,21.1 27.3,19.2 C26.0,17.3 25.4,16.5 26.0,14.2Z" fill="none" stroke="#fff" stroke-width="1.3" stroke-dasharray="3.3,2"/>
<path d="M0.0,31.8 C0.2,28.0 2.1,23.9 4.5,21.7 C6.9,19.5 11.5,18.3 14.7,18.7 C17.9,19.1 21.2,21.7 23.5,24.3 C25.8,26.9 27.5,30.6 28.6,34.4 C29.7,38.2 30.5,43.2 30.3,47.0 C30.1,50.8 29.1,54.9 27.3,57.1 C25.5,59.3 22.4,60.5 19.7,60.1 C17.0,59.7 13.6,57.2 10.9,54.6 C8.2,52.0 5.1,48.3 3.3,44.5 C1.5,40.7 -0.2,35.6 0.0,31.8Z" fill="none" stroke="#fff" stroke-width="1.3" stroke-dasharray="3.3,2"/>
<rect x="51.8" y="52.0" width="8.2" height="3" fill="#fff"/>
</g></g>
<clipPath id="cc34"><rect x="709.0" y="277.4" width="62.1" height="62.0"/></clipPath>
<g clip-path="url(#cc34)"><rect x="709.0" y="277.4" width="62.1" height="62.0" fill="#1e1e1e"/>
<rect x="709.0" y="277.4" width="62.1" height="62.0" fill="#fff" filter="url(#nzW)" opacity="0.14"/>
<g transform="translate(709.0,277.4)">
<path d="M15.7,36.9 C16.5,34.2 17.6,30.2 19.5,26.8 C21.4,23.4 24.3,19.1 27.0,16.7 C29.7,14.2 32.9,12.6 35.9,12.1 C38.9,11.6 43.0,12.0 44.7,13.6 C46.4,15.2 46.2,18.2 46.0,21.7 C45.8,25.2 44.8,30.4 43.5,34.4 C42.2,38.4 40.9,42.8 38.4,45.7 C35.9,48.7 31.4,51.5 28.3,52.1 C25.2,52.7 21.7,51.0 19.5,49.5 C17.3,48.0 15.5,45.3 14.9,43.2 C14.3,41.1 14.9,39.6 15.7,36.9Z" fill="#929292" filter="url(#b15)"/>
<circle cx="34.3" cy="18.4" r="2.6" fill="#d8d8d8" opacity="0.55" filter="url(#b15)"/>
<circle cx="36.8" cy="37.0" r="2.6" fill="#4c4c4c" opacity="0.55" filter="url(#b15)"/>
<circle cx="26.6" cy="37.6" r="2.6" fill="#d8d8d8" opacity="0.55" filter="url(#b15)"/>
<circle cx="38.5" cy="29.5" r="2.6" fill="#4c4c4c" opacity="0.55" filter="url(#b15)"/>
<circle cx="25.0" cy="27.9" r="2.6" fill="#d8d8d8" opacity="0.55" filter="url(#b15)"/>
<circle cx="38.6" cy="20.2" r="2.6" fill="#4c4c4c" opacity="0.55" filter="url(#b15)"/>
<circle cx="24.7" cy="42.0" r="2.6" fill="#d8d8d8" opacity="0.55" filter="url(#b15)"/>
<circle cx="31.5" cy="45.9" r="2.6" fill="#4c4c4c" opacity="0.55" filter="url(#b15)"/>
<circle cx="31.4" cy="37.7" r="2.6" fill="#d8d8d8" opacity="0.55" filter="url(#b15)"/>
<circle cx="34.1" cy="31.5" r="2.6" fill="#4c4c4c" opacity="0.55" filter="url(#b15)"/>
<circle cx="28.3" cy="33.2" r="2.6" fill="#d8d8d8" opacity="0.55" filter="url(#b15)"/>
<circle cx="42.3" cy="32.8" r="2.6" fill="#4c4c4c" opacity="0.55" filter="url(#b15)"/>
<circle cx="37.2" cy="24.7" r="2.6" fill="#d8d8d8" opacity="0.55" filter="url(#b15)"/>
<circle cx="29.9" cy="27.8" r="2.6" fill="#4c4c4c" opacity="0.55" filter="url(#b15)"/>
<circle cx="20.9" cy="38.4" r="2.6" fill="#d8d8d8" opacity="0.55" filter="url(#b15)"/>
<circle cx="27.2" cy="22.5" r="2.6" fill="#4c4c4c" opacity="0.55" filter="url(#b15)"/>
<circle cx="42.6" cy="26.2" r="2.6" fill="#d8d8d8" opacity="0.55" filter="url(#b15)"/>
<circle cx="37.9" cy="15.6" r="2.6" fill="#4c4c4c" opacity="0.55" filter="url(#b15)"/>
<circle cx="43.1" cy="18.6" r="2.6" fill="#d8d8d8" opacity="0.55" filter="url(#b15)"/>
<circle cx="35.0" cy="42.5" r="2.6" fill="#4c4c4c" opacity="0.55" filter="url(#b15)"/>
<circle cx="31.7" cy="22.9" r="2.6" fill="#d8d8d8" opacity="0.55" filter="url(#b15)"/>
<circle cx="22.0" cy="33.8" r="2.6" fill="#4c4c4c" opacity="0.55" filter="url(#b15)"/>
<path d="M15.7,36.9 C16.5,34.2 17.6,30.2 19.5,26.8 C21.4,23.4 24.3,19.1 27.0,16.7 C29.7,14.2 32.9,12.6 35.9,12.1 C38.9,11.6 43.0,12.0 44.7,13.6 C46.4,15.2 46.2,18.2 46.0,21.7 C45.8,25.2 44.8,30.4 43.5,34.4 C42.2,38.4 40.9,42.8 38.4,45.7 C35.9,48.7 31.4,51.5 28.3,52.1 C25.2,52.7 21.7,51.0 19.5,49.5 C17.3,48.0 15.5,45.3 14.9,43.2 C14.3,41.1 14.9,39.6 15.7,36.9Z" fill="none" stroke="#fff" stroke-width="1.3" stroke-dasharray="3.3,2"/>
<rect x="52.3" y="54.0" width="8.2" height="3" fill="#fff"/>
</g></g>
<clipPath id="cc35"><rect x="775.6" y="277.4" width="62.1" height="62.0"/></clipPath>
<g clip-path="url(#cc35)"><rect x="775.6" y="277.4" width="62.1" height="62.0" fill="#202020"/>
<rect x="775.6" y="277.4" width="62.1" height="62.0" fill="#fff" filter="url(#nzW)" opacity="0.16"/>
<g transform="translate(775.6,277.4)">
<path d="M16.2,21.7 C16.1,19.6 17.9,17.1 20.0,16.7 C22.1,16.3 25.7,17.9 28.8,19.2 C31.9,20.5 35.9,22.6 38.9,24.3 C41.9,26.0 44.7,27.2 46.5,29.3 C48.3,31.4 49.5,34.4 49.5,36.9 C49.5,39.4 48.7,42.9 46.5,44.5 C44.3,46.1 39.6,46.6 36.4,46.5 C33.2,46.4 29.6,45.6 27.5,44.0 C25.4,42.4 24.9,39.4 23.8,36.9 C22.7,34.4 22.0,31.8 20.7,29.3 C19.4,26.8 16.3,23.8 16.2,21.7Z" fill="#848484" filter="url(#b15)"/>
<circle cx="40.1" cy="28.8" r="2.6" fill="#d8d8d8" opacity="0.55" filter="url(#b15)"/>
<circle cx="31.6" cy="29.6" r="2.6" fill="#4c4c4c" opacity="0.55" filter="url(#b15)"/>
<circle cx="27.0" cy="20.9" r="2.6" fill="#d8d8d8" opacity="0.55" filter="url(#b15)"/>
<circle cx="35.2" cy="32.5" r="2.6" fill="#4c4c4c" opacity="0.55" filter="url(#b15)"/>
<circle cx="33.9" cy="38.4" r="2.6" fill="#d8d8d8" opacity="0.55" filter="url(#b15)"/>
<circle cx="44.7" cy="39.4" r="2.6" fill="#4c4c4c" opacity="0.55" filter="url(#b15)"/>
<circle cx="33.8" cy="22.2" r="2.6" fill="#d8d8d8" opacity="0.55" filter="url(#b15)"/>
<circle cx="21.8" cy="22.9" r="2.6" fill="#4c4c4c" opacity="0.55" filter="url(#b15)"/>
<circle cx="42.2" cy="32.8" r="2.6" fill="#d8d8d8" opacity="0.55" filter="url(#b15)"/>
<circle cx="28.2" cy="35.6" r="2.6" fill="#4c4c4c" opacity="0.55" filter="url(#b15)"/>
<circle cx="46.9" cy="34.1" r="2.6" fill="#d8d8d8" opacity="0.55" filter="url(#b15)"/>
<circle cx="40.5" cy="38.8" r="2.6" fill="#4c4c4c" opacity="0.55" filter="url(#b15)"/>
<circle cx="45.2" cy="29.0" r="2.6" fill="#d8d8d8" opacity="0.55" filter="url(#b15)"/>
<circle cx="35.4" cy="27.3" r="2.6" fill="#4c4c4c" opacity="0.55" filter="url(#b15)"/>
<circle cx="26.6" cy="31.5" r="2.6" fill="#d8d8d8" opacity="0.55" filter="url(#b15)"/>
<path d="M16.2,21.7 C16.1,19.6 17.9,17.1 20.0,16.7 C22.1,16.3 25.7,17.9 28.8,19.2 C31.9,20.5 35.9,22.6 38.9,24.3 C41.9,26.0 44.7,27.2 46.5,29.3 C48.3,31.4 49.5,34.4 49.5,36.9 C49.5,39.4 48.7,42.9 46.5,44.5 C44.3,46.1 39.6,46.6 36.4,46.5 C33.2,46.4 29.6,45.6 27.5,44.0 C25.4,42.4 24.9,39.4 23.8,36.9 C22.7,34.4 22.0,31.8 20.7,29.3 C19.4,26.8 16.3,23.8 16.2,21.7Z" fill="none" stroke="#fff" stroke-width="1.3" stroke-dasharray="3.3,2"/>
<rect x="52.5" y="54.0" width="8.2" height="3" fill="#fff"/>
</g></g>
<clipPath id="cc40"><rect x="441.5" y="343.8" width="62.1" height="62.0"/></clipPath>
<g clip-path="url(#cc40)"><rect x="441.5" y="343.8" width="62.1" height="62.0" fill="#16161c"/>
<rect x="441.5" y="343.8" width="62.1" height="62.0" fill="#fff" filter="url(#nzW)" opacity="0.16"/>
<g transform="translate(441.5,343.8)">
<path d="M31.1,17.9 C32.4,15.8 34.9,12.1 37.4,10.4 C39.9,8.7 43.5,7.6 46.2,7.8 C48.9,8.0 52.1,9.5 53.8,11.6 C55.5,13.7 56.2,17.6 56.4,20.5 C56.6,23.4 56.4,27.0 55.1,29.3 C53.8,31.6 51.3,33.5 48.8,34.4 C46.3,35.2 42.6,35.2 39.9,34.4 C37.1,33.5 34.0,31.2 32.3,29.3 C30.6,27.4 30.0,24.9 29.8,23.0 C29.6,21.1 29.8,20.0 31.1,17.9Z" fill="#4a4af0" filter="url(#b15)"/>
<path d="M4.0,39.4 C4.7,37.9 5.7,35.8 8.3,34.4 C10.9,33.0 17.2,31.1 19.7,31.3 C22.2,31.5 23.3,33.4 23.5,35.6 C23.7,37.8 22.7,42.2 21.0,44.5 C19.3,46.8 15.7,48.9 13.4,49.5 C11.1,50.1 8.7,49.3 7.1,48.3 C5.5,47.2 4.5,44.7 4.0,43.2 C3.5,41.7 3.3,40.9 4.0,39.4Z" fill="#4a4af0" filter="url(#b15)"/>
<circle cx="45.6" cy="16.5" r="2.6" fill="#e8e8ff" opacity="0.6" filter="url(#b15)"/>
<circle cx="42.6" cy="28.8" r="2.6" fill="#2c2cd8" opacity="0.6" filter="url(#b15)"/>
<circle cx="36.1" cy="22.3" r="2.6" fill="#e8e8ff" opacity="0.6" filter="url(#b15)"/>
<circle cx="52.4" cy="25.4" r="2.6" fill="#2c2cd8" opacity="0.6" filter="url(#b15)"/>
<circle cx="50.7" cy="14.5" r="2.6" fill="#e8e8ff" opacity="0.6" filter="url(#b15)"/>
<circle cx="43.9" cy="24.5" r="2.6" fill="#2c2cd8" opacity="0.6" filter="url(#b15)"/>
<circle cx="38.7" cy="17.8" r="2.6" fill="#e8e8ff" opacity="0.6" filter="url(#b15)"/>
<circle cx="47.6" cy="10.8" r="2.6" fill="#2c2cd8" opacity="0.6" filter="url(#b15)"/>
<circle cx="40.4" cy="13.8" r="2.6" fill="#e8e8ff" opacity="0.6" filter="url(#b15)"/>
<circle cx="47.9" cy="30.7" r="2.6" fill="#2c2cd8" opacity="0.6" filter="url(#b15)"/>
<circle cx="53.7" cy="19.6" r="2.6" fill="#e8e8ff" opacity="0.6" filter="url(#b15)"/>
<circle cx="47.6" cy="20.2" r="2.6" fill="#2c2cd8" opacity="0.6" filter="url(#b15)"/>
<circle cx="48.2" cy="25.4" r="2.6" fill="#e8e8ff" opacity="0.6" filter="url(#b15)"/>
<circle cx="37.2" cy="27.0" r="2.6" fill="#2c2cd8" opacity="0.6" filter="url(#b15)"/>
<circle cx="15.2" cy="33.7" r="2.6" fill="#e8e8ff" opacity="0.6" filter="url(#b15)"/>
<circle cx="9.9" cy="37.9" r="2.6" fill="#2c2cd8" opacity="0.6" filter="url(#b15)"/>
<circle cx="18.5" cy="37.2" r="2.6" fill="#e8e8ff" opacity="0.6" filter="url(#b15)"/>
<circle cx="12.5" cy="45.3" r="2.6" fill="#2c2cd8" opacity="0.6" filter="url(#b15)"/>
<circle cx="13.9" cy="39.3" r="2.6" fill="#e8e8ff" opacity="0.6" filter="url(#b15)"/>
<circle cx="17.6" cy="42.6" r="2.6" fill="#2c2cd8" opacity="0.6" filter="url(#b15)"/>
<path d="M31.1,17.9 C32.4,15.8 34.9,12.1 37.4,10.4 C39.9,8.7 43.5,7.6 46.2,7.8 C48.9,8.0 52.1,9.5 53.8,11.6 C55.5,13.7 56.2,17.6 56.4,20.5 C56.6,23.4 56.4,27.0 55.1,29.3 C53.8,31.6 51.3,33.5 48.8,34.4 C46.3,35.2 42.6,35.2 39.9,34.4 C37.1,33.5 34.0,31.2 32.3,29.3 C30.6,27.4 30.0,24.9 29.8,23.0 C29.6,21.1 29.8,20.0 31.1,17.9Z" fill="none" stroke="#fff" stroke-width="1.3" stroke-dasharray="3.3,2"/>
<path d="M4.0,39.4 C4.7,37.9 5.7,35.8 8.3,34.4 C10.9,33.0 17.2,31.1 19.7,31.3 C22.2,31.5 23.3,33.4 23.5,35.6 C23.7,37.8 22.7,42.2 21.0,44.5 C19.3,46.8 15.7,48.9 13.4,49.5 C11.1,50.1 8.7,49.3 7.1,48.3 C5.5,47.2 4.5,44.7 4.0,43.2 C3.5,41.7 3.3,40.9 4.0,39.4Z" fill="none" stroke="#fff" stroke-width="1.3" stroke-dasharray="3.3,2"/>
<rect x="52.8" y="55.6" width="8.2" height="3" fill="#fff"/>
</g></g>
<clipPath id="cc41"><rect x="508.4" y="343.8" width="62.1" height="62.0"/></clipPath>
<g clip-path="url(#cc41)"><rect x="508.4" y="343.8" width="62.1" height="62.0" fill="#101016"/>
<rect x="508.4" y="343.8" width="62.1" height="62.0" fill="#fff" filter="url(#nzW)" opacity="0.16"/>
<g transform="translate(508.4,343.8)">
<path d="M15.9,29.3 C16.4,27.2 16.3,23.9 18.4,21.7 C20.5,19.5 25.0,17.0 28.6,16.2 C32.2,15.4 37.4,15.3 39.9,16.7 C42.4,18.1 43.1,21.4 43.7,24.3 C44.3,27.2 44.8,31.4 43.7,34.4 C42.7,37.4 40.1,40.2 37.4,42.0 C34.7,43.8 30.5,45.2 27.3,45.0 C24.1,44.8 20.4,42.5 18.4,40.7 C16.4,38.9 15.8,36.3 15.4,34.4 C15.0,32.5 15.4,31.4 15.9,29.3Z" fill="#5252f2" filter="url(#b15)"/>
<circle cx="35.7" cy="18.7" r="2.6" fill="#e8e8ff" opacity="0.6" filter="url(#b15)"/>
<circle cx="40.7" cy="23.7" r="2.6" fill="#2c2cd8" opacity="0.6" filter="url(#b15)"/>
<circle cx="32.9" cy="25.9" r="2.6" fill="#e8e8ff" opacity="0.6" filter="url(#b15)"/>
<circle cx="23.9" cy="22.3" r="2.6" fill="#2c2cd8" opacity="0.6" filter="url(#b15)"/>
<circle cx="31.3" cy="21.9" r="2.6" fill="#e8e8ff" opacity="0.6" filter="url(#b15)"/>
<circle cx="39.8" cy="34.0" r="2.6" fill="#2c2cd8" opacity="0.6" filter="url(#b15)"/>
<circle cx="30.3" cy="38.8" r="2.6" fill="#e8e8ff" opacity="0.6" filter="url(#b15)"/>
<circle cx="41.4" cy="28.1" r="2.6" fill="#2c2cd8" opacity="0.6" filter="url(#b15)"/>
<circle cx="24.3" cy="37.6" r="2.6" fill="#e8e8ff" opacity="0.6" filter="url(#b15)"/>
<circle cx="33.8" cy="33.1" r="2.6" fill="#2c2cd8" opacity="0.6" filter="url(#b15)"/>
<circle cx="24.1" cy="32.5" r="2.6" fill="#e8e8ff" opacity="0.6" filter="url(#b15)"/>
<circle cx="28.1" cy="31.0" r="2.6" fill="#2c2cd8" opacity="0.6" filter="url(#b15)"/>
<circle cx="20.0" cy="29.3" r="2.6" fill="#e8e8ff" opacity="0.6" filter="url(#b15)"/>
<circle cx="34.8" cy="39.0" r="2.6" fill="#2c2cd8" opacity="0.6" filter="url(#b15)"/>
<circle cx="25.9" cy="27.4" r="2.6" fill="#e8e8ff" opacity="0.6" filter="url(#b15)"/>
<circle cx="36.7" cy="29.6" r="2.6" fill="#2c2cd8" opacity="0.6" filter="url(#b15)"/>
<path d="M15.9,29.3 C16.4,27.2 16.3,23.9 18.4,21.7 C20.5,19.5 25.0,17.0 28.6,16.2 C32.2,15.4 37.4,15.3 39.9,16.7 C42.4,18.1 43.1,21.4 43.7,24.3 C44.3,27.2 44.8,31.4 43.7,34.4 C42.7,37.4 40.1,40.2 37.4,42.0 C34.7,43.8 30.5,45.2 27.3,45.0 C24.1,44.8 20.4,42.5 18.4,40.7 C16.4,38.9 15.8,36.3 15.4,34.4 C15.0,32.5 15.4,31.4 15.9,29.3Z" fill="none" stroke="#fff" stroke-width="1.3" stroke-dasharray="3.3,2"/>
<rect x="52.0" y="54.0" width="8.2" height="3" fill="#fff"/>
</g></g>
<clipPath id="cc42"><rect x="575.2" y="343.8" width="62.1" height="62.0"/></clipPath>
<g clip-path="url(#cc42)"><rect x="575.2" y="343.8" width="62.1" height="62.0" fill="#040408"/>
<rect x="575.2" y="343.8" width="62.1" height="62.0" fill="#fff" filter="url(#nzW)" opacity="0.04"/>
<g transform="translate(575.2,343.8)">
<path d="M8.6,26.8 C10.1,24.5 13.4,22.4 17.4,20.5 C21.4,18.6 28.4,15.7 32.6,15.4 C36.8,15.1 39.7,16.9 42.7,18.6 C45.7,20.3 48.9,22.9 50.8,25.4 C52.7,27.9 54.6,31.6 54.3,33.6 C54.0,35.6 50.9,36.5 49.0,37.6 C47.1,38.7 44.3,38.8 43.2,40.4 C42.1,42.0 43.6,45.0 42.2,47.4 C40.9,49.8 38.2,53.1 35.1,54.8 C32.0,56.5 27.2,57.9 23.8,57.6 C20.4,57.4 17.0,55.9 14.9,53.3 C12.8,50.7 12.2,45.1 11.1,42.0 C10.0,38.9 9.0,36.9 8.6,34.4 C8.2,31.9 7.1,29.1 8.6,26.8Z" fill="#a0a0f8" filter="url(#b15)"/>
<circle cx="38.8" cy="29.4" r="2.6" fill="#e8e8ff" opacity="0.6" filter="url(#b15)"/>
<circle cx="28.4" cy="31.1" r="2.6" fill="#2c2cd8" opacity="0.6" filter="url(#b15)"/>
<circle cx="19.5" cy="25.5" r="2.6" fill="#e8e8ff" opacity="0.6" filter="url(#b15)"/>
<circle cx="27.4" cy="51.7" r="2.6" fill="#2c2cd8" opacity="0.6" filter="url(#b15)"/>
<circle cx="20.8" cy="33.9" r="2.6" fill="#e8e8ff" opacity="0.6" filter="url(#b15)"/>
<circle cx="34.4" cy="46.2" r="2.6" fill="#2c2cd8" opacity="0.6" filter="url(#b15)"/>
<circle cx="15.9" cy="33.9" r="2.6" fill="#e8e8ff" opacity="0.6" filter="url(#b15)"/>
<circle cx="34.0" cy="21.2" r="2.6" fill="#2c2cd8" opacity="0.6" filter="url(#b15)"/>
<circle cx="25.1" cy="22.4" r="2.6" fill="#e8e8ff" opacity="0.6" filter="url(#b15)"/>
<circle cx="43.6" cy="32.8" r="2.6" fill="#2c2cd8" opacity="0.6" filter="url(#b15)"/>
<circle cx="19.1" cy="41.3" r="2.6" fill="#e8e8ff" opacity="0.6" filter="url(#b15)"/>
<circle cx="39.0" cy="34.0" r="2.6" fill="#2c2cd8" opacity="0.6" filter="url(#b15)"/>
<circle cx="28.6" cy="45.7" r="2.6" fill="#e8e8ff" opacity="0.6" filter="url(#b15)"/>
<circle cx="29.3" cy="24.0" r="2.6" fill="#2c2cd8" opacity="0.6" filter="url(#b15)"/>
<circle cx="24.4" cy="40.9" r="2.6" fill="#e8e8ff" opacity="0.6" filter="url(#b15)"/>
<circle cx="38.9" cy="25.0" r="2.6" fill="#2c2cd8" opacity="0.6" filter="url(#b15)"/>
<circle cx="33.5" cy="41.4" r="2.6" fill="#e8e8ff" opacity="0.6" filter="url(#b15)"/>
<circle cx="20.4" cy="45.7" r="2.6" fill="#2c2cd8" opacity="0.6" filter="url(#b15)"/>
<circle cx="48.2" cy="29.4" r="2.6" fill="#e8e8ff" opacity="0.6" filter="url(#b15)"/>
<circle cx="32.6" cy="35.4" r="2.6" fill="#2c2cd8" opacity="0.6" filter="url(#b15)"/>
<circle cx="39.2" cy="41.2" r="2.6" fill="#e8e8ff" opacity="0.6" filter="url(#b15)"/>
<circle cx="25.2" cy="27.8" r="2.6" fill="#2c2cd8" opacity="0.6" filter="url(#b15)"/>
<circle cx="29.4" cy="39.2" r="2.6" fill="#e8e8ff" opacity="0.6" filter="url(#b15)"/>
<circle cx="45.4" cy="24.2" r="2.6" fill="#2c2cd8" opacity="0.6" filter="url(#b15)"/>
<circle cx="14.9" cy="28.1" r="2.6" fill="#e8e8ff" opacity="0.6" filter="url(#b15)"/>
<circle cx="47.7" cy="34.6" r="2.6" fill="#2c2cd8" opacity="0.6" filter="url(#b15)"/>
<circle cx="38.8" cy="20.4" r="2.6" fill="#e8e8ff" opacity="0.6" filter="url(#b15)"/>
<circle cx="42.7" cy="37.8" r="2.6" fill="#2c2cd8" opacity="0.6" filter="url(#b15)"/>
<circle cx="34.5" cy="30.7" r="2.6" fill="#e8e8ff" opacity="0.6" filter="url(#b15)"/>
<circle cx="26.6" cy="35.5" r="2.6" fill="#2c2cd8" opacity="0.6" filter="url(#b15)"/>
<circle cx="32.3" cy="50.9" r="2.6" fill="#e8e8ff" opacity="0.6" filter="url(#b15)"/>
<circle cx="21.6" cy="49.8" r="2.6" fill="#2c2cd8" opacity="0.6" filter="url(#b15)"/>
<circle cx="39.1" cy="45.7" r="2.6" fill="#e8e8ff" opacity="0.6" filter="url(#b15)"/>
<circle cx="34.7" cy="26.0" r="2.6" fill="#2c2cd8" opacity="0.6" filter="url(#b15)"/>
<path d="M8.6,26.8 C10.1,24.5 13.4,22.4 17.4,20.5 C21.4,18.6 28.4,15.7 32.6,15.4 C36.8,15.1 39.7,16.9 42.7,18.6 C45.7,20.3 48.9,22.9 50.8,25.4 C52.7,27.9 54.6,31.6 54.3,33.6 C54.0,35.6 50.9,36.5 49.0,37.6 C47.1,38.7 44.3,38.8 43.2,40.4 C42.1,42.0 43.6,45.0 42.2,47.4 C40.9,49.8 38.2,53.1 35.1,54.8 C32.0,56.5 27.2,57.9 23.8,57.6 C20.4,57.4 17.0,55.9 14.9,53.3 C12.8,50.7 12.2,45.1 11.1,42.0 C10.0,38.9 9.0,36.9 8.6,34.4 C8.2,31.9 7.1,29.1 8.6,26.8Z" fill="none" stroke="#fff" stroke-width="1.3" stroke-dasharray="3.3,2"/>
<rect x="52.8" y="52.0" width="8.2" height="3" fill="#fff"/>
</g></g>
<clipPath id="cc43"><rect x="643.0" y="343.8" width="62.1" height="62.0"/></clipPath>
<g clip-path="url(#cc43)"><rect x="643.0" y="343.8" width="62.1" height="62.0" fill="#020206"/>
<rect x="643.0" y="343.8" width="62.1" height="62.0" fill="#fff" filter="url(#nzW)" opacity="0.03"/>
<g transform="translate(643.0,343.8)">
<path d="M26.0,14.2 C26.6,11.9 28.2,7.5 31.1,5.3 C34.1,3.1 39.5,1.2 43.7,1.0 C47.9,0.8 53.5,1.8 56.4,4.0 C59.3,6.2 61.0,10.8 61.4,14.2 C61.8,17.6 60.6,21.7 58.9,24.3 C57.2,26.9 54.0,28.9 51.3,29.8 C48.6,30.7 45.5,30.5 42.5,29.8 C39.5,29.1 36.1,27.3 33.6,25.5 C31.1,23.7 28.6,21.1 27.3,19.2 C26.0,17.3 25.4,16.5 26.0,14.2Z" fill="#9a9af8" filter="url(#b15)"/>
<path d="M0.0,31.8 C0.2,28.0 2.1,23.9 4.5,21.7 C6.9,19.5 11.5,18.3 14.7,18.7 C17.9,19.1 21.2,21.7 23.5,24.3 C25.8,26.9 27.5,30.6 28.6,34.4 C29.7,38.2 30.5,43.2 30.3,47.0 C30.1,50.8 29.1,54.9 27.3,57.1 C25.5,59.3 22.4,60.5 19.7,60.1 C17.0,59.7 13.6,57.2 10.9,54.6 C8.2,52.0 5.1,48.3 3.3,44.5 C1.5,40.7 -0.2,35.6 0.0,31.8Z" fill="#9a9af8" filter="url(#b15)"/>
<circle cx="39.3" cy="23.7" r="2.6" fill="#e8e8ff" opacity="0.6" filter="url(#b15)"/>
<circle cx="53.5" cy="20.7" r="2.6" fill="#2c2cd8" opacity="0.6" filter="url(#b15)"/>
<circle cx="42.9" cy="5.6" r="2.6" fill="#e8e8ff" opacity="0.6" filter="url(#b15)"/>
<circle cx="33.9" cy="17.5" r="2.6" fill="#2c2cd8" opacity="0.6" filter="url(#b15)"/>
<circle cx="42.9" cy="11.3" r="2.6" fill="#e8e8ff" opacity="0.6" filter="url(#b15)"/>
<circle cx="36.5" cy="6.7" r="2.6" fill="#2c2cd8" opacity="0.6" filter="url(#b15)"/>
<circle cx="52.5" cy="5.0" r="2.6" fill="#e8e8ff" opacity="0.6" filter="url(#b15)"/>
<circle cx="47.9" cy="13.0" r="2.6" fill="#2c2cd8" opacity="0.6" filter="url(#b15)"/>
<circle cx="55.3" cy="14.8" r="2.6" fill="#e8e8ff" opacity="0.6" filter="url(#b15)"/>
<circle cx="42.2" cy="19.3" r="2.6" fill="#2c2cd8" opacity="0.6" filter="url(#b15)"/>
<circle cx="47.7" cy="21.0" r="2.6" fill="#e8e8ff" opacity="0.6" filter="url(#b15)"/>
<circle cx="47.8" cy="26.1" r="2.6" fill="#2c2cd8" opacity="0.6" filter="url(#b15)"/>
<circle cx="43.7" cy="24.9" r="2.6" fill="#e8e8ff" opacity="0.6" filter="url(#b15)"/>
<circle cx="47.1" cy="5.9" r="2.6" fill="#2c2cd8" opacity="0.6" filter="url(#b15)"/>
<circle cx="57.5" cy="18.7" r="2.6" fill="#e8e8ff" opacity="0.6" filter="url(#b15)"/>
<circle cx="35.4" cy="11.5" r="2.6" fill="#2c2cd8" opacity="0.6" filter="url(#b15)"/>
<circle cx="56.1" cy="8.4" r="2.6" fill="#e8e8ff" opacity="0.6" filter="url(#b15)"/>
<circle cx="52.1" cy="11.4" r="2.6" fill="#2c2cd8" opacity="0.6" filter="url(#b15)"/>
<circle cx="50.9" cy="16.1" r="2.6" fill="#e8e8ff" opacity="0.6" filter="url(#b15)"/>
<circle cx="15.5" cy="41.5" r="2.6" fill="#2c2cd8" opacity="0.6" filter="url(#b15)"/>
<circle cx="8.9" cy="40.8" r="2.6" fill="#e8e8ff" opacity="0.6" filter="url(#b15)"/>
<circle cx="20.5" cy="43.9" r="2.6" fill="#2c2cd8" opacity="0.6" filter="url(#b15)"/>
<circle cx="27.0" cy="37.2" r="2.6" fill="#e8e8ff" opacity="0.6" filter="url(#b15)"/>
<circle cx="23.1" cy="47.9" r="2.6" fill="#2c2cd8" opacity="0.6" filter="url(#b15)"/>
<circle cx="21.8" cy="29.6" r="2.6" fill="#e8e8ff" opacity="0.6" filter="url(#b15)"/>
<circle cx="18.0" cy="51.2" r="2.6" fill="#2c2cd8" opacity="0.6" filter="url(#b15)"/>
<circle cx="12.7" cy="25.1" r="2.6" fill="#e8e8ff" opacity="0.6" filter="url(#b15)"/>
<circle cx="17.3" cy="30.1" r="2.6" fill="#2c2cd8" opacity="0.6" filter="url(#b15)"/>
<circle cx="13.4" cy="49.0" r="2.6" fill="#e8e8ff" opacity="0.6" filter="url(#b15)"/>
<circle cx="17.2" cy="35.3" r="2.6" fill="#2c2cd8" opacity="0.6" filter="url(#b15)"/>
<circle cx="17.2" cy="23.4" r="2.6" fill="#e8e8ff" opacity="0.6" filter="url(#b15)"/>
<circle cx="9.1" cy="27.7" r="2.6" fill="#2c2cd8" opacity="0.6" filter="url(#b15)"/>
<circle cx="12.8" cy="34.8" r="2.6" fill="#e8e8ff" opacity="0.6" filter="url(#b15)"/>
<circle cx="25.7" cy="52.6" r="2.6" fill="#2c2cd8" opacity="0.6" filter="url(#b15)"/>
<circle cx="27.1" cy="45.4" r="2.6" fill="#e8e8ff" opacity="0.6" filter="url(#b15)"/>
<circle cx="21.1" cy="38.6" r="2.6" fill="#2c2cd8" opacity="0.6" filter="url(#b15)"/>
<circle cx="13.0" cy="30.0" r="2.6" fill="#e8e8ff" opacity="0.6" filter="url(#b15)"/>
<circle cx="8.7" cy="33.5" r="2.6" fill="#2c2cd8" opacity="0.6" filter="url(#b15)"/>
<circle cx="21.6" cy="53.9" r="2.6" fill="#e8e8ff" opacity="0.6" filter="url(#b15)"/>
<circle cx="21.3" cy="34.0" r="2.6" fill="#2c2cd8" opacity="0.6" filter="url(#b15)"/>
<circle cx="25.4" cy="41.4" r="2.6" fill="#e8e8ff" opacity="0.6" filter="url(#b15)"/>
<circle cx="26.1" cy="31.8" r="2.6" fill="#2c2cd8" opacity="0.6" filter="url(#b15)"/>
<path d="M26.0,14.2 C26.6,11.9 28.2,7.5 31.1,5.3 C34.1,3.1 39.5,1.2 43.7,1.0 C47.9,0.8 53.5,1.8 56.4,4.0 C59.3,6.2 61.0,10.8 61.4,14.2 C61.8,17.6 60.6,21.7 58.9,24.3 C57.2,26.9 54.0,28.9 51.3,29.8 C48.6,30.7 45.5,30.5 42.5,29.8 C39.5,29.1 36.1,27.3 33.6,25.5 C31.1,23.7 28.6,21.1 27.3,19.2 C26.0,17.3 25.4,16.5 26.0,14.2Z" fill="none" stroke="#fff" stroke-width="1.3" stroke-dasharray="3.3,2"/>
<path d="M0.0,31.8 C0.2,28.0 2.1,23.9 4.5,21.7 C6.9,19.5 11.5,18.3 14.7,18.7 C17.9,19.1 21.2,21.7 23.5,24.3 C25.8,26.9 27.5,30.6 28.6,34.4 C29.7,38.2 30.5,43.2 30.3,47.0 C30.1,50.8 29.1,54.9 27.3,57.1 C25.5,59.3 22.4,60.5 19.7,60.1 C17.0,59.7 13.6,57.2 10.9,54.6 C8.2,52.0 5.1,48.3 3.3,44.5 C1.5,40.7 -0.2,35.6 0.0,31.8Z" fill="none" stroke="#fff" stroke-width="1.3" stroke-dasharray="3.3,2"/>
<rect x="51.8" y="52.0" width="8.2" height="3" fill="#fff"/>
</g></g>
<clipPath id="cc44"><rect x="709.0" y="343.8" width="62.1" height="62.0"/></clipPath>
<g clip-path="url(#cc44)"><rect x="709.0" y="343.8" width="62.1" height="62.0" fill="#1c1c22"/>
<rect x="709.0" y="343.8" width="62.1" height="62.0" fill="#fff" filter="url(#nzW)" opacity="0.14"/>
<g transform="translate(709.0,343.8)">
<path d="M15.7,36.9 C16.5,34.2 17.6,30.2 19.5,26.8 C21.4,23.4 24.3,19.1 27.0,16.7 C29.7,14.2 32.9,12.6 35.9,12.1 C38.9,11.6 43.0,12.0 44.7,13.6 C46.4,15.2 46.2,18.2 46.0,21.7 C45.8,25.2 44.8,30.4 43.5,34.4 C42.2,38.4 40.9,42.8 38.4,45.7 C35.9,48.7 31.4,51.5 28.3,52.1 C25.2,52.7 21.7,51.0 19.5,49.5 C17.3,48.0 15.5,45.3 14.9,43.2 C14.3,41.1 14.9,39.6 15.7,36.9Z" fill="#7272ee" filter="url(#b15)"/>
<circle cx="34.3" cy="18.4" r="2.6" fill="#e8e8ff" opacity="0.6" filter="url(#b15)"/>
<circle cx="36.8" cy="37.0" r="2.6" fill="#2c2cd8" opacity="0.6" filter="url(#b15)"/>
<circle cx="26.6" cy="37.6" r="2.6" fill="#e8e8ff" opacity="0.6" filter="url(#b15)"/>
<circle cx="38.5" cy="29.5" r="2.6" fill="#2c2cd8" opacity="0.6" filter="url(#b15)"/>
<circle cx="25.0" cy="27.9" r="2.6" fill="#e8e8ff" opacity="0.6" filter="url(#b15)"/>
<circle cx="38.6" cy="20.2" r="2.6" fill="#2c2cd8" opacity="0.6" filter="url(#b15)"/>
<circle cx="24.7" cy="42.0" r="2.6" fill="#e8e8ff" opacity="0.6" filter="url(#b15)"/>
<circle cx="31.5" cy="45.9" r="2.6" fill="#2c2cd8" opacity="0.6" filter="url(#b15)"/>
<circle cx="31.4" cy="37.7" r="2.6" fill="#e8e8ff" opacity="0.6" filter="url(#b15)"/>
<circle cx="34.1" cy="31.5" r="2.6" fill="#2c2cd8" opacity="0.6" filter="url(#b15)"/>
<circle cx="28.3" cy="33.2" r="2.6" fill="#e8e8ff" opacity="0.6" filter="url(#b15)"/>
<circle cx="42.3" cy="32.8" r="2.6" fill="#2c2cd8" opacity="0.6" filter="url(#b15)"/>
<circle cx="37.2" cy="24.7" r="2.6" fill="#e8e8ff" opacity="0.6" filter="url(#b15)"/>
<circle cx="29.9" cy="27.8" r="2.6" fill="#2c2cd8" opacity="0.6" filter="url(#b15)"/>
<circle cx="20.9" cy="38.4" r="2.6" fill="#e8e8ff" opacity="0.6" filter="url(#b15)"/>
<circle cx="27.2" cy="22.5" r="2.6" fill="#2c2cd8" opacity="0.6" filter="url(#b15)"/>
<circle cx="42.6" cy="26.2" r="2.6" fill="#e8e8ff" opacity="0.6" filter="url(#b15)"/>
<circle cx="37.9" cy="15.6" r="2.6" fill="#2c2cd8" opacity="0.6" filter="url(#b15)"/>
<circle cx="43.1" cy="18.6" r="2.6" fill="#e8e8ff" opacity="0.6" filter="url(#b15)"/>
<circle cx="35.0" cy="42.5" r="2.6" fill="#2c2cd8" opacity="0.6" filter="url(#b15)"/>
<circle cx="31.7" cy="22.9" r="2.6" fill="#e8e8ff" opacity="0.6" filter="url(#b15)"/>
<circle cx="22.0" cy="33.8" r="2.6" fill="#2c2cd8" opacity="0.6" filter="url(#b15)"/>
<path d="M15.7,36.9 C16.5,34.2 17.6,30.2 19.5,26.8 C21.4,23.4 24.3,19.1 27.0,16.7 C29.7,14.2 32.9,12.6 35.9,12.1 C38.9,11.6 43.0,12.0 44.7,13.6 C46.4,15.2 46.2,18.2 46.0,21.7 C45.8,25.2 44.8,30.4 43.5,34.4 C42.2,38.4 40.9,42.8 38.4,45.7 C35.9,48.7 31.4,51.5 28.3,52.1 C25.2,52.7 21.7,51.0 19.5,49.5 C17.3,48.0 15.5,45.3 14.9,43.2 C14.3,41.1 14.9,39.6 15.7,36.9Z" fill="none" stroke="#fff" stroke-width="1.3" stroke-dasharray="3.3,2"/>
<rect x="52.3" y="54.0" width="8.2" height="3" fill="#fff"/>
</g></g>
<clipPath id="cc45"><rect x="775.6" y="343.8" width="62.1" height="62.0"/></clipPath>
<g clip-path="url(#cc45)"><rect x="775.6" y="343.8" width="62.1" height="62.0" fill="#1e1e24"/>
<rect x="775.6" y="343.8" width="62.1" height="62.0" fill="#fff" filter="url(#nzW)" opacity="0.16"/>
<g transform="translate(775.6,343.8)">
<path d="M16.2,21.7 C16.1,19.6 17.9,17.1 20.0,16.7 C22.1,16.3 25.7,17.9 28.8,19.2 C31.9,20.5 35.9,22.6 38.9,24.3 C41.9,26.0 44.7,27.2 46.5,29.3 C48.3,31.4 49.5,34.4 49.5,36.9 C49.5,39.4 48.7,42.9 46.5,44.5 C44.3,46.1 39.6,46.6 36.4,46.5 C33.2,46.4 29.6,45.6 27.5,44.0 C25.4,42.4 24.9,39.4 23.8,36.9 C22.7,34.4 22.0,31.8 20.7,29.3 C19.4,26.8 16.3,23.8 16.2,21.7Z" fill="#6a6ae8" filter="url(#b15)"/>
<circle cx="40.1" cy="28.8" r="2.6" fill="#e8e8ff" opacity="0.6" filter="url(#b15)"/>
<circle cx="31.6" cy="29.6" r="2.6" fill="#2c2cd8" opacity="0.6" filter="url(#b15)"/>
<circle cx="27.0" cy="20.9" r="2.6" fill="#e8e8ff" opacity="0.6" filter="url(#b15)"/>
<circle cx="35.2" cy="32.5" r="2.6" fill="#2c2cd8" opacity="0.6" filter="url(#b15)"/>
<circle cx="33.9" cy="38.4" r="2.6" fill="#e8e8ff" opacity="0.6" filter="url(#b15)"/>
<circle cx="44.7" cy="39.4" r="2.6" fill="#2c2cd8" opacity="0.6" filter="url(#b15)"/>
<circle cx="33.8" cy="22.2" r="2.6" fill="#e8e8ff" opacity="0.6" filter="url(#b15)"/>
<circle cx="21.8" cy="22.9" r="2.6" fill="#2c2cd8" opacity="0.6" filter="url(#b15)"/>
<circle cx="42.2" cy="32.8" r="2.6" fill="#e8e8ff" opacity="0.6" filter="url(#b15)"/>
<circle cx="28.2" cy="35.6" r="2.6" fill="#2c2cd8" opacity="0.6" filter="url(#b15)"/>
<circle cx="46.9" cy="34.1" r="2.6" fill="#e8e8ff" opacity="0.6" filter="url(#b15)"/>
<circle cx="40.5" cy="38.8" r="2.6" fill="#2c2cd8" opacity="0.6" filter="url(#b15)"/>
<circle cx="45.2" cy="29.0" r="2.6" fill="#e8e8ff" opacity="0.6" filter="url(#b15)"/>
<circle cx="35.4" cy="27.3" r="2.6" fill="#2c2cd8" opacity="0.6" filter="url(#b15)"/>
<circle cx="26.6" cy="31.5" r="2.6" fill="#e8e8ff" opacity="0.6" filter="url(#b15)"/>
<path d="M16.2,21.7 C16.1,19.6 17.9,17.1 20.0,16.7 C22.1,16.3 25.7,17.9 28.8,19.2 C31.9,20.5 35.9,22.6 38.9,24.3 C41.9,26.0 44.7,27.2 46.5,29.3 C48.3,31.4 49.5,34.4 49.5,36.9 C49.5,39.4 48.7,42.9 46.5,44.5 C44.3,46.1 39.6,46.6 36.4,46.5 C33.2,46.4 29.6,45.6 27.5,44.0 C25.4,42.4 24.9,39.4 23.8,36.9 C22.7,34.4 22.0,31.8 20.7,29.3 C19.4,26.8 16.3,23.8 16.2,21.7Z" fill="none" stroke="#fff" stroke-width="1.3" stroke-dasharray="3.3,2"/>
<rect x="52.5" y="54.0" width="8.2" height="3" fill="#fff"/>
</g></g>
<rect x="441.5" y="410.0" width="62.1" height="62.0" fill="url(#gr0)"/>
<rect x="508.4" y="410.0" width="62.1" height="62.0" fill="url(#gr1)"/>
<rect x="575.2" y="410.0" width="62.1" height="62.0" fill="url(#gr2)"/>
<rect x="643.0" y="410.0" width="62.1" height="62.0" fill="url(#gr3)"/>
<rect x="709.0" y="410.0" width="62.1" height="62.0" fill="url(#gr4)"/>
<rect x="775.6" y="410.0" width="62.1" height="62.0" fill="url(#gr5)"/>
<rect x="807.5" y="466.5" width="29.2" height="3" fill="#fff"/>
<rect x="848" y="79.4" width="62.2" height="62.0" fill="url(#gavg0)"/>
<rect x="848" y="145.0" width="62.2" height="62.0" fill="url(#gavg1)"/>
<rect x="848" y="210.6" width="62.2" height="62.0" fill="url(#gavg2)"/>
<rect x="879.6" y="265.4" width="29" height="3" fill="#fff"/>
<ellipse cx="508.4" cy="266" rx="5" ry="9" fill="#1a1ae0" filter="url(#b1)" clip-path="url(#cc21)"/>
<ellipse cx="508.4" cy="399" rx="5" ry="9" fill="#2a2ae8" filter="url(#b1)" clip-path="url(#cc41)"/>
<ellipse cx="775.6" cy="149" rx="3.5" ry="6" fill="#e01818" filter="url(#b1)" clip-path="url(#cc15)"/>
<ellipse cx="775.6" cy="214" rx="3.5" ry="6" fill="#1a1ae0" filter="url(#b1)" clip-path="url(#cc25)"/>
<ellipse cx="775.6" cy="348" rx="3.5" ry="7" fill="#8a8af0" filter="url(#b1)" clip-path="url(#cc45)"/>
<circle cx="876.2" cy="440.8" r="31.3" fill="#0ea1e4"/><circle cx="876.2" cy="440.8" r="16" fill="#ef4a60"/><circle cx="876.2" cy="440.8" r="8.6" fill="#0dc42c"/>
<path d="M876.2,440 V416" stroke="#fff" stroke-width="1.5"/><path d="M876.2,411.5 L873.2,418.5 L879.2,418.5 Z" fill="#fff"/>
<text x="878.6" y="431" style="fill:#fff;font-weight:bold;font-size:10.5px;letter-spacing:0">RNA</text>
<path d="M855.5,426 C859,426.5 860,423 861,419.5 C862,416 866.5,415.2 867.8,418.5 L869,428.5 M861.6,418.8 H867.6 M861,421.6 H868 M860.4,424.4 H868.4" stroke="#fff" stroke-width="0.8" fill="none"/>
<!-- pd -->
<text class="pl" x="942" y="12.6">d</text>
<text class="n" x="1000.7" y="14.6" text-anchor="middle">0</text>
<text class="n" x="1022.5" y="14.6" text-anchor="middle">30</text>
<text class="n" x="1053.6" y="14.6" text-anchor="middle">45</text>
<text class="n" x="1068.7" y="14.6" text-anchor="middle">60</text>
<text class="n" x="1087.6" y="14.6" text-anchor="middle">120</text>
<text x="1147" y="16.6">Time (min)</text>
<linearGradient id="gdb" x1="0" x2="1"><stop offset="0" stop-color="#04f010"/><stop offset="0.06" stop-color="#1cec10"/><stop offset="0.11" stop-color="#7ab010"/><stop offset="0.16" stop-color="#d04814"/><stop offset="0.21" stop-color="#fa0a24"/><stop offset="0.28" stop-color="#f40650"/><stop offset="0.34" stop-color="#d806a0"/><stop offset="0.42" stop-color="#8c06e0"/><stop offset="0.52" stop-color="#3a06fa"/><stop offset="0.65" stop-color="#1206fa"/><stop offset="0.82" stop-color="#0808d4"/><stop offset="1" stop-color="#0606a4"/></linearGradient>
<rect x="999.8" y="21.2" width="145.2" height="13.9" fill="url(#gdb)"/>
<path d="M1000.05,21 V35.6" stroke="#000" stroke-width="0.6"/>
<path d="M1000.7,19.6 V21.4" stroke="#555" stroke-width="0.6"/>
<path d="M1022.5,19.6 V21.4" stroke="#555" stroke-width="0.6"/>
<path d="M1053.6,19.6 V21.4" stroke="#555" stroke-width="0.6"/>
<path d="M1068.7,19.6 V21.4" stroke="#555" stroke-width="0.6"/>
<path d="M1087.6,19.6 V21.4" stroke="#555" stroke-width="0.6"/>
<text x="974.5" y="32.6">5eU</text>
<text x="1002.5" y="31.9" style="fill:#fff">FC</text>
<text x="1025.7" y="31.9" style="fill:#fff">DFC</text>
<text x="1093.7" y="31.9" style="fill:#fff">GC</text>
<path d="M1000.1,35.1 V37.4" stroke="#555" stroke-width="0.7"/>
<text class="n" x="1000.1" y="48.8" text-anchor="middle">0</text>
<path d="M1029.0,35.1 V37.4" stroke="#555" stroke-width="0.7"/>
<text class="n" x="1029.0" y="48.8" text-anchor="middle">0.2</text>
<path d="M1058.0,35.1 V37.4" stroke="#555" stroke-width="0.7"/>
<text class="n" x="1058.0" y="48.8" text-anchor="middle">0.4</text>
<path d="M1087.0,35.1 V37.4" stroke="#555" stroke-width="0.7"/>
<text class="n" x="1087.0" y="48.8" text-anchor="middle">0.6</text>
<path d="M1115.9,35.1 V37.4" stroke="#555" stroke-width="0.7"/>
<text class="n" x="1115.9" y="48.8" text-anchor="middle">0.8</text>
<path d="M1144.9,35.1 V37.4" stroke="#555" stroke-width="0.7"/>
<text class="n" x="1144.9" y="48.8" text-anchor="middle">1.0</text>
<text x="1155.5" y="48.8">µm</text>
<rect x="992.8" y="53.5" width="159.4000000000001" height="158.9" fill="#fff" stroke="#000" stroke-width="1"/>
<path d="M988.1999999999999,204.4 H992.8" stroke="#000" stroke-width="0.7"/>
<text class="n" x="981.4" y="208.3" text-anchor="end">0</text>
<path d="M1000.1,212.4 V217.0" stroke="#000" stroke-width="0.7"/>
<text class="n" x="1000.1" y="232.5" text-anchor="middle">0</text>
<path d="M988.1999999999999,175.7 H992.8" stroke="#000" stroke-width="0.7"/>
<text class="n" x="981.4" y="179.6" text-anchor="end">0.2</text>
<path d="M1029.0,212.4 V217.0" stroke="#000" stroke-width="0.7"/>
<text class="n" x="1029.0" y="232.5" text-anchor="middle">0.2</text>
<path d="M988.1999999999999,147.1 H992.8" stroke="#000" stroke-width="0.7"/>
<text class="n" x="981.4" y="151.0" text-anchor="end">0.4</text>
<path d="M1058.0,212.4 V217.0" stroke="#000" stroke-width="0.7"/>
<text class="n" x="1058.0" y="232.5" text-anchor="middle">0.4</text>
<path d="M988.1999999999999,118.4 H992.8" stroke="#000" stroke-width="0.7"/>
<text class="n" x="981.4" y="122.3" text-anchor="end">0.6</text>
<path d="M1087.0,212.4 V217.0" stroke="#000" stroke-width="0.7"/>
<text class="n" x="1087.0" y="232.5" text-anchor="middle">0.6</text>
<path d="M988.1999999999999,89.8 H992.8" stroke="#000" stroke-width="0.7"/>
<text class="n" x="981.4" y="93.7" text-anchor="end">0.8</text>
<path d="M1115.9,212.4 V217.0" stroke="#000" stroke-width="0.7"/>
<text class="n" x="1115.9" y="232.5" text-anchor="middle">0.8</text>
<path d="M988.1999999999999,61.1 H992.8" stroke="#000" stroke-width="0.7"/>
<text class="n" x="981.4" y="65.0" text-anchor="end">1.0</text>
<path d="M1144.9,212.4 V217.0" stroke="#000" stroke-width="0.7"/>
<text class="n" x="1144.9" y="232.5" text-anchor="middle">1.0</text>
<text x="1070.6" y="249.5" text-anchor="middle" textLength="151" lengthAdjust="spacing">Distance from FC centre (µm)</text>
<text transform="translate(951.6,133.2) rotate(-90)" text-anchor="middle" textLength="146" lengthAdjust="spacing" xml:space="preserve">Normalized  protein intensity</text>
<path d="M1000.08,204.40 C1001.00,203.73 1003.80,202.66 1005.58,200.39 C1007.37,198.12 1008.82,194.61 1010.80,190.79 C1012.77,186.97 1015.62,181.90 1017.46,177.46 C1019.29,173.02 1020.21,169.32 1021.80,164.13 C1023.39,158.95 1025.15,152.79 1027.01,146.36 C1028.87,139.94 1030.97,132.27 1032.95,125.58 C1034.93,118.90 1036.91,112.16 1038.89,106.24 C1040.87,100.32 1042.96,94.49 1044.82,90.05 C1046.68,85.60 1048.18,82.93 1050.04,79.59 C1051.89,76.24 1054.11,72.33 1055.97,69.98 C1057.83,67.64 1059.33,66.90 1061.19,65.54 C1063.04,64.18 1065.14,62.56 1067.12,61.82 C1069.10,61.08 1071.08,60.98 1073.06,61.10 C1075.04,61.22 1076.78,61.67 1079.00,62.53 C1081.22,63.39 1083.92,64.78 1086.38,66.26 C1088.84,67.74 1091.06,69.32 1093.77,71.42 C1096.47,73.52 1099.63,76.39 1102.60,78.87 C1105.57,81.35 1108.61,83.72 1111.58,86.32 C1114.54,88.92 1117.20,91.65 1120.41,94.49 C1123.62,97.33 1127.62,100.53 1130.83,103.37 C1134.04,106.22 1137.33,109.70 1139.67,111.54 C1142.01,113.38 1144.01,113.93 1144.88,114.41" fill="none" stroke="#3b3f9f" stroke-width="1.5" stroke-linejoin="round" />
<path d="M1000.08,61.10 C1000.88,61.60 1003.07,62.63 1004.86,64.11 C1006.64,65.59 1008.70,67.41 1010.80,69.98 C1012.89,72.56 1015.62,76.00 1017.46,79.59 C1019.29,83.17 1020.21,87.04 1021.80,91.48 C1023.39,95.92 1024.91,100.79 1027.01,106.24 C1029.11,111.68 1032.18,118.21 1034.40,124.15 C1036.62,130.10 1038.36,136.50 1040.33,141.92 C1042.31,147.34 1044.29,152.24 1046.27,156.68 C1048.25,161.12 1050.23,165.11 1052.21,168.57 C1054.19,172.04 1056.17,174.88 1058.14,177.46 C1060.12,180.04 1061.86,181.83 1064.08,184.05 C1066.30,186.27 1068.98,188.80 1071.47,190.79 C1073.95,192.77 1076.51,194.51 1079.00,195.95 C1081.48,197.38 1083.92,198.41 1086.38,199.38 C1088.84,200.36 1091.06,201.08 1093.77,201.82 C1096.47,202.56 1099.63,203.37 1102.60,203.83 C1105.57,204.28 1108.10,204.42 1111.58,204.54 C1115.05,204.66 1117.90,204.69 1123.45,204.54 C1129.00,204.40 1141.31,203.83 1144.88,203.68" fill="none" stroke="#ee2a3a" stroke-width="1.5" stroke-linejoin="round" />
<path d="M1000.08,61.10 C1000.88,62.22 1003.34,64.75 1004.86,67.84 C1006.38,70.92 1007.73,75.41 1009.20,79.59 C1010.67,83.77 1012.32,88.71 1013.69,92.91 C1015.07,97.12 1016.47,101.34 1017.46,104.81 C1018.45,108.27 1018.64,109.73 1019.63,113.69 C1020.62,117.66 1022.16,123.77 1023.39,128.59 C1024.62,133.42 1025.78,138.46 1027.01,142.64 C1028.24,146.82 1029.55,150.09 1030.78,153.67 C1032.01,157.25 1033.05,160.67 1034.40,164.13 C1035.75,167.60 1037.39,171.49 1038.89,174.45 C1040.38,177.41 1041.64,179.42 1043.38,181.90 C1045.11,184.39 1047.09,187.01 1049.31,189.35 C1051.53,191.69 1054.24,194.23 1056.70,195.95 C1059.16,197.66 1061.35,198.55 1064.08,199.67 C1066.81,200.79 1069.61,201.89 1073.06,202.68 C1076.51,203.47 1080.85,204.11 1084.79,204.40 C1088.72,204.69 1092.70,204.57 1096.66,204.40 C1100.62,204.23 1104.07,203.73 1108.54,203.40 C1113.00,203.06 1117.39,202.73 1123.45,202.39 C1129.51,202.06 1141.31,201.56 1144.88,201.39" fill="none" stroke="#1aa75c" stroke-width="1.5" stroke-linejoin="round" />
<path d="M1108,137.2 H1118.8" stroke="#3b3f9f" stroke-width="1.5"/>
<text x="1124.4" y="141.1">GC</text>
<path d="M1108,148.9 H1118.8" stroke="#ee2a3a" stroke-width="1.5"/>
<text x="1124.4" y="152.8">DFC</text>
<path d="M1108,161 H1118.8" stroke="#1aa75c" stroke-width="1.5"/>
<text x="1124.4" y="164.9">FC</text>
<!-- pe -->
<text class="pl" x="942" y="272.8">e</text>
<text x="1074" y="273.4" text-anchor="middle">Chase time (min)</text>
<linearGradient id="gea" x1="0" x2="1"><stop offset="0" stop-color="#3c3b93" stop-opacity="0"/><stop offset="0.8" stop-color="#3c3b93" stop-opacity="0.95"/><stop offset="1" stop-color="#3c3b93"/></linearGradient>
<rect x="995" y="278" width="151.5" height="2.1" fill="url(#gea)"/><path d="M1152.4,279 L1144.2,275.9 L1146,279 L1144.2,282.1 Z" fill="#3c3b93"/>
<text class="n" x="1003" y="297.6" text-anchor="middle" style="fill:#3aae6c">0</text>
<text class="n" x="1021.4" y="297.6" text-anchor="middle" style="fill:#3fd62a">15</text>
<text class="n" x="1038.4" y="297.6" text-anchor="middle" style="fill:#e8283c">30</text>
<text class="n" x="1057.4" y="297.6" text-anchor="middle" style="fill:#f060b0">45</text>
<text class="n" x="1077.4" y="297.6" text-anchor="middle" style="fill:#a8d8f6">60</text>
<text class="n" x="1097.1" y="297.6" text-anchor="middle" style="fill:#3aa0e0">75</text>
<text class="n" x="1115.9" y="297.6" text-anchor="middle" style="fill:#7070ea">90</text>
<text class="n" x="1137.9" y="297.6" text-anchor="middle" style="fill:#3a3a96">120</text>
<rect x="992.8" y="303.7" width="161.20000000000005" height="159.90000000000003" fill="#fff" stroke="#000" stroke-width="1"/>
<path d="M988.1999999999999,454.1 H992.8" stroke="#000" stroke-width="0.7"/>
<text class="n" x="981.4" y="458.0" text-anchor="end">0</text>
<path d="M1000.1,463.6 V468.20000000000005" stroke="#000" stroke-width="0.7"/>
<text class="n" x="1000.1" y="483.6" text-anchor="middle">0</text>
<path d="M988.1999999999999,425.7 H992.8" stroke="#000" stroke-width="0.7"/>
<text class="n" x="981.4" y="429.6" text-anchor="end">0.2</text>
<path d="M1029.2,463.6 V468.20000000000005" stroke="#000" stroke-width="0.7"/>
<text class="n" x="1029.2" y="483.6" text-anchor="middle">0.2</text>
<path d="M988.1999999999999,397.3 H992.8" stroke="#000" stroke-width="0.7"/>
<text class="n" x="981.4" y="401.2" text-anchor="end">0.4</text>
<path d="M1058.3,463.6 V468.20000000000005" stroke="#000" stroke-width="0.7"/>
<text class="n" x="1058.3" y="483.6" text-anchor="middle">0.4</text>
<path d="M988.1999999999999,368.9 H992.8" stroke="#000" stroke-width="0.7"/>
<text class="n" x="981.4" y="372.8" text-anchor="end">0.6</text>
<path d="M1087.4,463.6 V468.20000000000005" stroke="#000" stroke-width="0.7"/>
<text class="n" x="1087.4" y="483.6" text-anchor="middle">0.6</text>
<path d="M988.1999999999999,340.5 H992.8" stroke="#000" stroke-width="0.7"/>
<text class="n" x="981.4" y="344.4" text-anchor="end">0.8</text>
<path d="M1116.5,463.6 V468.20000000000005" stroke="#000" stroke-width="0.7"/>
<text class="n" x="1116.5" y="483.6" text-anchor="middle">0.8</text>
<path d="M988.1999999999999,312.1 H992.8" stroke="#000" stroke-width="0.7"/>
<text class="n" x="981.4" y="316.0" text-anchor="end">1.0</text>
<path d="M1145.6,463.6 V468.20000000000005" stroke="#000" stroke-width="0.7"/>
<text class="n" x="1145.6" y="483.6" text-anchor="middle">1.0</text>
<text x="1070.6" y="501.3" text-anchor="middle" textLength="151" lengthAdjust="spacing">Distance from FC centre (µm)</text>
<text transform="translate(951.6,383) rotate(-90)" text-anchor="middle" textLength="129" lengthAdjust="spacing">Normalized 5eU intensity</text>
<clipPath id="cpe"><rect x="992.8" y="303.7" width="161.20000000000005" height="159.90000000000003"/></clipPath><g clip-path="url(#cpe)">
<path d="M1000.08,312.10 C1000.88,312.55 1002.84,313.12 1004.88,314.80 C1006.92,316.48 1010.22,319.60 1012.30,322.18 C1014.39,324.76 1016.18,328.05 1017.39,330.28 C1018.61,332.50 1017.98,331.44 1019.58,335.53 C1021.18,339.62 1024.52,348.67 1027.00,354.84 C1029.47,361.02 1031.94,366.68 1034.42,372.59 C1036.89,378.51 1039.37,384.43 1041.84,390.34 C1044.31,396.26 1046.79,402.53 1049.26,408.09 C1051.73,413.65 1054.21,419.12 1056.68,423.71 C1059.15,428.30 1061.63,432.30 1064.10,435.64 C1066.57,438.98 1069.05,441.53 1071.52,443.73 C1073.99,445.94 1076.47,447.50 1078.94,448.85 C1081.41,450.19 1083.89,451.07 1086.36,451.83 C1088.84,452.59 1091.31,453.01 1093.78,453.39 C1096.26,453.77 1098.75,453.98 1101.20,454.10 C1103.65,454.22 1106.03,454.15 1108.48,454.10 C1110.93,454.05 1113.42,453.93 1115.90,453.82 C1118.37,453.70 1119.61,453.58 1123.32,453.39 C1127.03,453.20 1134.45,452.87 1138.16,452.68 C1141.87,452.49 1144.34,452.33 1145.58,452.25" fill="none" stroke="#2fa468" stroke-width="1.15" stroke-linejoin="round" />
<path d="M1000.08,312.10 C1000.88,312.43 1002.84,313.14 1004.88,314.09 C1006.92,315.03 1010.22,316.43 1012.30,317.78 C1014.39,319.13 1016.18,320.83 1017.39,322.18 C1018.61,323.53 1017.98,323.15 1019.58,325.87 C1021.18,328.60 1024.52,334.18 1027.00,338.51 C1029.47,342.84 1031.94,347.17 1034.42,351.86 C1036.89,356.55 1039.37,361.56 1041.84,366.63 C1044.31,371.69 1046.79,377.07 1049.26,382.25 C1051.73,387.43 1054.21,392.78 1056.68,397.73 C1059.15,402.67 1061.63,407.48 1064.10,411.93 C1066.57,416.38 1069.05,420.61 1071.52,424.42 C1073.99,428.23 1076.47,431.83 1078.94,434.79 C1081.41,437.75 1083.89,440.07 1086.36,442.17 C1088.84,444.28 1091.31,445.98 1093.78,447.43 C1096.26,448.87 1098.75,449.91 1101.20,450.83 C1103.65,451.76 1106.03,452.47 1108.48,452.96 C1110.93,453.46 1113.42,453.63 1115.90,453.82 C1118.37,454.01 1119.61,454.05 1123.32,454.10 C1127.03,454.15 1134.45,454.15 1138.16,454.10 C1141.87,454.05 1144.34,453.86 1145.58,453.82" fill="none" stroke="#22e022" stroke-width="1.15" stroke-linejoin="round" />
<path d="M1000.1,453.5 L1004.9,449.0 L1012.3,434.0 L1019.6,411.7 L1027.0,387.8 L1034.4,364.0 L1041.8,343.1 L1049.3,326.6 L1056.7,315.3 L1064.1,310.7 L1071.5,309.9 L1078.9,314.1 L1086.4,321.3 L1093.8,331.6 L1101.2,341.9 L1108.5,350.6 L1115.9,359.4 L1123.3,367.3 L1130.7,375.4 L1138.2,382.0 L1145.6,386.2 L1145.6,393.0 L1138.2,388.5 L1130.7,381.7 L1123.3,373.3 L1115.9,365.1 L1108.5,356.0 L1101.2,347.0 L1093.8,336.4 L1086.4,325.9 L1078.9,318.3 L1071.5,313.8 L1064.1,314.3 L1056.7,318.6 L1049.3,329.7 L1041.8,345.9 L1034.4,366.4 L1027.0,390.0 L1019.6,413.6 L1012.3,435.6 L1004.9,450.4 L1000.1,454.7Z" fill="#9fd4f8" opacity="0.42"/>
<path d="M1000.08,454.10 C1000.88,453.37 1002.84,452.92 1004.88,449.70 C1006.92,446.48 1009.85,440.97 1012.30,434.79 C1014.75,428.61 1017.13,420.28 1019.58,412.64 C1022.03,404.99 1024.52,396.83 1027.00,388.92 C1029.47,381.02 1031.94,372.62 1034.42,365.21 C1036.89,357.80 1039.37,350.65 1041.84,344.48 C1044.31,338.30 1046.79,332.74 1049.26,328.15 C1051.73,323.55 1054.21,319.53 1056.68,316.93 C1059.15,314.32 1061.63,313.38 1064.10,312.53 C1066.57,311.67 1069.05,311.20 1071.52,311.82 C1073.99,312.43 1076.47,314.25 1078.94,316.22 C1081.41,318.18 1083.89,320.64 1086.36,323.60 C1088.84,326.56 1091.31,330.49 1093.78,333.97 C1096.26,337.45 1098.75,341.26 1101.20,344.48 C1103.65,347.69 1106.03,350.32 1108.48,353.28 C1110.93,356.24 1113.42,359.39 1115.90,362.23 C1118.37,365.07 1120.85,367.60 1123.32,370.32 C1125.79,373.04 1128.27,376.07 1130.74,378.56 C1133.21,381.04 1135.69,383.38 1138.16,385.23 C1140.63,387.08 1144.34,388.90 1145.58,389.63" fill="none" stroke="#9fd4f8" stroke-width="1.2" stroke-linejoin="round" />
<path d="M1000.1,453.8 L1004.9,450.4 L1012.3,436.9 L1019.6,416.7 L1027.0,394.4 L1034.4,371.2 L1041.8,349.6 L1049.3,332.0 L1056.7,319.6 L1064.1,312.7 L1071.5,309.9 L1078.9,310.5 L1086.4,313.6 L1093.8,318.3 L1101.2,322.9 L1108.5,327.5 L1115.9,332.2 L1123.3,336.5 L1130.7,340.4 L1138.2,344.4 L1145.6,347.2 L1145.6,355.1 L1138.2,352.0 L1130.7,347.7 L1123.3,343.4 L1115.9,338.8 L1108.5,333.7 L1101.2,328.8 L1093.8,323.8 L1086.4,318.8 L1078.9,315.4 L1071.5,314.3 L1064.1,316.9 L1056.7,323.4 L1049.3,335.4 L1041.8,352.7 L1034.4,374.0 L1027.0,396.8 L1019.6,418.8 L1012.3,438.6 L1004.9,451.8 L1000.1,455.0Z" fill="#6c6ce8" opacity="0.42"/>
<path d="M1000.08,454.38 C1000.88,453.84 1002.84,453.89 1004.88,451.12 C1006.92,448.35 1009.85,443.33 1012.30,437.77 C1014.75,432.21 1017.13,424.78 1019.58,417.75 C1022.03,410.72 1024.52,403.12 1027.00,395.60 C1029.47,388.07 1031.94,380.00 1034.42,372.59 C1036.89,365.18 1039.37,357.63 1041.84,351.15 C1044.31,344.67 1046.79,338.63 1049.26,333.68 C1051.73,328.74 1054.21,324.62 1056.68,321.47 C1059.15,318.32 1061.63,316.36 1064.10,314.80 C1066.57,313.24 1069.05,312.41 1071.52,312.10 C1073.99,311.79 1076.47,312.27 1078.94,312.95 C1081.41,313.64 1083.89,314.87 1086.36,316.22 C1088.84,317.57 1091.31,319.44 1093.78,321.05 C1096.26,322.66 1098.75,324.29 1101.20,325.87 C1103.65,327.46 1106.03,328.95 1108.48,330.56 C1110.93,332.17 1113.42,333.97 1115.90,335.53 C1118.37,337.09 1120.85,338.51 1123.32,339.93 C1125.79,341.35 1128.27,342.68 1130.74,344.05 C1133.21,345.42 1135.69,346.98 1138.16,348.17 C1140.63,349.35 1144.34,350.65 1145.58,351.15" fill="none" stroke="#6c6ce8" stroke-width="1.0" stroke-linejoin="round" />
<path d="M1000.1,453.5 L1004.9,449.8 L1012.3,435.6 L1019.6,415.4 L1027.0,392.3 L1034.4,369.1 L1041.8,347.6 L1049.3,330.4 L1056.7,318.3 L1064.1,312.4 L1071.5,310.0 L1078.9,310.6 L1086.4,313.4 L1093.8,317.7 L1101.2,322.1 L1108.5,326.4 L1115.9,330.7 L1123.3,335.1 L1130.7,338.6 L1138.2,342.2 L1145.6,345.0 L1145.6,351.3 L1138.2,348.2 L1130.7,344.4 L1123.3,340.5 L1115.9,335.9 L1108.5,331.3 L1101.2,326.8 L1093.8,322.1 L1086.4,317.6 L1078.9,314.5 L1071.5,313.6 L1064.1,315.8 L1056.7,321.5 L1049.3,333.3 L1041.8,350.2 L1034.4,371.5 L1027.0,394.4 L1019.6,417.2 L1012.3,437.1 L1004.9,451.1 L1000.1,454.7Z" fill="#3aa0e2" opacity="0.42"/>
<path d="M1000.08,454.10 C1000.88,453.48 1002.84,453.37 1004.88,450.41 C1006.92,447.45 1009.85,442.03 1012.30,436.35 C1014.75,430.67 1017.13,423.50 1019.58,416.33 C1022.03,409.16 1024.52,400.99 1027.00,393.32 C1029.47,385.66 1031.94,377.73 1034.42,370.32 C1036.89,362.91 1039.37,355.29 1041.84,348.88 C1044.31,342.46 1046.79,336.67 1049.26,331.84 C1051.73,327.01 1054.21,322.87 1056.68,319.91 C1059.15,316.95 1061.63,315.44 1064.10,314.09 C1066.57,312.74 1069.05,312.08 1071.52,311.82 C1073.99,311.56 1076.47,311.91 1078.94,312.53 C1081.41,313.14 1083.89,314.28 1086.36,315.51 C1088.84,316.74 1091.31,318.42 1093.78,319.91 C1096.26,321.40 1098.75,322.96 1101.20,324.45 C1103.65,325.94 1106.03,327.39 1108.48,328.86 C1110.93,330.32 1113.42,331.77 1115.90,333.26 C1118.37,334.75 1120.85,336.43 1123.32,337.80 C1125.79,339.17 1128.27,340.26 1130.74,341.49 C1133.21,342.72 1135.69,344.07 1138.16,345.19 C1140.63,346.30 1144.34,347.67 1145.58,348.17" fill="none" stroke="#3aa0e2" stroke-width="1.1" stroke-linejoin="round" />
<path d="M1000.1,453.0 L1004.9,449.9 L1012.3,438.0 L1019.6,420.0 L1027.0,399.2 L1034.4,377.7 L1041.8,357.5 L1049.3,340.4 L1056.7,326.9 L1064.1,317.9 L1071.5,312.7 L1078.9,309.9 L1086.4,309.5 L1093.8,310.5 L1101.2,312.3 L1108.5,314.9 L1115.9,318.8 L1123.3,322.3 L1130.7,325.2 L1138.2,328.1 L1145.6,330.6 L1145.6,336.8 L1138.2,334.2 L1130.7,331.1 L1123.3,328.0 L1115.9,324.2 L1108.5,320.1 L1101.2,317.3 L1093.8,315.4 L1086.4,314.1 L1078.9,314.3 L1071.5,316.9 L1064.1,321.9 L1056.7,330.8 L1049.3,344.0 L1041.8,361.0 L1034.4,380.9 L1027.0,402.2 L1019.6,422.8 L1012.3,440.6 L1004.9,452.3 L1000.1,455.2Z" fill="#35358e" opacity="0.42"/>
<path d="M1000.08,454.10 C1000.88,453.60 1002.84,453.58 1004.88,451.12 C1006.92,448.66 1009.85,444.28 1012.30,439.33 C1014.75,434.39 1017.13,427.88 1019.58,421.44 C1022.03,415.00 1024.52,407.74 1027.00,400.71 C1029.47,393.68 1031.94,386.18 1034.42,379.27 C1036.89,372.36 1039.37,365.42 1041.84,359.24 C1044.31,353.07 1046.79,347.27 1049.26,342.20 C1051.73,337.14 1054.21,332.57 1056.68,328.86 C1059.15,325.14 1061.63,322.25 1064.10,319.91 C1066.57,317.57 1069.05,316.10 1071.52,314.80 C1073.99,313.50 1076.47,312.60 1078.94,312.10 C1081.41,311.60 1083.89,311.67 1086.36,311.82 C1088.84,311.96 1091.31,312.45 1093.78,312.95 C1096.26,313.45 1098.75,314.04 1101.20,314.80 C1103.65,315.56 1106.03,316.38 1108.48,317.50 C1110.93,318.61 1113.42,320.19 1115.90,321.47 C1118.37,322.75 1120.85,324.05 1123.32,325.16 C1125.79,326.28 1128.27,327.15 1130.74,328.15 C1133.21,329.14 1135.69,330.21 1138.16,331.13 C1140.63,332.05 1144.34,333.26 1145.58,333.68" fill="none" stroke="#35358e" stroke-width="1.4" stroke-linejoin="round" />
<path d="M1000.1,448.3 L1004.9,441.6 L1012.3,422.4 L1019.6,395.7 L1027.0,369.0 L1034.4,342.3 L1041.8,324.6 L1049.3,313.5 L1056.0,311.0 L1064.1,317.2 L1071.5,329.0 L1078.9,342.3 L1086.4,355.7 L1093.8,370.5 L1101.2,385.4 L1108.5,400.1 L1115.9,413.5 L1123.3,425.4 L1130.7,435.8 L1138.2,445.4 L1145.6,453.5 L1145.6,454.7 L1138.2,446.6 L1130.7,436.9 L1123.3,426.6 L1115.9,414.6 L1108.5,401.3 L1101.2,386.5 L1093.8,371.6 L1086.4,356.8 L1078.9,343.5 L1071.5,330.1 L1064.1,318.3 L1056.0,312.1 L1049.3,314.7 L1041.8,325.7 L1034.4,343.5 L1027.0,370.2 L1019.6,396.9 L1012.3,423.6 L1004.9,442.7 L1000.1,449.4Z" fill="#f24aa6" opacity="0.42"/>
<path d="M1000.08,448.85 C1000.88,447.73 1002.84,446.48 1004.88,442.17 C1006.92,437.86 1009.85,430.65 1012.30,423.00 C1014.75,415.36 1017.13,405.20 1019.58,396.31 C1022.03,387.41 1024.52,378.51 1027.00,369.61 C1029.47,360.71 1031.94,350.32 1034.42,342.91 C1036.89,335.51 1039.37,329.97 1041.84,325.16 C1044.31,320.36 1046.91,316.36 1049.26,314.09 C1051.61,311.82 1053.48,310.92 1055.95,311.53 C1058.43,312.15 1061.51,314.77 1064.10,317.78 C1066.69,320.79 1069.05,325.38 1071.52,329.57 C1073.99,333.75 1076.47,338.46 1078.94,342.91 C1081.41,347.36 1083.89,351.58 1086.36,356.26 C1088.84,360.95 1091.31,366.08 1093.78,371.03 C1096.26,375.98 1098.75,380.99 1101.20,385.94 C1103.65,390.89 1106.03,396.02 1108.48,400.71 C1110.93,405.39 1113.42,409.84 1115.90,414.06 C1118.37,418.27 1120.85,422.27 1123.32,425.98 C1125.79,429.70 1128.27,433.01 1130.74,436.35 C1133.21,439.69 1135.69,443.05 1138.16,446.01 C1140.63,448.96 1144.34,452.75 1145.58,454.10" fill="none" stroke="#f24aa6" stroke-width="1.15" stroke-linejoin="round" />
<path d="M1000.1,313.1 L1004.9,312.0 L1012.3,310.5 L1019.6,309.5 L1023.4,309.2 L1027.0,310.0 L1034.4,313.1 L1041.8,319.1 L1049.3,327.3 L1056.7,338.5 L1064.1,351.2 L1071.5,364.6 L1078.9,378.1 L1086.4,390.8 L1093.8,402.7 L1101.2,413.1 L1108.5,422.1 L1115.9,429.6 L1123.3,436.4 L1130.7,442.4 L1138.2,447.6 L1145.6,452.7 L1145.6,455.0 L1138.2,450.1 L1130.7,445.0 L1123.3,439.2 L1115.9,432.6 L1108.5,425.3 L1101.2,416.4 L1093.8,406.1 L1086.4,394.4 L1078.9,381.9 L1071.5,368.6 L1064.1,355.4 L1056.7,342.8 L1049.3,331.8 L1041.8,323.8 L1034.4,317.9 L1027.0,315.1 L1023.4,314.4 L1019.6,314.7 L1012.3,315.9 L1004.9,317.6 L1000.1,318.8Z" fill="#e22c40" opacity="0.42"/>
<path d="M1000.08,315.93 C1000.88,315.74 1002.84,315.25 1004.88,314.80 C1006.92,314.35 1009.85,313.69 1012.30,313.24 C1014.75,312.79 1017.73,312.34 1019.58,312.10 C1021.42,311.86 1022.12,311.75 1023.36,311.82 C1024.60,311.89 1025.15,311.91 1027.00,312.53 C1028.84,313.14 1031.94,314.02 1034.42,315.51 C1036.89,317.00 1039.37,319.13 1041.84,321.47 C1044.31,323.81 1046.79,326.37 1049.26,329.57 C1051.73,332.76 1054.21,336.69 1056.68,340.64 C1059.15,344.59 1061.63,348.95 1064.10,353.28 C1066.57,357.61 1069.05,362.18 1071.52,366.63 C1073.99,371.08 1076.47,375.64 1078.94,379.98 C1081.41,384.31 1083.89,388.54 1086.36,392.61 C1088.84,396.68 1091.31,400.71 1093.78,404.40 C1096.26,408.09 1098.75,411.55 1101.20,414.77 C1103.65,417.98 1106.03,420.99 1108.48,423.71 C1110.93,426.43 1113.42,428.75 1115.90,431.10 C1118.37,433.44 1120.85,435.66 1123.32,437.77 C1125.79,439.88 1128.27,441.89 1130.74,443.73 C1133.21,445.58 1135.69,447.17 1138.16,448.85 C1140.63,450.53 1144.34,452.99 1145.58,453.82" fill="none" stroke="#e22c40" stroke-width="1.5" stroke-linejoin="round" />
</g>
<!-- pf -->
<text class="pl" x="0" y="536.4">f</text>
<text x="63" y="569.9" textLength="95.5" lengthAdjust="spacing">Cleavage pathway</text>
<text x="44.2" y="606.9">47S</text>
<path d="M68,603.2 H212.8" stroke="#52b848" stroke-width="0.8"/>
<rect x="106.1" y="598.6" width="23.7" height="8.9" fill="#52b848"/>
<rect x="145.8" y="598.6" width="3.2" height="8.9" fill="#52b848"/>
<rect x="165.9" y="598.6" width="38.5" height="8.9" fill="#52b848"/>
<path d="M79.1,599.6 V606.8" stroke="#52b848" stroke-width="0.8"/>
<text class="n" x="75.4" y="594.2" style="fill:#52b848">01</text><text class="n" x="200.8" y="594.2" style="fill:#52b848">02</text>
<text x="1.3" y="635" style="fill:#52b848">Early</text>
<path d="M79.1,621.4 V634.9" stroke="#52b848" stroke-width="0.95" fill="none"/><path d="M79.1,637 L77.52499999999999,633.85 L80.675,633.85 Z" fill="#52b848"/>
<path d="M204.4,621.4 V634.9" stroke="#52b848" stroke-width="0.95" fill="none"/><path d="M204.4,637 L202.82500000000002,633.85 L205.975,633.85 Z" fill="#52b848"/>
<text class="n" x="83.6" y="631.8" style="fill:#52b848">01</text><text class="n" x="208" y="631.8" style="fill:#52b848">02</text>
<text x="44.2" y="647.6">45S</text>
<path d="M78.5,646.9 H204.4" stroke="#52b848" stroke-width="0.8"/>
<rect x="106.1" y="641.9" width="23.7" height="8.9" fill="#52b848"/>
<rect x="145.8" y="641.9" width="3.2" height="8.9" fill="#52b848"/>
<rect x="165.9" y="641.9" width="38.5" height="8.9" fill="#52b848"/>
<path d="M141.6,642.6 V650.4" stroke="#52b848" stroke-width="0.8"/>
<text class="n" x="102.8" y="637.8" style="fill:#52b848">1</text><text class="n" x="138.4" y="637.8" style="fill:#52b848">2</text>
<path d="M140.2,655.8 L126.1,664.8" stroke="#e0243c" stroke-width="0.95" fill="none"/><path d="M123.0,666.8 L125.2,663.4 L127.0,666.3 Z" fill="#e0243c"/>
<path d="M143.2,655.8 L192.4,689.1" stroke="#e0243c" stroke-width="0.95" fill="none"/><path d="M195.4,691.2 L191.4,690.6 L193.3,687.7 Z" fill="#e0243c"/>
<text class="n" x="137.6" y="669.8" style="fill:#e0243c">2</text>
<text x="1.3" y="696.2" style="fill:#e0243c">Middle</text>
<path d="M94.2,675 H124" stroke="#e0243c" stroke-width="0.8"/><rect x="102.5" y="670.6" width="16.6" height="8.9" fill="#e0243c"/>
<text class="n" x="90" y="691.4" style="fill:#e0243c">1</text>
<path d="M100.1,681.4 V692.6999999999999" stroke="#e0243c" stroke-width="0.95" fill="none"/><path d="M100.1,694.8 L98.52499999999999,691.65 L101.675,691.65 Z" fill="#e0243c"/>
<path d="M103,701.4 H124" stroke="#e0243c" stroke-width="0.8"/><rect x="103.1" y="697" width="16.9" height="8.9" fill="#e0243c"/>
<path d="M170.2,699.9 H186" stroke="#e0243c" stroke-width="0.8"/><rect x="173.3" y="695.5" width="2.8" height="8.9" fill="#e0243c"/><rect x="185.8" y="695.5" width="25.8" height="8.9" fill="#e0243c"/>
<text x="1.3" y="743" style="fill:#4a9fd8">Late</text>
<path d="M123,709.6 V721.9" stroke="#29abe2" stroke-width="0.95" fill="none"/><path d="M123,724 L121.425,720.85 L124.575,720.85 Z" fill="#29abe2"/>
<text x="125.8" y="721.6" style="fill:#4a9fd8">C</text>
<path d="M103,731.6 H124" stroke="#4a9fd8" stroke-width="0.8"/><rect x="103.1" y="727.4" width="16.9" height="8.4" fill="#4a9fd8"/>
<path d="M123,737.8 V749.1" stroke="#29abe2" stroke-width="0.95" fill="none"/><path d="M123,751.2 L121.425,748.0500000000001 L124.575,748.0500000000001 Z" fill="#29abe2"/>
<text x="125.8" y="747.8" style="fill:#4a9fd8">E</text>
<path d="M103,754.8 H124" stroke="#4a9fd8" stroke-width="0.8"/><rect x="103.1" y="750.5" width="16.9" height="8.4" fill="#4a9fd8"/>
<text x="33" y="764.6">Nucleus</text><text x="32.4" y="778.6">Cytoplasm</text>
<path d="M97.8,766.4 H124.6 M97.8,769.4 H124.6" stroke="#555" stroke-width="0.7"/>
<path d="M111.1,761.4 V774.3" stroke="#29abe2" stroke-width="0.95" fill="none"/><path d="M111.1,776.4 L109.52499999999999,773.25 L112.675,773.25 Z" fill="#29abe2"/>
<path d="M103,783.4 H123" stroke="#4a9fd8" stroke-width="0.8"/><rect x="103.1" y="780" width="15.4" height="6.8" fill="#4a9fd8"/>
<path d="M111.1,789.6 V798.9" stroke="#29abe2" stroke-width="0.95" fill="none"/><path d="M111.1,801 L109.52499999999999,797.85 L112.675,797.85 Z" fill="#29abe2"/>
<text class="n" x="115.4" y="800.2" style="fill:#4a9fd8">3</text>
<path d="M185.2,709.6 L176.9,720.3" stroke="#29abe2" stroke-width="0.95" fill="none"/><path d="M174.6,723.2 L175.5,719.2 L178.2,721.4 Z" fill="#29abe2"/>
<path d="M194.1,709.6 L205.9,723 V797" stroke="#29abe2" stroke-width="0.8" fill="none"/><path d="M205.9,799 L204.3,795.6 L207.5,795.6 Z" fill="#29abe2"/>
<text x="212.5" y="721" style="fill:#4a9fd8">3′</text>
<path d="M168.9,731 H177.8" stroke="#4a9fd8" stroke-width="0.8"/><rect x="171.2" y="726.5" width="2.8" height="8.9" fill="#4a9fd8"/>
<path d="M172.5,738.6 V744.6999999999999" stroke="#29abe2" stroke-width="0.95" fill="none"/><path d="M172.5,746.8 L170.925,743.65 L174.075,743.65 Z" fill="#29abe2"/>
<text x="177" y="745.4" style="fill:#4a9fd8">4a/b</text>
<path d="M168.9,754 H176.4" stroke="#4a9fd8" stroke-width="0.8"/><rect x="171.2" y="749.6" width="2.8" height="8.9" fill="#4a9fd8"/>
<path d="M171.4,763.6 V796.9" stroke="#29abe2" stroke-width="0.95" fill="none"/><path d="M171.4,799 L169.82500000000002,795.85 L172.975,795.85 Z" fill="#29abe2"/>
<text x="177.6" y="773.4" style="fill:#4a9fd8">4′</text>
<text x="1.3" y="823" style="fill:#662d91">Mature</text>
<rect x="102.2" y="804" width="17.8" height="8.8" fill="#662d91"/><rect x="170.4" y="802" width="4.1" height="10" fill="#662d91"/><rect x="192.6" y="803" width="26.1" height="9" fill="#662d91"/>
<text x="101" y="824.8" style="fill:#662d91">18S</text><text x="160.7" y="824.8" style="fill:#662d91">5.8S</text><text x="195.4" y="824.8" style="fill:#662d91">28S</text>
<path d="M98.4,831.1 H122.2" stroke="#e0243c" stroke-width="1.6"/><path d="M160.9,831.1 H218.8" stroke="#2e3192" stroke-width="1.6"/>
<text x="99" y="845.4" style="fill:#e0243c">SSU</text><text x="177.6" y="845.4" style="fill:#3b3f9f">LSU</text>
<!-- pg -->
<text class="pl" x="0" y="902.6">g</text>
<clipPath id="cg1"><rect x="2.2" y="922" width="245.6" height="96.4"/></clipPath>
<g clip-path="url(#cg1)"><rect x="2" y="922" width="246" height="97" fill="#fff"/>
<path d="M2,921 L177.4,921 Q184.5,965 185.6,1019 L2,1019 Z" fill="#d9e0f3" stroke="#b9bdf2" stroke-width="0.7"/>
<path d="M2,921 L124.3,921 Q131.8,965 133.6,1019 L2,1019 Z" fill="#f1d6d8" stroke="#e3989c" stroke-width="0.7"/>
<path d="M2,921 L44.4,921 Q56.9,960 57.4,1019 L2,1019 Z" fill="#cbe2d2" stroke="#5dbb85" stroke-width="0.7"/>
</g><rect x="2.2" y="922" width="245.6" height="96.4" fill="none" stroke="#9a9a9a" stroke-width="0.7"/>
<text x="22" y="944" style="fill:#169a4e">FC</text><text x="83.8" y="944" style="fill:#e0283c">DFC</text><text x="150.4" y="944" style="fill:#2c2cf0">GC</text>
<text x="206" y="947" style="fill:#3b3f9f">LSU</text><text x="205.4" y="1008.3" style="fill:#e0283c">SSU</text>
<path d="M24.4,986.6 H34 M23.8,990.8 H51.5" stroke="#555" stroke-width="1.2"/>
<path d="M28.4,986.5 V978.2 H33" stroke="#333" stroke-width="0.9" fill="none"/><path d="M37.8,978.2 L32.2,975.4 L32.2,981 Z" fill="#333"/>
<path d="M44,986.8 H50.5" stroke="#d8342e" stroke-width="1.1"/>
<path d="M35.6,983.5 H41.6 Q44.6,983.5 44.6,985.6 L40.5,986.9 L44.6,988.2 V990 Q44.6,992.5 41.6,992.5 H35.6 Q32.5,992.5 32.5,989.5 V986.5 Q32.5,983.5 35.6,983.5 Z" fill="#2ee070" stroke="#1aa050" stroke-width="0.6"/>
<path d="M50.92,986.83 C51.28,986.42 52.64,985.48 53.09,984.34 C53.54,983.20 53.99,981.72 53.63,980.01 C53.27,978.29 51.88,975.94 50.92,974.05 C49.96,972.15 48.03,970.38 47.89,968.63 C47.74,966.88 49.01,964.58 50.05,963.54 C51.10,962.49 52.76,962.09 54.17,962.35 C55.58,962.60 57.64,963.56 58.50,965.05 C59.37,966.55 59.55,969.03 59.37,971.34 C59.19,973.65 57.93,976.76 57.42,978.92 C56.92,981.09 56.16,982.62 56.34,984.34 C56.52,986.05 57.06,988.22 58.50,989.21 C59.95,990.21 63.92,990.12 65.01,990.30" stroke="#d8342e" stroke-width="1.1" fill="none" stroke-linecap="round"/>
<path d="M48.8,970.3 L59.0,974.4" stroke="#d8342e" stroke-width="1"/>
<path d="M50.9,975.1 L58.3,978.9" stroke="#d8342e" stroke-width="1"/>
<path d="M52.9,979.8 L57.2,982.7" stroke="#d8342e" stroke-width="1"/>
<path d="M62,973 C64.5,970.6 70,970 75,972.6" stroke="#222" stroke-width="0.7" fill="none"/><path d="M77.2,973.7 L73.6,973.6 L74.8,970.9 Z" fill="#222"/>
<path d="M77.14,988.67 C78.73,988.53 84.45,988.53 86.67,987.81 C88.89,987.08 89.92,985.82 90.47,984.34 C91.01,982.86 90.56,980.91 89.92,978.92 C89.29,976.94 87.54,974.59 86.67,972.42 C85.81,970.25 84.72,967.73 84.72,965.92 C84.72,964.12 86.35,962.31 86.67,961.59" stroke="#d8342e" stroke-width="1.1" fill="none" stroke-linecap="round"/>
<path d="M96.97,961.59 C97.18,962.31 98.18,963.93 98.27,965.92 C98.36,967.91 97.91,970.80 97.51,973.50 C97.11,976.21 95.97,979.64 95.88,982.17 C95.79,984.70 95.61,987.08 96.97,988.67 C98.32,990.26 102.83,991.20 104.01,991.71" stroke="#d8342e" stroke-width="1.1" fill="none" stroke-linecap="round"/>
<path d="M85.6,969.2 L98.0,973.5" stroke="#d8342e" stroke-width="1"/>
<path d="M88.3,975.7 L97.2,978.9" stroke="#d8342e" stroke-width="1"/>
<path d="M90.5,980.9 L96.2,983.3" stroke="#d8342e" stroke-width="1"/>
<path d="M108.34,986.51 C108.88,986.60 110.51,986.42 111.59,987.05 C112.68,987.68 113.58,989.85 114.84,990.30 C116.11,990.75 118.00,990.57 119.18,989.76 C120.35,988.94 121.16,986.47 121.89,985.42 C122.61,984.38 122.88,983.80 123.51,983.47 C124.14,983.15 125.32,983.47 125.68,983.47" stroke="#d8342e" stroke-width="1.1" fill="none" stroke-linecap="round"/>
<circle cx="91.5" cy="957.3" r="8" fill="#c89cf6" stroke="#4a3a7a" stroke-width="0.6"/><text x="91.5" y="960.6" text-anchor="middle" style="fill:#000;letter-spacing:0">m</text>
<use href="#scis" transform="translate(110.4,994.8) rotate(-11) scale(1.13)"/>
<path d="M118.6,974.4 C124,975.4 130,975 135,972.6" stroke="#222" stroke-width="0.7" fill="none"/><path d="M137.9,971.3 L134.2,971.2 L135.4,974.2 Z" fill="#222"/>
<path d="M142.21,987.05 C143.75,986.87 149.25,986.69 151.42,985.96 C153.59,985.24 154.67,984.25 155.21,982.71 C155.75,981.18 155.30,979.01 154.67,976.76 C154.04,974.50 152.32,971.34 151.42,969.17 C150.52,967.00 149.25,965.38 149.25,963.75 C149.25,962.13 150.34,960.36 151.42,959.42 C152.50,958.48 154.27,958.03 155.75,958.12 C157.23,958.21 159.18,958.66 160.30,959.96 C161.42,961.26 162.18,963.66 162.47,965.92 C162.76,968.18 162.40,970.44 162.04,973.50 C161.68,976.57 160.18,981.78 160.30,984.34 C160.43,986.90 161.39,987.95 162.80,988.89 C164.20,989.83 167.76,989.79 168.75,989.97" stroke="#d8342e" stroke-width="1.1" fill="none" stroke-linecap="round"/>
<path d="M151.4,968.6 L162.3,971.3" stroke="#d8342e" stroke-width="1"/>
<path d="M153.4,974.0 L161.8,976.8" stroke="#d8342e" stroke-width="1"/>
<path d="M155.2,979.5 L161.0,981.3" stroke="#d8342e" stroke-width="1"/>
<path d="M141.1,960.0 C141.3,958.3 142.3,955.7 143.3,954.5 C144.3,953.4 145.8,952.6 147.1,952.9 C148.3,953.3 150.0,955.6 150.9,956.7 C151.8,957.8 152.6,958.4 152.5,959.4 C152.4,960.4 150.6,961.6 150.3,962.7 C150.1,963.8 151.6,965.4 150.9,965.9 C150.2,966.5 147.4,966.2 146.0,965.9 C144.6,965.7 143.0,965.3 142.2,964.3 C141.4,963.3 140.9,961.6 141.1,960.0Z" fill="#6fc3a0" opacity="0.85"/>
<path d="M157.4,951.8 C157.9,950.6 159.3,949.5 160.6,949.5 C162.0,949.5 164.5,950.6 165.5,951.8 C166.5,953.0 166.1,955.4 166.6,956.7 C167.0,958.0 168.4,958.4 168.2,959.4 C168.0,960.4 166.6,962.3 165.5,962.7 C164.4,963.0 163.0,961.5 161.7,961.6 C160.4,961.7 158.8,963.4 157.9,963.2 C157.0,963.0 156.3,961.6 156.3,960.5 C156.3,959.4 157.5,958.2 157.7,956.7 C157.9,955.3 156.9,953.0 157.4,951.8Z" fill="#a4aeea" opacity="0.85"/>
<path d="M166.0,969.2 C166.3,968.0 167.4,966.7 168.2,965.9 C169.0,965.1 170.0,964.1 170.9,964.3 C171.8,964.5 172.6,966.0 173.6,967.0 C174.6,968.0 176.6,969.2 176.9,970.3 C177.2,971.3 175.8,972.6 175.3,973.5 C174.7,974.4 174.6,975.5 173.6,975.7 C172.6,975.9 170.5,975.0 169.3,974.6 C168.1,974.1 167.1,973.9 166.6,973.0 C166.0,972.1 165.8,970.3 166.0,969.2Z" fill="#6fc3a0" opacity="0.85"/>
<path d="M144.1,976.8 C144.2,975.8 146.9,975.3 147.6,974.0 C148.4,972.8 148.3,970.2 148.7,969.2 C149.2,968.2 149.6,967.4 150.3,968.1 C151.1,968.8 152.3,972.2 153.0,973.5 C153.8,974.9 154.8,975.4 154.7,976.2 C154.6,977.0 153.1,977.7 152.5,978.4 C151.9,979.1 151.9,980.3 150.9,980.5 C149.9,980.8 147.7,980.6 146.5,980.0 C145.4,979.4 143.9,977.7 144.1,976.8Z" fill="#f2b076" opacity="0.85"/>
<use href="#scis" transform="translate(175.2,993.3) rotate(-11) scale(1.13)"/>
<path d="M176.3,975.1 C180,972.6 186,972.4 191.4,974.4" stroke="#222" stroke-width="0.7" fill="none"/><path d="M194.2,975.3 L190.6,975.6 L191.6,972.6 Z" fill="#222"/>
<path d="M197.5,981.1 C197.9,979.5 200.1,977.8 202.3,977.3 C204.6,976.8 207.9,977.9 211.0,977.8 C214.1,977.7 217.9,977.4 220.8,976.8 C223.7,976.2 226.0,974.1 228.3,974.0 C230.6,973.9 233.5,974.8 234.8,976.2 C236.1,977.6 236.2,980.1 235.9,982.2 C235.6,984.3 234.3,987.0 232.7,988.7 C231.1,990.4 228.7,991.7 226.2,992.5 C223.7,993.3 220.4,993.5 217.5,993.5 C214.6,993.5 211.3,992.7 208.8,992.5 C206.3,992.3 203.8,993.4 202.3,992.5 C200.8,991.6 200.4,988.9 199.6,987.0 C198.8,985.1 197.1,982.7 197.5,981.1Z" fill="#dcdddf" stroke="#666" stroke-width="0.5"/>
<path d="M198.5,967.0 C199.1,964.8 200.4,960.5 202.3,958.3 C204.2,956.1 207.3,955.4 209.9,954.0 C212.5,952.6 215.7,950.5 218.0,950.2 C220.3,949.9 222.1,951.0 224.0,952.4 C225.9,953.8 227.5,956.8 229.4,958.3 C231.3,959.8 234.2,960.2 235.4,961.6 C236.6,963.0 237.1,964.7 236.8,966.5 C236.5,968.3 235.5,971.0 233.8,972.4 C232.1,973.8 229.4,974.5 226.7,975.1 C224.0,975.7 220.5,975.2 217.5,975.7 C214.5,976.2 211.4,977.7 208.8,977.8 C206.2,977.9 203.5,977.3 201.8,976.2 C200.1,975.1 199.1,972.8 198.5,971.3 C197.9,969.8 197.9,969.2 198.5,967.0Z" fill="#dcdddf" stroke="#666" stroke-width="0.5"/>
<path d="M221,975.6 L226,973.6 L231,974.4 L226.5,975.4 Z" fill="#fff"/>
<path d="M200.39,969.71 C200.62,969.26 201.02,967.49 201.80,967.00 C202.57,966.52 204.24,966.43 205.05,966.79 C205.86,967.15 206.67,968.32 206.67,969.17 C206.67,970.02 204.78,971.19 205.05,971.88 C205.32,972.57 207.13,973.38 208.30,973.29 C209.47,973.20 210.92,971.93 212.09,971.34 C213.26,970.74 214.08,970.11 215.34,969.71 C216.61,969.32 218.32,969.41 219.67,968.95 C221.03,968.50 223.11,967.78 223.47,967.00 C223.83,966.23 222.74,964.80 221.84,964.30 C220.94,963.79 219.04,964.42 218.05,963.97 C217.06,963.52 215.88,962.35 215.88,961.59 C215.88,960.83 217.87,960.23 218.05,959.42 C218.23,958.61 217.69,957.47 216.97,956.71 C216.24,955.95 214.80,955.00 213.72,954.87 C212.63,954.74 211.24,955.38 210.47,955.95 C209.69,956.53 209.06,957.49 209.06,958.34 C209.06,959.19 210.41,960.14 210.47,961.05 C210.52,961.95 209.29,963.03 209.38,963.75 C209.47,964.48 210.20,965.16 211.01,965.38 C211.82,965.60 213.72,965.11 214.26,965.05" stroke="#d8202c" stroke-width="1.15" fill="none" stroke-linecap="round" stroke-linejoin="round"/>
<path d="M212.09,956.71 C212.45,956.53 213.54,955.50 214.26,955.63 C214.98,955.75 216.33,956.84 216.42,957.47 C216.51,958.10 215.52,959.19 214.80,959.42 C214.08,959.66 212.54,959.33 212.09,958.88 C211.64,958.43 212.09,957.07 212.09,956.71" stroke="#d8202c" stroke-width="1.15" fill="none" stroke-linecap="round" stroke-linejoin="round"/>
<path d="M218.05,959.42 C218.59,959.69 220.49,960.32 221.30,961.05 C222.11,961.77 222.20,963.48 222.93,963.75 C223.65,964.02 225.00,962.49 225.63,962.67 C226.27,962.85 226.18,964.30 226.72,964.84 C227.26,965.38 228.43,965.29 228.88,965.92 C229.34,966.55 228.97,968.18 229.43,968.63 C229.88,969.08 231.23,968.63 231.59,968.63" stroke="#d8202c" stroke-width="1.15" fill="none" stroke-linecap="round" stroke-linejoin="round"/>
<path d="M199.09,980.55 C199.63,980.46 201.53,979.64 202.34,980.01 C203.15,980.37 203.78,981.63 203.97,982.71 C204.15,983.80 203.33,985.33 203.42,986.51 C203.51,987.68 204.15,989.94 204.51,989.76 C204.87,989.58 205.23,986.60 205.59,985.42 C205.95,984.25 205.95,983.08 206.67,982.71 C207.40,982.35 209.02,983.62 209.92,983.26 C210.83,982.89 211.37,981.27 212.09,980.55 C212.81,979.82 213.72,978.65 214.26,978.92 C214.80,979.19 214.89,981.27 215.34,982.17 C215.79,983.08 216.42,984.52 216.97,984.34 C217.51,984.16 217.96,981.81 218.59,981.09 C219.22,980.37 220.22,979.46 220.76,980.01 C221.30,980.55 221.39,983.17 221.84,984.34 C222.29,985.51 222.83,987.23 223.47,987.05 C224.10,986.87 224.91,984.43 225.63,983.26 C226.36,982.08 226.99,980.73 227.80,980.01 C228.61,979.28 229.70,978.83 230.51,978.92 C231.32,979.01 232.50,979.64 232.68,980.55 C232.86,981.45 232.04,983.17 231.59,984.34 C231.14,985.51 230.51,986.60 229.97,987.59 C229.43,988.58 228.43,990.84 228.34,990.30 C228.25,989.76 229.06,985.84 229.43,984.34 C229.79,982.84 230.33,981.81 230.51,981.31" stroke="#d8202c" stroke-width="1.15" fill="none" stroke-linecap="round" stroke-linejoin="round"/>
<path d="M2,1036.8 H124" stroke="#ed1c24" stroke-width="1.5"/><path d="M130.2,1036.8 L121.6,1033.4 L123.6,1036.8 L121.6,1040.2 Z" fill="#ed1c24"/>
<text x="140.4" y="1040.6">SSU</text>
<path d="M2,1065.8 H177" stroke="#2e3192" stroke-width="1.5"/><path d="M183.2,1065.8 L174.6,1062.4 L176.6,1065.8 L174.6,1069.2 Z" fill="#2e3192"/>
<text x="189.4" y="1069.6">LSU</text>
<!-- ph -->
<text class="pl" x="271" y="535.9">h</text>
<text x="456.9" y="568.4" text-anchor="middle" textLength="116.5" lengthAdjust="spacing">Modification (2′-O-Me)</text>
<linearGradient id="gbh" x1="0" x2="1"><stop offset="0" stop-color="#10e814"/><stop offset="0.06" stop-color="#20dc14"/><stop offset="0.14" stop-color="#6a9a12"/><stop offset="0.19" stop-color="#9a6410"/><stop offset="0.25" stop-color="#d42a14"/><stop offset="0.31" stop-color="#f20c24"/><stop offset="0.36" stop-color="#ee0c50"/><stop offset="0.41" stop-color="#d40ca0"/><stop offset="0.46" stop-color="#8c0ce0"/><stop offset="0.52" stop-color="#5e06f8"/><stop offset="1" stop-color="#5400fa"/></linearGradient>
<rect x="368.7" y="579.5" width="176.30" height="15.00" fill="url(#gbh)"/>
<path d="M368.7,579.8 H545" stroke="#1a1a1a" stroke-width="0.7"/><path d="M368.7,594.3 H545" stroke="#333" stroke-width="0.5" opacity="0.6"/>
<path d="M369.09999999999997,579.5 V596.0 M544.6,579.5 V596.0" stroke="#1a1a1a" stroke-width="0.7"/>
<path d="M398.5,579.5 V594.5" stroke="#111" stroke-width="0.8" stroke-dasharray="2.2,1.4"/>
<path d="M443.5,579.5 V594.5" stroke="#111" stroke-width="0.8" stroke-dasharray="2.2,1.4"/>
<text x="342.6" y="590.6">5eU</text>
<text x="376.2" y="590.6" style="fill:#fff">FC</text>
<text x="411.6" y="590.6" style="fill:#fff">DFC</text>
<text x="481.8" y="590.6" style="fill:#fff">GC</text>
<path d="M369.4,594.5 V596.6" stroke="#444" stroke-width="0.7"/>
<text class="n" x="369.6" y="608.4" text-anchor="middle">0</text>
<path d="M398.4,594.5 V596.6" stroke="#444" stroke-width="0.7"/>
<text class="n" x="398.8" y="608.4" text-anchor="middle">20</text>
<path d="M427.5,594.5 V596.6" stroke="#444" stroke-width="0.7"/>
<text class="n" x="427.8" y="608.4" text-anchor="middle">40</text>
<path d="M456.5,594.5 V596.6" stroke="#444" stroke-width="0.7"/>
<text class="n" x="456.8" y="608.4" text-anchor="middle">60</text>
<path d="M485.6,594.5 V596.6" stroke="#444" stroke-width="0.7"/>
<text class="n" x="485.9" y="608.4" text-anchor="middle">80</text>
<path d="M514.6,594.5 V596.6" stroke="#444" stroke-width="0.7"/>
<text class="n" x="514.9" y="608.4" text-anchor="middle">100</text>
<path d="M543.7,594.5 V596.6" stroke="#444" stroke-width="0.7"/>
<text class="n" x="544.0" y="608.4" text-anchor="middle">120</text>
<text x="555.4" y="608.4">min</text>
<rect x="369.4" y="616.25" width="29.10" height="210.75" fill="#e7f6ed"/>
<rect x="398.5" y="616.25" width="45.00" height="210.75" fill="#fde8e8"/>
<rect x="443.5" y="616.25" width="100.40" height="210.75" fill="#e7eff8"/>
<path d="M398.5,616.25 V827" stroke="#fff" stroke-width="2.2"/>
<path d="M398.5,616.25 V827" stroke="#222" stroke-width="1" stroke-dasharray="4,2.7"/>
<path d="M443.5,616.25 V827" stroke="#fff" stroke-width="2.2"/>
<path d="M443.5,616.25 V827" stroke="#222" stroke-width="1" stroke-dasharray="4,2.7"/>
<path d="M369.4,616.25 V827" stroke="#666" stroke-width="0.8"/>
<path d="M362.5,827 H543.6999999999999 M554.25,827 H588" stroke="#444" stroke-width="0.8"/>
<path d="M543.6999999999999,822 V833 M554.25,822 V833" stroke="#333" stroke-width="0.8"/>
<path d="M369.40,827 V833.5" stroke="#444" stroke-width="0.8"/>
<path d="M391.19,827 V831" stroke="#444" stroke-width="0.8"/>
<path d="M412.97,827 V833.5" stroke="#444" stroke-width="0.8"/>
<path d="M434.76,827 V831" stroke="#444" stroke-width="0.8"/>
<path d="M456.55,827 V833.5" stroke="#444" stroke-width="0.8"/>
<path d="M478.34,827 V831" stroke="#444" stroke-width="0.8"/>
<path d="M500.12,827 V833.5" stroke="#444" stroke-width="0.8"/>
<path d="M521.91,827 V831" stroke="#444" stroke-width="0.8"/>
<path d="M574.2,827 V833" stroke="#444" stroke-width="0.8"/>
<path d="M362.5,827.00 H369.4" stroke="#444" stroke-width="0.8"/>
<text class="n" x="355.3" y="830.9" text-anchor="end">0</text>
<path d="M362.5,784.85 H369.4" stroke="#444" stroke-width="0.8"/>
<text class="n" x="355.3" y="788.8" text-anchor="end">0.2</text>
<path d="M362.5,742.70 H369.4" stroke="#444" stroke-width="0.8"/>
<text class="n" x="355.3" y="746.6" text-anchor="end">0.4</text>
<path d="M362.5,700.55 H369.4" stroke="#444" stroke-width="0.8"/>
<text class="n" x="355.3" y="704.4" text-anchor="end">0.6</text>
<path d="M362.5,658.40 H369.4" stroke="#444" stroke-width="0.8"/>
<text class="n" x="355.3" y="662.3" text-anchor="end">0.8</text>
<path d="M362.5,616.25 H369.4" stroke="#444" stroke-width="0.8"/>
<text class="n" x="355.3" y="620.1" text-anchor="end">1.0</text>
<path d="M369.4,738.9 L391.2,737.9 L413.0,732.2 L434.8,722.0 L456.5,714.2 L478.3,706.0 L500.1,701.0 L543.7,685.2" fill="none" stroke="#9c9c9c" stroke-width="1.9" stroke-linejoin="round"/>
<path d="M369.4,674.0 L391.2,659.7 L413.0,649.8 L434.8,648.3 L456.5,644.1 L478.3,644.9 L500.1,641.1 L543.7,644.1" fill="none" stroke="#3da848" stroke-width="1.9" stroke-linejoin="round"/>
<clipPath id="h1r"><rect x="553.65" y="604.25" width="38.85000000000002" height="222.75"/></clipPath>
<g clip-path="url(#h1r)">
<path d="M543.7,685.2 L569.2,661.1 L589.5,659.9" fill="none" stroke="#9c9c9c" stroke-width="1.9"/>
<path d="M543.7,644.1 L569.2,642.6 L589.5,642.4" fill="none" stroke="#3da848" stroke-width="1.9"/>
</g>
<path d="M369.4,736.4 V741.4 M366.4,736.4 H372.4 M366.4,741.4 H372.4" stroke="#c2c2c2" stroke-width="0.9" fill="none"/>
<path d="M391.2,726.9 V748.8 M388.2,726.9 H394.2 M388.2,748.8 H394.2" stroke="#c2c2c2" stroke-width="0.9" fill="none"/>
<path d="M413.0,726.5 V737.9 M410.0,726.5 H416.0 M410.0,737.9 H416.0" stroke="#c2c2c2" stroke-width="0.9" fill="none"/>
<path d="M434.8,719.1 V725.0 M431.8,719.1 H437.8 M431.8,725.0 H437.8" stroke="#c2c2c2" stroke-width="0.9" fill="none"/>
<path d="M456.5,712.1 V716.4 M453.5,712.1 H459.5 M453.5,716.4 H459.5" stroke="#c2c2c2" stroke-width="0.9" fill="none"/>
<path d="M478.3,702.4 V709.6 M475.3,702.4 H481.3 M475.3,709.6 H481.3" stroke="#c2c2c2" stroke-width="0.9" fill="none"/>
<path d="M500.1,699.3 V702.7 M497.1,699.3 H503.1 M497.1,702.7 H503.1" stroke="#c2c2c2" stroke-width="0.9" fill="none"/>
<path d="M543.7,670.0 V700.3 M540.7,670.0 H546.7 M540.7,700.3 H546.7" stroke="#c2c2c2" stroke-width="0.9" fill="none"/>
<path d="M569.2,650.6 V671.7 M566.2,650.6 H572.2 M566.2,671.7 H572.2" stroke="#c2c2c2" stroke-width="0.9" fill="none"/>
<circle cx="369.4" cy="738.9" r="3.5" fill="#c6c6c6" stroke="#b4b4b4" stroke-width="0.7"/>
<circle cx="391.2" cy="737.9" r="3.5" fill="#c6c6c6" stroke="#b4b4b4" stroke-width="0.7"/>
<circle cx="413.0" cy="732.2" r="3.5" fill="#c6c6c6" stroke="#b4b4b4" stroke-width="0.7"/>
<circle cx="434.8" cy="722.0" r="3.5" fill="#c6c6c6" stroke="#b4b4b4" stroke-width="0.7"/>
<circle cx="456.5" cy="714.2" r="3.5" fill="#c6c6c6" stroke="#b4b4b4" stroke-width="0.7"/>
<circle cx="478.3" cy="706.0" r="3.5" fill="#c6c6c6" stroke="#b4b4b4" stroke-width="0.7"/>
<circle cx="500.1" cy="701.0" r="3.5" fill="#c6c6c6" stroke="#b4b4b4" stroke-width="0.7"/>
<circle cx="543.7" cy="685.2" r="3.5" fill="#c6c6c6" stroke="#b4b4b4" stroke-width="0.7"/>
<circle cx="569.2" cy="661.1" r="3.5" fill="#c6c6c6" stroke="#b4b4b4" stroke-width="0.7"/>
<path d="M369.4,670.6 V677.4 M366.4,670.6 H372.4 M366.4,677.4 H372.4" stroke="#0b8a1c" stroke-width="0.9" fill="none"/>
<path d="M391.2,656.3 V663.0 M388.2,656.3 H394.2 M388.2,663.0 H394.2" stroke="#0b8a1c" stroke-width="0.9" fill="none"/>
<path d="M413.0,646.4 V653.1 M410.0,646.4 H416.0 M410.0,653.1 H416.0" stroke="#0b8a1c" stroke-width="0.9" fill="none"/>
<path d="M434.8,644.9 V651.7 M431.8,644.9 H437.8 M431.8,651.7 H437.8" stroke="#0b8a1c" stroke-width="0.9" fill="none"/>
<path d="M456.5,640.7 V647.4 M453.5,640.7 H459.5 M453.5,647.4 H459.5" stroke="#0b8a1c" stroke-width="0.9" fill="none"/>
<path d="M478.3,641.5 V648.3 M475.3,641.5 H481.3 M475.3,648.3 H481.3" stroke="#0b8a1c" stroke-width="0.9" fill="none"/>
<path d="M500.1,637.7 V644.5 M497.1,637.7 H503.1 M497.1,644.5 H503.1" stroke="#0b8a1c" stroke-width="0.9" fill="none"/>
<path d="M543.7,640.7 V647.4 M540.7,640.7 H546.7 M540.7,647.4 H546.7" stroke="#0b8a1c" stroke-width="0.9" fill="none"/>
<path d="M569.2,639.2 V646.0 M566.2,639.2 H572.2 M566.2,646.0 H572.2" stroke="#0b8a1c" stroke-width="0.9" fill="none"/>
<circle cx="369.4" cy="674.0" r="3.5" fill="#0b8a1c"/>
<circle cx="391.2" cy="659.7" r="3.5" fill="#0b8a1c"/>
<circle cx="413.0" cy="649.8" r="3.5" fill="#0b8a1c"/>
<circle cx="434.8" cy="648.3" r="3.5" fill="#0b8a1c"/>
<circle cx="456.5" cy="644.1" r="3.5" fill="#0b8a1c"/>
<circle cx="478.3" cy="644.9" r="3.5" fill="#0b8a1c"/>
<circle cx="500.1" cy="641.1" r="3.5" fill="#0b8a1c"/>
<circle cx="543.7" cy="644.1" r="3.5" fill="#0b8a1c"/>
<circle cx="569.2" cy="642.6" r="3.5" fill="#0b8a1c"/>
<path d="M502.2,784.2 H521.4" stroke="#3da848" stroke-width="1.9"/><circle cx="511.8" cy="784.2" r="3.5" fill="#0b8a1c"/>
<text x="527.4" y="788.2">Fast sites</text><text x="526.6" y="802.9">Slow site:</text>
<path d="M502.2,813.5 H521.4" stroke="#9c9c9c" stroke-width="1.9"/><circle cx="511.8" cy="813.5" r="3.5" fill="#a8a8a8"/>
<text x="527.4" y="817.3">Cm1272</text>
<text x="269.4" y="720.6">SSU</text>
<path d="M311.8,610.6 H302.5 V828.4 H311.8" stroke="#ee2a3a" stroke-width="1.3" fill="none"/>
<text transform="translate(323.3,722.4) rotate(-90)" text-anchor="middle" textLength="134" lengthAdjust="spacing">2′-O-methylation (ScoreC)</text>
<rect x="369.4" y="860" width="29.10" height="211.75" fill="#e7f6ed"/>
<rect x="398.5" y="860" width="45.00" height="211.75" fill="#fde8e8"/>
<rect x="443.5" y="860" width="100.40" height="211.75" fill="#e7eff8"/>
<path d="M398.5,860 V1071.75" stroke="#fff" stroke-width="2.2"/>
<path d="M398.5,860 V1071.75" stroke="#222" stroke-width="1" stroke-dasharray="4,2.7"/>
<path d="M443.5,860 V1071.75" stroke="#fff" stroke-width="2.2"/>
<path d="M443.5,860 V1071.75" stroke="#222" stroke-width="1" stroke-dasharray="4,2.7"/>
<path d="M369.4,860 V1071.75" stroke="#666" stroke-width="0.8"/>
<path d="M362.5,1071.75 H543.6999999999999 M554.25,1071.75 H588" stroke="#444" stroke-width="0.8"/>
<path d="M543.6999999999999,1066.75 V1077.75 M554.25,1066.75 V1077.75" stroke="#333" stroke-width="0.8"/>
<path d="M369.40,1071.75 V1078.25" stroke="#444" stroke-width="0.8"/>
<path d="M391.19,1071.75 V1075.75" stroke="#444" stroke-width="0.8"/>
<path d="M412.97,1071.75 V1078.25" stroke="#444" stroke-width="0.8"/>
<path d="M434.76,1071.75 V1075.75" stroke="#444" stroke-width="0.8"/>
<path d="M456.55,1071.75 V1078.25" stroke="#444" stroke-width="0.8"/>
<path d="M478.34,1071.75 V1075.75" stroke="#444" stroke-width="0.8"/>
<path d="M500.12,1071.75 V1078.25" stroke="#444" stroke-width="0.8"/>
<path d="M521.91,1071.75 V1075.75" stroke="#444" stroke-width="0.8"/>
<path d="M574.2,1071.75 V1077.75" stroke="#444" stroke-width="0.8"/>
<path d="M362.5,1071.75 H369.4" stroke="#444" stroke-width="0.8"/>
<text class="n" x="355.3" y="1075.7" text-anchor="end">0</text>
<path d="M362.5,1029.40 H369.4" stroke="#444" stroke-width="0.8"/>
<text class="n" x="355.3" y="1033.3" text-anchor="end">0.2</text>
<path d="M362.5,987.05 H369.4" stroke="#444" stroke-width="0.8"/>
<text class="n" x="355.3" y="990.9" text-anchor="end">0.4</text>
<path d="M362.5,944.70 H369.4" stroke="#444" stroke-width="0.8"/>
<text class="n" x="355.3" y="948.6" text-anchor="end">0.6</text>
<path d="M362.5,902.35 H369.4" stroke="#444" stroke-width="0.8"/>
<text class="n" x="355.3" y="906.2" text-anchor="end">0.8</text>
<path d="M362.5,860.00 H369.4" stroke="#444" stroke-width="0.8"/>
<text class="n" x="355.3" y="863.9" text-anchor="end">1.0</text>
<text class="n" x="369.4" y="1093.6" text-anchor="middle">0</text>
<text class="n" x="413.0" y="1093.6" text-anchor="middle">30</text>
<text class="n" x="456.5" y="1093.6" text-anchor="middle">60</text>
<text class="n" x="500.1" y="1093.6" text-anchor="middle">90</text>
<text class="n" x="544.9" y="1093.6" text-anchor="middle">120</text>
<text class="n" x="575.0" y="1093.6" text-anchor="middle">250</text>
<path d="M369.4,978.8 L391.2,943.4 L413.0,916.1 L434.8,883.5 L456.5,879.3 L478.3,881.6 L500.1,876.5 L543.7,877.6" fill="none" stroke="#b8b8b8" stroke-width="1.9" stroke-linejoin="round"/>
<path d="M369.4,1071.8 L391.2,1071.8 L413.0,1060.5 L434.8,1043.4 L456.5,988.7 L478.3,945.5 L500.1,896.8 L543.7,907.9" fill="none" stroke="#909090" stroke-width="1.9" stroke-linejoin="round"/>
<path d="M369.4,919.5 L391.2,906.8 L413.0,898.8 L434.8,897.3 L456.5,893.0 L478.3,894.5 L500.1,887.5 L543.7,892.6" fill="none" stroke="#4cb455" stroke-width="1.9" stroke-linejoin="round"/>
<clipPath id="h2r"><rect x="553.65" y="848" width="38.85000000000002" height="223.75"/></clipPath>
<g clip-path="url(#h2r)">
<path d="M543.7,877.6 L569.2,875.0" fill="none" stroke="#b8b8b8" stroke-width="1.9"/>
<path d="M543.7,907.9 L569.2,884.1" fill="none" stroke="#909090" stroke-width="1.9"/>
<path d="M543.7,892.6 L569.2,891.1" fill="none" stroke="#4cb455" stroke-width="1.9"/>
</g>
<path d="M369.4,971.2 V986.4 M366.4,971.2 H372.4 M366.4,986.4 H372.4" stroke="#b8b8b8" stroke-width="0.9" fill="none"/>
<path d="M413.0,905.1 V927.1 M410.0,905.1 H416.0 M410.0,927.1 H416.0" stroke="#b8b8b8" stroke-width="0.9" fill="none"/>
<path d="M434.8,878.0 V889.0 M431.8,878.0 H437.8 M431.8,889.0 H437.8" stroke="#b8b8b8" stroke-width="0.9" fill="none"/>
<path d="M543.7,875.0 V880.1 M540.7,875.0 H546.7 M540.7,880.1 H546.7" stroke="#b8b8b8" stroke-width="0.9" fill="none"/>
<circle cx="369.4" cy="978.8" r="3.5" fill="#cacaca" stroke="#b0b0b0" stroke-width="0.7"/>
<circle cx="391.2" cy="943.4" r="3.5" fill="#cacaca" stroke="#b0b0b0" stroke-width="0.7"/>
<circle cx="413.0" cy="916.1" r="3.5" fill="#cacaca" stroke="#b0b0b0" stroke-width="0.7"/>
<circle cx="434.8" cy="883.5" r="3.5" fill="#cacaca" stroke="#b0b0b0" stroke-width="0.7"/>
<circle cx="456.5" cy="879.3" r="3.5" fill="#cacaca" stroke="#b0b0b0" stroke-width="0.7"/>
<circle cx="478.3" cy="881.6" r="3.5" fill="#cacaca" stroke="#b0b0b0" stroke-width="0.7"/>
<circle cx="500.1" cy="876.5" r="3.5" fill="#cacaca" stroke="#b0b0b0" stroke-width="0.7"/>
<circle cx="543.7" cy="877.6" r="3.5" fill="#cacaca" stroke="#b0b0b0" stroke-width="0.7"/>
<circle cx="569.2" cy="875.0" r="3.5" fill="#cacaca" stroke="#b0b0b0" stroke-width="0.7"/>
<path d="M434.8,1037.0 V1049.7 M431.8,1037.0 H437.8 M431.8,1049.7 H437.8" stroke="#909090" stroke-width="0.9" fill="none"/>
<path d="M456.5,969.3 V1008.2 M453.5,969.3 H459.5 M453.5,1008.2 H459.5" stroke="#909090" stroke-width="0.9" fill="none"/>
<path d="M478.3,935.0 V956.1 M475.3,935.0 H481.3 M475.3,956.1 H481.3" stroke="#909090" stroke-width="0.9" fill="none"/>
<path d="M500.1,887.3 V906.4 M497.1,887.3 H503.1 M497.1,906.4 H503.1" stroke="#909090" stroke-width="0.9" fill="none"/>
<circle cx="369.4" cy="1071.8" r="3.5" fill="#b4b4b4" stroke="#8e8e8e" stroke-width="0.7"/>
<circle cx="391.2" cy="1071.8" r="3.5" fill="#b4b4b4" stroke="#8e8e8e" stroke-width="0.7"/>
<circle cx="413.0" cy="1060.5" r="3.5" fill="#b4b4b4" stroke="#8e8e8e" stroke-width="0.7"/>
<circle cx="434.8" cy="1043.4" r="3.5" fill="#b4b4b4" stroke="#8e8e8e" stroke-width="0.7"/>
<circle cx="456.5" cy="988.7" r="3.5" fill="#b4b4b4" stroke="#8e8e8e" stroke-width="0.7"/>
<circle cx="478.3" cy="945.5" r="3.5" fill="#b4b4b4" stroke="#8e8e8e" stroke-width="0.7"/>
<circle cx="500.1" cy="896.8" r="3.5" fill="#b4b4b4" stroke="#8e8e8e" stroke-width="0.7"/>
<circle cx="543.7" cy="907.9" r="3.5" fill="#b4b4b4" stroke="#8e8e8e" stroke-width="0.7"/>
<circle cx="569.2" cy="884.1" r="3.5" fill="#b4b4b4" stroke="#8e8e8e" stroke-width="0.7"/>
<path d="M369.4,916.5 V922.5 M366.4,916.5 H372.4 M366.4,922.5 H372.4" stroke="#0b8a1c" stroke-width="0.9" fill="none"/>
<path d="M413.0,895.8 V901.7 M410.0,895.8 H416.0 M410.0,901.7 H416.0" stroke="#0b8a1c" stroke-width="0.9" fill="none"/>
<path d="M434.8,894.3 V900.2 M431.8,894.3 H437.8 M431.8,900.2 H437.8" stroke="#0b8a1c" stroke-width="0.9" fill="none"/>
<path d="M543.7,889.6 V895.6 M540.7,889.6 H546.7 M540.7,895.6 H546.7" stroke="#0b8a1c" stroke-width="0.9" fill="none"/>
<path d="M569.2,888.2 V894.1 M566.2,888.2 H572.2 M566.2,894.1 H572.2" stroke="#0b8a1c" stroke-width="0.9" fill="none"/>
<circle cx="369.4" cy="919.5" r="3.5" fill="#0b8a1c"/>
<circle cx="391.2" cy="906.8" r="3.5" fill="#0b8a1c"/>
<circle cx="413.0" cy="898.8" r="3.5" fill="#0b8a1c"/>
<circle cx="434.8" cy="897.3" r="3.5" fill="#0b8a1c"/>
<circle cx="456.5" cy="893.0" r="3.5" fill="#0b8a1c"/>
<circle cx="478.3" cy="894.5" r="3.5" fill="#0b8a1c"/>
<circle cx="500.1" cy="887.5" r="3.5" fill="#0b8a1c"/>
<circle cx="543.7" cy="892.6" r="3.5" fill="#0b8a1c"/>
<circle cx="569.2" cy="891.1" r="3.5" fill="#0b8a1c"/>
<path d="M493,1013.4 H511.8" stroke="#3da848" stroke-width="1.9"/><circle cx="502.4" cy="1013.4" r="3.5" fill="#0b8a1c"/>
<text x="519.3" y="1017.2">Fast sites</text><text x="519.3" y="1032.4">Slow sites:</text>
<path d="M493,1042 H511.8" stroke="#b8b8b8" stroke-width="1.9"/><circle cx="502.4" cy="1042" r="3.5" fill="#c2c2c2"/>
<text x="519.3" y="1046">Cm3808</text>
<path d="M493,1058.4 H511.8" stroke="#909090" stroke-width="1.9"/><circle cx="502.4" cy="1058.4" r="3.5" fill="#a4a4a4"/>
<text x="519.3" y="1062.4">Um4498</text>
<text x="269.4" y="968.9">LSU</text>
<path d="M311.8,856 H302.5 V1073.2 H311.8" stroke="#3f48a8" stroke-width="1.3" fill="none"/>
<text transform="translate(323.3,966.6) rotate(-90)" text-anchor="middle" textLength="134" lengthAdjust="spacing">2′-O-methylation (ScoreC)</text>
<text x="479.4" y="1113.8" text-anchor="middle" textLength="86" lengthAdjust="spacing">Chase time (min)</text>
<!-- pi -->
<text class="pl" x="607" y="535.9">i</text>
<text x="742.6" y="569.5" text-anchor="middle">Cleavage</text>
<linearGradient id="gbi" x1="0" x2="1"><stop offset="0" stop-color="#10e814"/><stop offset="0.06" stop-color="#20dc14"/><stop offset="0.14" stop-color="#6a9a12"/><stop offset="0.19" stop-color="#9a6410"/><stop offset="0.25" stop-color="#d42a14"/><stop offset="0.31" stop-color="#f20c24"/><stop offset="0.36" stop-color="#ee0c50"/><stop offset="0.41" stop-color="#d40ca0"/><stop offset="0.46" stop-color="#8c0ce0"/><stop offset="0.52" stop-color="#5e06f8"/><stop offset="1" stop-color="#5400fa"/></linearGradient>
<rect x="658.3" y="579" width="177.20" height="15.00" fill="url(#gbi)"/>
<path d="M658.3,579.3 H835.5" stroke="#1a1a1a" stroke-width="0.7"/><path d="M658.3,593.8 H835.5" stroke="#333" stroke-width="0.5" opacity="0.6"/>
<path d="M658.6999999999999,579 V595.5 M835.1,579 V595.5" stroke="#1a1a1a" stroke-width="0.7"/>
<path d="M688.5,579 V594" stroke="#111" stroke-width="0.8" stroke-dasharray="2.2,1.4"/>
<path d="M733.5,579 V594" stroke="#111" stroke-width="0.8" stroke-dasharray="2.2,1.4"/>
<text x="632.4" y="590.6">5eU</text>
<text x="666.1" y="590.6" style="fill:#fff">FC</text>
<text x="701.5" y="590.6" style="fill:#fff">DFC</text>
<text x="772" y="590.6" style="fill:#fff">GC</text>
<path d="M659.5,594 V596.2" stroke="#444" stroke-width="0.7"/>
<text class="n" x="659.7" y="608.1" text-anchor="middle">0</text>
<path d="M688.5,594 V596.2" stroke="#444" stroke-width="0.7"/>
<text class="n" x="688.8" y="608.1" text-anchor="middle">20</text>
<path d="M717.6,594 V596.2" stroke="#444" stroke-width="0.7"/>
<text class="n" x="717.9" y="608.1" text-anchor="middle">40</text>
<path d="M746.6,594 V596.2" stroke="#444" stroke-width="0.7"/>
<text class="n" x="746.9" y="608.1" text-anchor="middle">60</text>
<path d="M775.7,594 V596.2" stroke="#444" stroke-width="0.7"/>
<text class="n" x="776.0" y="608.1" text-anchor="middle">80</text>
<path d="M804.8,594 V596.2" stroke="#444" stroke-width="0.7"/>
<text class="n" x="805.0" y="608.1" text-anchor="middle">100</text>
<path d="M833.8,594 V596.2" stroke="#444" stroke-width="0.7"/>
<text class="n" x="834.1" y="608.1" text-anchor="middle">120</text>
<text x="846.4" y="608.1">min</text>
<rect x="659.5" y="617.5" width="29.00" height="210.75" fill="#e7f6ed"/>
<rect x="688.5" y="617.5" width="45.00" height="210.75" fill="#fde8e8"/>
<rect x="733.5" y="617.5" width="100.70" height="210.75" fill="#e7eff8"/>
<path d="M688.5,617.5 V828.25" stroke="#fff" stroke-width="2.2"/>
<path d="M688.5,617.5 V828.25" stroke="#222" stroke-width="1" stroke-dasharray="4,2.7"/>
<path d="M733.5,617.5 V828.25" stroke="#fff" stroke-width="2.2"/>
<path d="M733.5,617.5 V828.25" stroke="#222" stroke-width="1" stroke-dasharray="4,2.7"/>
<path d="M659.5,617.5 V828.25" stroke="#666" stroke-width="0.8"/>
<path d="M652.5,828.25 H833.8 M844.25,828.25 H878" stroke="#444" stroke-width="0.8"/>
<path d="M833.8,823.25 V834.25 M844.25,823.25 V834.25" stroke="#333" stroke-width="0.8"/>
<path d="M659.50,828.25 V834.75" stroke="#444" stroke-width="0.8"/>
<path d="M681.29,828.25 V832.25" stroke="#444" stroke-width="0.8"/>
<path d="M703.08,828.25 V834.75" stroke="#444" stroke-width="0.8"/>
<path d="M724.86,828.25 V832.25" stroke="#444" stroke-width="0.8"/>
<path d="M746.65,828.25 V834.75" stroke="#444" stroke-width="0.8"/>
<path d="M768.44,828.25 V832.25" stroke="#444" stroke-width="0.8"/>
<path d="M790.23,828.25 V834.75" stroke="#444" stroke-width="0.8"/>
<path d="M812.01,828.25 V832.25" stroke="#444" stroke-width="0.8"/>
<path d="M863.75,828.25 V834.25" stroke="#444" stroke-width="0.8"/>
<path d="M652.5,828.25 H659.5" stroke="#444" stroke-width="0.8"/>
<text class="n" x="645.3" y="832.1" text-anchor="end">0</text>
<path d="M652.5,786.10 H659.5" stroke="#444" stroke-width="0.8"/>
<text class="n" x="645.3" y="790.0" text-anchor="end">0.2</text>
<path d="M652.5,743.95 H659.5" stroke="#444" stroke-width="0.8"/>
<text class="n" x="645.3" y="747.9" text-anchor="end">0.4</text>
<path d="M652.5,701.80 H659.5" stroke="#444" stroke-width="0.8"/>
<text class="n" x="645.3" y="705.7" text-anchor="end">0.6</text>
<path d="M652.5,659.65 H659.5" stroke="#444" stroke-width="0.8"/>
<text class="n" x="645.3" y="663.5" text-anchor="end">0.8</text>
<path d="M652.5,617.50 H659.5" stroke="#444" stroke-width="0.8"/>
<text class="n" x="645.3" y="621.4" text-anchor="end">1.0</text>
<path d="M659.5,810.3 L681.3,806.8 L703.1,790.3 L724.9,736.4 L746.6,664.5 L768.4,637.1 L790.2,633.3 L833.8,624.7" fill="none" stroke="#f29aca" stroke-width="1.9" stroke-linejoin="round"/>
<path d="M659.5,788.0 L681.3,737.0 L703.1,705.4 L724.9,674.2 L746.6,664.5 L768.4,642.8 L790.2,642.8 L833.8,628.5" fill="none" stroke="#5aae62" stroke-width="1.9" stroke-linejoin="round"/>
<path d="M659.5,821.3 L681.3,820.5 L703.1,800.2 L724.9,752.0 L746.6,692.9 L768.4,655.0 L790.2,650.6 L833.8,624.7" fill="none" stroke="#dc1c40" stroke-width="1.9" stroke-linejoin="round"/>
<clipPath id="i1r"><rect x="843.65" y="605.5" width="38.85000000000002" height="222.75"/></clipPath>
<g clip-path="url(#i1r)">
<path d="M833.8,624.7 L858.8,621.1" fill="none" stroke="#f29aca" stroke-width="1.9"/>
<path d="M833.8,628.5 L858.8,628.5" fill="none" stroke="#5aae62" stroke-width="1.9"/>
<path d="M833.8,624.7 L858.8,619.6" fill="none" stroke="#dc1c40" stroke-width="1.9"/>
</g>
<path d="M703.1,787.2 V793.5 M700.1,787.2 H706.1 M700.1,793.5 H706.1" stroke="#ee62b6" stroke-width="0.9" fill="none"/>
<path d="M768.4,632.9 V641.3 M765.4,632.9 H771.4 M765.4,641.3 H771.4" stroke="#ee62b6" stroke-width="0.9" fill="none"/>
<path d="M790.2,630.8 V635.8 M787.2,630.8 H793.2 M787.2,635.8 H793.2" stroke="#ee62b6" stroke-width="0.9" fill="none"/>
<circle cx="659.5" cy="810.3" r="3.5" fill="#ee62b6"/>
<circle cx="681.3" cy="806.8" r="3.5" fill="#ee62b6"/>
<circle cx="703.1" cy="790.3" r="3.5" fill="#ee62b6"/>
<circle cx="724.9" cy="736.4" r="3.5" fill="#ee62b6"/>
<circle cx="746.6" cy="664.5" r="3.5" fill="#ee62b6"/>
<circle cx="768.4" cy="637.1" r="3.5" fill="#ee62b6"/>
<circle cx="790.2" cy="633.3" r="3.5" fill="#ee62b6"/>
<circle cx="833.8" cy="624.7" r="3.5" fill="#ee62b6"/>
<circle cx="858.8" cy="621.1" r="3.5" fill="#ee62b6"/>
<path d="M681.3,733.8 V740.2 M678.3,733.8 H684.3 M678.3,740.2 H684.3" stroke="#0b8a1c" stroke-width="0.9" fill="none"/>
<path d="M703.1,702.2 V708.5 M700.1,702.2 H706.1 M700.1,708.5 H706.1" stroke="#0b8a1c" stroke-width="0.9" fill="none"/>
<path d="M768.4,637.5 V648.1 M765.4,637.5 H771.4 M765.4,648.1 H771.4" stroke="#0b8a1c" stroke-width="0.9" fill="none"/>
<path d="M790.2,639.6 V646.0 M787.2,639.6 H793.2 M787.2,646.0 H793.2" stroke="#0b8a1c" stroke-width="0.9" fill="none"/>
<path d="M858.8,625.3 V631.6 M855.8,625.3 H861.8 M855.8,631.6 H861.8" stroke="#0b8a1c" stroke-width="0.9" fill="none"/>
<circle cx="659.5" cy="788.0" r="3.5" fill="#0b8a1c"/>
<circle cx="681.3" cy="737.0" r="3.5" fill="#0b8a1c"/>
<circle cx="703.1" cy="705.4" r="3.5" fill="#0b8a1c"/>
<circle cx="724.9" cy="674.2" r="3.5" fill="#0b8a1c"/>
<circle cx="746.6" cy="664.5" r="3.5" fill="#0b8a1c"/>
<circle cx="768.4" cy="642.8" r="3.5" fill="#0b8a1c"/>
<circle cx="790.2" cy="642.8" r="3.5" fill="#0b8a1c"/>
<circle cx="833.8" cy="628.5" r="3.5" fill="#0b8a1c"/>
<circle cx="858.8" cy="628.5" r="3.5" fill="#0b8a1c"/>
<path d="M724.9,747.7 V756.2 M721.9,747.7 H727.9 M721.9,756.2 H727.9" stroke="#dc1c40" stroke-width="0.9" fill="none"/>
<path d="M746.6,686.6 V699.3 M743.6,686.6 H749.6 M743.6,699.3 H749.6" stroke="#dc1c40" stroke-width="0.9" fill="none"/>
<path d="M768.4,646.2 V663.9 M765.4,646.2 H771.4 M765.4,663.9 H771.4" stroke="#dc1c40" stroke-width="0.9" fill="none"/>
<circle cx="659.5" cy="821.3" r="3.5" fill="#dc1c40"/>
<circle cx="681.3" cy="820.5" r="3.5" fill="#dc1c40"/>
<circle cx="703.1" cy="800.2" r="3.5" fill="#dc1c40"/>
<circle cx="724.9" cy="752.0" r="3.5" fill="#dc1c40"/>
<circle cx="746.6" cy="692.9" r="3.5" fill="#dc1c40"/>
<circle cx="768.4" cy="655.0" r="3.5" fill="#dc1c40"/>
<circle cx="790.2" cy="650.6" r="3.5" fill="#dc1c40"/>
<circle cx="833.8" cy="624.7" r="3.5" fill="#dc1c40"/>
<circle cx="858.8" cy="619.6" r="3.5" fill="#dc1c40"/>
<path d="M799.6,775.6 H819" stroke="#5aae62" stroke-width="1.9"/><circle cx="809.3" cy="775.6" r="3.5" fill="#0b8a1c"/>
<text x="824.5" y="771.1">Site 01</text><text x="824.5" y="785.5">(5′ ETS)</text>
<path d="M799.6,798.6 H819" stroke="#dc1c40" stroke-width="1.9"/><circle cx="809.3" cy="798.6" r="3.5" fill="#dc1c40"/><text x="824.5" y="802.3">Site 1</text>
<path d="M799.6,814.2 H819" stroke="#ee62b6" stroke-width="1.9"/><circle cx="809.3" cy="814.2" r="3.5" fill="#ee62b6"/><text x="824.5" y="818">Site 2</text>
<text transform="translate(616.2,723) rotate(-90)" text-anchor="middle" textLength="85" lengthAdjust="spacing">Fraction cleaved</text>
<rect x="659.5" y="860.75" width="30.00" height="210.50" fill="#e7f6ed"/>
<rect x="689.5" y="860.75" width="45.50" height="210.50" fill="#fde8e8"/>
<rect x="735" y="860.75" width="100.00" height="210.50" fill="#e7eff8"/>
<path d="M689.5,860.75 V1071.25" stroke="#fff" stroke-width="2.2"/>
<path d="M689.5,860.75 V1071.25" stroke="#222" stroke-width="1" stroke-dasharray="4,2.7"/>
<path d="M735,860.75 V1071.25" stroke="#fff" stroke-width="2.2"/>
<path d="M735,860.75 V1071.25" stroke="#222" stroke-width="1" stroke-dasharray="4,2.7"/>
<path d="M659.5,860.75 V1071.25" stroke="#666" stroke-width="0.8"/>
<path d="M652.5,1071.25 H833.8 M844.25,1071.25 H878" stroke="#444" stroke-width="0.8"/>
<path d="M833.8,1066.25 V1077.25 M844.25,1066.25 V1077.25" stroke="#333" stroke-width="0.8"/>
<path d="M659.50,1071.25 V1077.75" stroke="#444" stroke-width="0.8"/>
<path d="M681.29,1071.25 V1075.25" stroke="#444" stroke-width="0.8"/>
<path d="M703.08,1071.25 V1077.75" stroke="#444" stroke-width="0.8"/>
<path d="M724.86,1071.25 V1075.25" stroke="#444" stroke-width="0.8"/>
<path d="M746.65,1071.25 V1077.75" stroke="#444" stroke-width="0.8"/>
<path d="M768.44,1071.25 V1075.25" stroke="#444" stroke-width="0.8"/>
<path d="M790.23,1071.25 V1077.75" stroke="#444" stroke-width="0.8"/>
<path d="M812.01,1071.25 V1075.25" stroke="#444" stroke-width="0.8"/>
<path d="M863.75,1071.25 V1077.25" stroke="#444" stroke-width="0.8"/>
<path d="M652.5,1071.25 H659.5" stroke="#444" stroke-width="0.8"/>
<text class="n" x="645.3" y="1075.2" text-anchor="end">0</text>
<path d="M652.5,1029.15 H659.5" stroke="#444" stroke-width="0.8"/>
<text class="n" x="645.3" y="1033.1" text-anchor="end">0.2</text>
<path d="M652.5,987.05 H659.5" stroke="#444" stroke-width="0.8"/>
<text class="n" x="645.3" y="990.9" text-anchor="end">0.4</text>
<path d="M652.5,944.95 H659.5" stroke="#444" stroke-width="0.8"/>
<text class="n" x="645.3" y="948.9" text-anchor="end">0.6</text>
<path d="M652.5,902.85 H659.5" stroke="#444" stroke-width="0.8"/>
<text class="n" x="645.3" y="906.8" text-anchor="end">0.8</text>
<path d="M652.5,860.75 H659.5" stroke="#444" stroke-width="0.8"/>
<text class="n" x="645.3" y="864.6" text-anchor="end">1.0</text>
<text class="n" x="659.5" y="1091.3" text-anchor="middle">0</text>
<text class="n" x="703.1" y="1091.3" text-anchor="middle">30</text>
<text class="n" x="746.6" y="1091.3" text-anchor="middle">60</text>
<text class="n" x="790.2" y="1091.3" text-anchor="middle">90</text>
<text class="n" x="835.0" y="1091.3" text-anchor="middle">120</text>
<text class="n" x="864.5" y="1091.3" text-anchor="middle">250</text>
<path d="M659.5,996.7 L681.3,976.5 L703.1,912.1 L724.9,887.7 L746.6,871.7 L768.4,868.5 L790.2,867.7 L833.8,867.1" fill="none" stroke="#5aae62" stroke-width="1.9" stroke-linejoin="round"/>
<path d="M659.5,1055.9 L681.3,1056.7 L703.1,1055.3 L724.9,1056.7 L746.6,1033.8 L768.4,995.9 L790.2,978.2 L833.8,934.2" fill="none" stroke="#2e3192" stroke-width="1.9" stroke-linejoin="round"/>
<path d="M659.5,1055.3 L681.3,1057.1 L703.1,1058.8 L724.9,1060.3 L746.6,1047.5 L768.4,997.8 L790.2,961.4 L833.8,911.3" fill="none" stroke="#0433ff" stroke-width="1.9" stroke-linejoin="round"/>
<path d="M659.5,1052.5 L681.3,1049.8 L703.1,1033.1 L724.9,979.9 L746.6,907.9 L768.4,881.0 L790.2,877.4 L833.8,867.1" fill="none" stroke="#f29aca" stroke-width="1.9" stroke-linejoin="round"/>
<clipPath id="i2r"><rect x="843.65" y="848.75" width="38.85000000000002" height="222.5"/></clipPath>
<g clip-path="url(#i2r)">
<path d="M833.8,867.1 L858.8,866.2" fill="none" stroke="#5aae62" stroke-width="1.9"/>
<path d="M833.8,934.2 L858.8,891.3" fill="none" stroke="#2e3192" stroke-width="1.9"/>
<path d="M833.8,911.3 L858.8,876.5" fill="none" stroke="#0433ff" stroke-width="1.9"/>
<path d="M833.8,867.1 L858.8,864.3" fill="none" stroke="#f29aca" stroke-width="1.9"/>
</g>
<path d="M659.5,977.4 V1016.1 M656.5,977.4 H662.5 M656.5,1016.1 H662.5" stroke="#0b8a1c" stroke-width="0.9" fill="none"/>
<path d="M681.3,970.2 V982.8 M678.3,970.2 H684.3 M678.3,982.8 H684.3" stroke="#0b8a1c" stroke-width="0.9" fill="none"/>
<path d="M724.9,885.2 V890.2 M721.9,885.2 H727.9 M721.9,890.2 H727.9" stroke="#0b8a1c" stroke-width="0.9" fill="none"/>
<circle cx="659.5" cy="996.7" r="3.5" fill="#0b8a1c"/>
<circle cx="681.3" cy="976.5" r="3.5" fill="#0b8a1c"/>
<circle cx="703.1" cy="912.1" r="3.5" fill="#0b8a1c"/>
<circle cx="724.9" cy="887.7" r="3.5" fill="#0b8a1c"/>
<circle cx="746.6" cy="871.7" r="3.5" fill="#0b8a1c"/>
<circle cx="768.4" cy="868.5" r="3.5" fill="#0b8a1c"/>
<circle cx="790.2" cy="867.7" r="3.5" fill="#0b8a1c"/>
<circle cx="833.8" cy="867.1" r="3.5" fill="#0b8a1c"/>
<circle cx="858.8" cy="866.2" r="3.5" fill="#0b8a1c"/>
<path d="M746.6,1029.6 V1038.0 M743.6,1029.6 H749.6 M743.6,1038.0 H749.6" stroke="#2e3192" stroke-width="0.9" fill="none"/>
<path d="M768.4,984.3 V1007.5 M765.4,984.3 H771.4 M765.4,1007.5 H771.4" stroke="#2e3192" stroke-width="0.9" fill="none"/>
<circle cx="659.5" cy="1055.9" r="3.5" fill="#2e3192"/>
<circle cx="681.3" cy="1056.7" r="3.5" fill="#2e3192"/>
<circle cx="703.1" cy="1055.3" r="3.5" fill="#2e3192"/>
<circle cx="724.9" cy="1056.7" r="3.5" fill="#2e3192"/>
<circle cx="746.6" cy="1033.8" r="3.5" fill="#2e3192"/>
<circle cx="768.4" cy="995.9" r="3.5" fill="#2e3192"/>
<circle cx="790.2" cy="978.2" r="3.5" fill="#2e3192"/>
<circle cx="833.8" cy="934.2" r="3.5" fill="#2e3192"/>
<circle cx="858.8" cy="891.3" r="3.5" fill="#2e3192"/>
<path d="M746.6,1042.2 V1052.7 M743.6,1042.2 H749.6 M743.6,1052.7 H749.6" stroke="#0433ff" stroke-width="0.9" fill="none"/>
<path d="M768.4,983.1 V1012.5 M765.4,983.1 H771.4 M765.4,1012.5 H771.4" stroke="#0433ff" stroke-width="0.9" fill="none"/>
<path d="M790.2,950.8 V971.9 M787.2,950.8 H793.2 M787.2,971.9 H793.2" stroke="#0433ff" stroke-width="0.9" fill="none"/>
<path d="M833.8,905.0 V917.6 M830.8,905.0 H836.8 M830.8,917.6 H836.8" stroke="#0433ff" stroke-width="0.9" fill="none"/>
<circle cx="659.5" cy="1055.3" r="3.5" fill="#0433ff"/>
<circle cx="681.3" cy="1057.1" r="3.5" fill="#0433ff"/>
<circle cx="703.1" cy="1058.8" r="3.5" fill="#0433ff"/>
<circle cx="724.9" cy="1060.3" r="3.5" fill="#0433ff"/>
<circle cx="746.6" cy="1047.5" r="3.5" fill="#0433ff"/>
<circle cx="768.4" cy="997.8" r="3.5" fill="#0433ff"/>
<circle cx="790.2" cy="961.4" r="3.5" fill="#0433ff"/>
<circle cx="833.8" cy="911.3" r="3.5" fill="#0433ff"/>
<circle cx="858.8" cy="876.5" r="3.5" fill="#0433ff"/>
<path d="M703.1,1030.0 V1036.3 M700.1,1030.0 H706.1 M700.1,1036.3 H706.1" stroke="#ee62b6" stroke-width="0.9" fill="none"/>
<path d="M746.6,904.1 V911.7 M743.6,904.1 H749.6 M743.6,911.7 H749.6" stroke="#ee62b6" stroke-width="0.9" fill="none"/>
<path d="M768.4,876.7 V885.2 M765.4,876.7 H771.4 M765.4,885.2 H771.4" stroke="#ee62b6" stroke-width="0.9" fill="none"/>
<path d="M790.2,874.9 V879.9 M787.2,874.9 H793.2 M787.2,879.9 H793.2" stroke="#ee62b6" stroke-width="0.9" fill="none"/>
<circle cx="659.5" cy="1052.5" r="3.5" fill="#ee62b6"/>
<circle cx="681.3" cy="1049.8" r="3.5" fill="#ee62b6"/>
<circle cx="703.1" cy="1033.1" r="3.5" fill="#ee62b6"/>
<circle cx="724.9" cy="979.9" r="3.5" fill="#ee62b6"/>
<circle cx="746.6" cy="907.9" r="3.5" fill="#ee62b6"/>
<circle cx="768.4" cy="881.0" r="3.5" fill="#ee62b6"/>
<circle cx="790.2" cy="877.4" r="3.5" fill="#ee62b6"/>
<circle cx="833.8" cy="867.1" r="3.5" fill="#ee62b6"/>
<circle cx="858.8" cy="864.3" r="3.5" fill="#ee62b6"/>
<path d="M797.8,1003 H816.2" stroke="#5aae62" stroke-width="1.9"/><circle cx="807" cy="1003" r="3.5" fill="#0b8a1c"/>
<text x="824.2" y="1000">Site 02</text><text x="824.2" y="1013.9">(3′ ETS)</text>
<path d="M797.8,1026.2 H816.2" stroke="#ee62b6" stroke-width="1.9"/><circle cx="807" cy="1026.2" r="3.5" fill="#ee62b6"/><text x="824.2" y="1029.8">Site 2</text>
<path d="M797.8,1041.4 H816.2" stroke="#0433ff" stroke-width="1.9"/><circle cx="807" cy="1041.4" r="3.5" fill="#0433ff"/><text x="824.2" y="1045.0">Site 4′</text>
<path d="M797.8,1055.2 H816.2" stroke="#2e3192" stroke-width="1.9"/><circle cx="807" cy="1055.2" r="3.5" fill="#2e3192"/><text x="824.2" y="1058.8">ITS2-28S</text>
<text transform="translate(616.2,965.4) rotate(-90)" text-anchor="middle" textLength="85" lengthAdjust="spacing">Fraction cleaved</text>
<text x="768.8" y="1110.9" text-anchor="middle" textLength="86" lengthAdjust="spacing">Chase time (min)</text>
<!-- pj -->
<text class="pl" x="910.4" y="534.8">j</text>
<text x="935.8" y="548.6">FISH</text><text x="929.6" y="562.4">probes</text>
<rect x="975.4" y="544" width="210.5" height="13.7" rx="1.2" fill="#e6e6e7"/>
<rect x="1031.8" y="544" width="29.3" height="13.7" fill="#bdbdbf"/>
<rect x="1077.9" y="544" width="2.8" height="13.7" fill="#bdbdbf"/>
<rect x="1097.7" y="544" width="78.5" height="13.7" fill="#bdbdbf"/>
<text x="990.4" y="555.3" style="fill:#808080">5′ ETS</text><text x="1036.5" y="555.3">18S</text><text x="1125.6" y="555.3">28S</text>
<text x="1037.7" y="535.8" style="fill:#8b2f9a">18S</text><rect x="1042.5" y="539.4" width="10.1" height="3" fill="#8b2f9a"/>
<text x="1067" y="540.4">5.8S</text>
<text x="1110.4" y="535.8" style="fill:#8b2f9a">28S</text><rect x="1113.6" y="539.4" width="10.1" height="3" fill="#8b2f9a"/>
<text x="1166.2" y="540.4" style="fill:#808080">3′ ETS</text>
<text class="n" x="976.1" y="570">01</text>
<text x="993.8" y="570">A0</text>
<text class="n" x="1030.1" y="570">1</text>
<text class="n" x="1058.5" y="570">3</text>
<text class="n" x="1070.7" y="570">2</text>
<text x="1078.3" y="570">4a</text>
<text x="1094.2" y="570">3′</text>
<text class="n" x="1171.4" y="570">02</text>
<path d="M981.8,557.7 V560" stroke="#999" stroke-width="0.6"/>
<path d="M1000.7,557.7 V560" stroke="#999" stroke-width="0.6"/>
<path d="M1031.8,557.7 V560" stroke="#999" stroke-width="0.6"/>
<path d="M1061.1,557.7 V560" stroke="#999" stroke-width="0.6"/>
<path d="M1075.5,557.7 V560" stroke="#999" stroke-width="0.6"/>
<path d="M1083.1,557.7 V560" stroke="#999" stroke-width="0.6"/>
<path d="M1097.7,557.7 V560" stroke="#999" stroke-width="0.6"/>
<path d="M1176.2,557.7 V560" stroke="#999" stroke-width="0.6"/>
<text x="934.9" y="580.7" style="fill:#7ee07e">5′ ETS</text><rect x="971.1" y="576" width="9.8" height="3.1" fill="#7ee07e"/>
<rect x="978.7" y="582.7" width="9.8" height="3.1" fill="#3da848"/><text x="970.6" y="597.2" style="fill:#3da848">Site 01</text>
<text x="1014.2" y="590.2" style="fill:#dc143c">Site 1</text><rect x="1026.6" y="576" width="9.2" height="3.1" fill="#dc143c"/>
<text x="1040.8" y="580.7" style="fill:#f250b0">Site 2</text><rect x="1073" y="576" width="9.2" height="3.1" fill="#f250b0"/>
<rect x="1092.2" y="576" width="9.8" height="3.1" fill="#8cd0f8"/><text x="1103.3" y="580.7" style="fill:#8cd0f8">Site 3′</text>
<rect x="1078.5" y="582.7" width="9.8" height="3.1" fill="#5a6af2"/><text x="1064.6" y="597.2" style="fill:#5a6af2">Site 4′</text>
<rect x="1096.8" y="582.7" width="10.1" height="3.1" fill="#2e3192"/><text x="1099.7" y="597.2" style="fill:#3b3f9f">ITS2-28S</text>
<rect x="1176.2" y="576" width="9.1" height="3.1" fill="#0b7a3a"/><text x="1162.8" y="590.2" style="fill:#0b7a3a">3′ ETS</text>
<text x="986.4" y="612.7" text-anchor="middle">Early</text>
<text x="1071.8" y="612.7" text-anchor="middle">Middle</text>
<text x="1150.8" y="612.7" text-anchor="middle">Late</text>
<radialGradient id="j00" gradientUnits="userSpaceOnUse" cx="989.1" cy="657.8" r="58.3"><stop offset="0" stop-color="#40ff50"/><stop offset="0.05" stop-color="#30f040"/><stop offset="0.1" stop-color="#18a020"/><stop offset="0.16" stop-color="#0a3c0c"/><stop offset="0.24" stop-color="#020e03"/><stop offset="0.45" stop-color="#031004"/><stop offset="0.8" stop-color="#041606"/><stop offset="1" stop-color="#051a07"/></radialGradient>
<radialGradient id="j01" gradientUnits="userSpaceOnUse" cx="1070.9" cy="657.8" r="58.3"><stop offset="0" stop-color="#ff2020"/><stop offset="0.07" stop-color="#ff1414"/><stop offset="0.16" stop-color="#c00808"/><stop offset="0.28" stop-color="#700404"/><stop offset="0.5" stop-color="#420101"/><stop offset="1" stop-color="#1e0000"/></radialGradient>
<radialGradient id="j02" gradientUnits="userSpaceOnUse" cx="1153.3" cy="656.9" r="58.3"><stop offset="0" stop-color="#0c0cb0"/><stop offset="0.1" stop-color="#0e0ec0"/><stop offset="0.28" stop-color="#1414e8"/><stop offset="0.45" stop-color="#1212dc"/><stop offset="0.7" stop-color="#0a0aa8"/><stop offset="1" stop-color="#040470"/></radialGradient>
<radialGradient id="j10" gradientUnits="userSpaceOnUse" cx="991.5" cy="742.3" r="58.3"><stop offset="0" stop-color="#ffffff"/><stop offset="0.08" stop-color="#ffffff"/><stop offset="0.18" stop-color="#c8c8c8"/><stop offset="0.3" stop-color="#8a8a8a"/><stop offset="0.5" stop-color="#5a5a5a"/><stop offset="0.8" stop-color="#3a3a3a"/><stop offset="1" stop-color="#2c2c2c"/></radialGradient>
<radialGradient id="j11" gradientUnits="userSpaceOnUse" cx="1072.4" cy="742" r="58.3"><stop offset="0" stop-color="#ffffff"/><stop offset="0.15" stop-color="#ffffff"/><stop offset="0.28" stop-color="#d8d8d8"/><stop offset="0.45" stop-color="#9a9a9a"/><stop offset="0.7" stop-color="#606060"/><stop offset="1" stop-color="#3c3c3c"/></radialGradient>
<radialGradient id="j12" gradientUnits="userSpaceOnUse" cx="1154.8" cy="740.8" r="58.3"><stop offset="0" stop-color="#d8d8d8"/><stop offset="0.08" stop-color="#e0e0e0"/><stop offset="0.2" stop-color="#fafafa"/><stop offset="0.3" stop-color="#ffffff"/><stop offset="0.42" stop-color="#f0f0f0"/><stop offset="0.6" stop-color="#b4b4b4"/><stop offset="0.85" stop-color="#787878"/><stop offset="1" stop-color="#5a5a5a"/></radialGradient>
<radialGradient id="j20" gradientUnits="userSpaceOnUse" cx="990.9" cy="823.2" r="58.3"><stop offset="0" stop-color="#ffffff"/><stop offset="0.1" stop-color="#fafafa"/><stop offset="0.2" stop-color="#c4c4c4"/><stop offset="0.33" stop-color="#848484"/><stop offset="0.55" stop-color="#585858"/><stop offset="0.8" stop-color="#404040"/><stop offset="1" stop-color="#343434"/></radialGradient>
<radialGradient id="j21" gradientUnits="userSpaceOnUse" cx="1072.4" cy="823.2" r="58.3"><stop offset="0" stop-color="#ffffff"/><stop offset="0.17" stop-color="#ffffff"/><stop offset="0.3" stop-color="#dcdcdc"/><stop offset="0.48" stop-color="#a0a0a0"/><stop offset="0.72" stop-color="#666666"/><stop offset="1" stop-color="#424242"/></radialGradient>
<radialGradient id="j22" gradientUnits="userSpaceOnUse" cx="1157.2" cy="820.2" r="58.3"><stop offset="0" stop-color="#7c7c7c"/><stop offset="0.07" stop-color="#8c8c8c"/><stop offset="0.18" stop-color="#e0e0e0"/><stop offset="0.26" stop-color="#ffffff"/><stop offset="0.36" stop-color="#f4f4f4"/><stop offset="0.52" stop-color="#b8b8b8"/><stop offset="0.8" stop-color="#747474"/><stop offset="1" stop-color="#565656"/></radialGradient>
<rect x="950.4" y="618.8" width="77.8" height="77.8" fill="url(#j00)"/>
<rect x="1032.1" y="618.8" width="77.8" height="77.8" fill="url(#j01)"/>
<rect x="1113.6" y="618.8" width="77.8" height="77.8" fill="url(#j02)"/>
<rect x="950.4" y="700.2" width="77.8" height="77.8" fill="url(#j10)"/>
<rect x="1032.1" y="700.2" width="77.8" height="77.8" fill="url(#j11)"/>
<rect x="1113.6" y="700.2" width="77.8" height="77.8" fill="url(#j12)"/>
<rect x="950.4" y="782" width="77.8" height="77.8" fill="url(#j20)"/>
<rect x="1032.1" y="782" width="77.8" height="77.8" fill="url(#j21)"/>
<rect x="1113.6" y="782" width="77.8" height="77.8" fill="url(#j22)"/>
<rect x="1153.3" y="691" width="36" height="3.8" fill="#fff"/>
<text x="957.2" y="634" style="fill:#5ad85a">FC</text><text x="1040.8" y="634" style="fill:#f04050">DFC</text><text x="1120.1" y="634" style="fill:#8484ff">GC</text>
<text x="954.1" y="714" style="fill:#fff">5′ ETS</text>
<text x="1035" y="714" style="fill:#fff">Site 1</text>
<text x="1116.5" y="714" style="fill:#fff">Site 4′</text>
<text x="954.1" y="795.8" style="fill:#fff">3′ ETS</text>
<text x="1035" y="795.8" style="fill:#fff">Site 2</text>
<text x="1116.5" y="795.8" style="fill:#fff">ITS2-28S</text>
<!-- pk -->
<text class="pl" x="910.3" y="892">k</text>
<linearGradient id="gkb" x1="0" x2="1"><stop offset="0" stop-color="#04f010"/><stop offset="0.06" stop-color="#1cec10"/><stop offset="0.11" stop-color="#7ab010"/><stop offset="0.16" stop-color="#d04814"/><stop offset="0.21" stop-color="#fa0a24"/><stop offset="0.28" stop-color="#f40650"/><stop offset="0.34" stop-color="#d806a0"/><stop offset="0.42" stop-color="#8c06e0"/><stop offset="0.52" stop-color="#3a06fa"/><stop offset="0.65" stop-color="#1206fa"/><stop offset="0.82" stop-color="#0808d4"/><stop offset="1" stop-color="#0606a4"/></linearGradient>
<rect x="983.8" y="880.5" width="173" height="15.8" fill="url(#gkb)"/>
<path d="M984.2,880.3 V897.5" stroke="#000" stroke-width="0.6"/>
<text x="987.3" y="892.6" style="fill:#fff">FC</text>
<text x="1015.3" y="892.6" style="fill:#fff">DFC</text>
<text x="1096" y="892.6" style="fill:#fff">GC</text>
<path d="M985.0,896.3 V898.6" stroke="#555" stroke-width="0.7"/>
<text class="n" x="985.0" y="910.9" text-anchor="middle">0</text>
<path d="M1019.2,896.3 V898.6" stroke="#555" stroke-width="0.7"/>
<text class="n" x="1019.2" y="910.9" text-anchor="middle">0.2</text>
<path d="M1053.5,896.3 V898.6" stroke="#555" stroke-width="0.7"/>
<text class="n" x="1053.5" y="910.9" text-anchor="middle">0.4</text>
<path d="M1087.8,896.3 V898.6" stroke="#555" stroke-width="0.7"/>
<text class="n" x="1087.8" y="910.9" text-anchor="middle">0.6</text>
<path d="M1122.0,896.3 V898.6" stroke="#555" stroke-width="0.7"/>
<text class="n" x="1122.0" y="910.9" text-anchor="middle">0.8</text>
<path d="M1156.2,896.3 V898.6" stroke="#555" stroke-width="0.7"/>
<text class="n" x="1155.8" y="910.9" text-anchor="middle">1.0</text>
<text x="1166" y="910.9">µm</text>
<rect x="976.25" y="916.25" width="190.0" height="189.5" fill="#fff" stroke="#000" stroke-width="1"/>
<path d="M971.65,1089.2 H976.25" stroke="#000" stroke-width="0.7"/>
<text class="n" x="965.1" y="1093.2" text-anchor="end">0</text>
<path d="M985.0,1105.75 V1110.35" stroke="#000" stroke-width="0.7"/>
<text class="n" x="985.0" y="1125.6" text-anchor="middle">0</text>
<path d="M971.65,1057.9 H976.25" stroke="#000" stroke-width="0.7"/>
<text class="n" x="965.1" y="1061.8" text-anchor="end">0.2</text>
<path d="M1019.2,1105.75 V1110.35" stroke="#000" stroke-width="0.7"/>
<text class="n" x="1019.2" y="1125.6" text-anchor="middle">0.2</text>
<path d="M971.65,1026.5 H976.25" stroke="#000" stroke-width="0.7"/>
<text class="n" x="965.1" y="1030.5" text-anchor="end">0.4</text>
<path d="M1053.5,1105.75 V1110.35" stroke="#000" stroke-width="0.7"/>
<text class="n" x="1053.5" y="1125.6" text-anchor="middle">0.4</text>
<path d="M971.65,995.2 H976.25" stroke="#000" stroke-width="0.7"/>
<text class="n" x="965.1" y="999.1" text-anchor="end">0.6</text>
<path d="M1087.8,1105.75 V1110.35" stroke="#000" stroke-width="0.7"/>
<text class="n" x="1087.8" y="1125.6" text-anchor="middle">0.6</text>
<path d="M971.65,963.9 H976.25" stroke="#000" stroke-width="0.7"/>
<text class="n" x="965.1" y="967.8" text-anchor="end">0.8</text>
<path d="M1122.0,1105.75 V1110.35" stroke="#000" stroke-width="0.7"/>
<text class="n" x="1122.0" y="1125.6" text-anchor="middle">0.8</text>
<path d="M971.65,932.5 H976.25" stroke="#000" stroke-width="0.7"/>
<text class="n" x="965.1" y="936.4" text-anchor="end">1.0</text>
<path d="M1156.2,1105.75 V1110.35" stroke="#000" stroke-width="0.7"/>
<text class="n" x="1156.2" y="1125.6" text-anchor="middle">1.0</text>
<text x="1071.3" y="1143.8" text-anchor="middle" textLength="151" lengthAdjust="spacing">Distance from FC centre (µm)</text>
<text transform="translate(935.6,1010.6) rotate(-90)" text-anchor="middle" textLength="134" lengthAdjust="spacing">Normalized FISH intensity</text>
<path d="M985.0,1085.0 L994.9,1075.9 L1005.0,1055.5 L1015.0,1025.2 L1025.1,995.0 L1035.0,967.1 L1044.9,946.8 L1055.0,932.7 L1065.0,926.1 L1075.1,923.3 L1085.0,922.9 L1100.1,926.2 L1115.0,930.7 L1130.0,936.5 L1144.9,941.0 L1156.2,943.2 L1156.2,962.0 L1144.9,959.1 L1130.0,953.6 L1115.0,946.8 L1100.1,941.3 L1085.0,937.0 L1075.1,936.7 L1065.0,938.9 L1055.0,944.8 L1044.9,958.3 L1035.0,977.9 L1025.1,1005.1 L1015.0,1034.7 L1005.0,1064.4 L994.9,1084.1 L985.0,1092.5Z" fill="#8cd0f8" opacity="0.35"/>
<path d="M985.0,1085.8 L994.9,1078.9 L1005.0,1060.0 L1015.0,1031.2 L1025.1,1001.1 L1035.0,973.4 L1044.9,952.1 L1055.0,938.2 L1065.0,930.5 L1075.1,927.4 L1085.0,926.5 L1100.1,927.6 L1115.0,929.9 L1130.0,931.7 L1144.9,934.1 L1156.2,934.9 L1156.2,946.1 L1144.9,945.1 L1130.0,942.4 L1115.0,940.1 L1100.1,937.4 L1085.0,936.0 L1075.1,936.6 L1065.0,939.5 L1055.0,946.9 L1044.9,960.5 L1035.0,981.6 L1025.1,1009.0 L1015.0,1038.8 L1005.0,1067.4 L994.9,1086.1 L985.0,1092.7Z" fill="#0433ff" opacity="0.35"/>
<path d="M985.0,1087.4 L994.9,1081.1 L1005.0,1063.0 L1015.0,1034.3 L1025.1,1004.1 L1035.0,976.7 L1044.9,954.9 L1055.0,940.9 L1065.0,933.6 L1075.1,930.8 L1085.0,930.3 L1100.1,932.2 L1115.0,935.6 L1130.0,938.9 L1144.9,942.1 L1156.2,943.3 L1156.2,948.3 L1144.9,947.0 L1130.0,943.7 L1115.0,940.3 L1100.1,936.8 L1085.0,934.7 L1075.1,935.2 L1065.0,938.0 L1055.0,945.1 L1044.9,959.1 L1035.0,980.8 L1025.1,1008.2 L1015.0,1038.3 L1005.0,1066.9 L994.9,1084.9 L985.0,1091.1Z" fill="#2e3192" opacity="0.35"/>
<path d="M985.0,929.1 L994.9,934.1 L1005.0,946.7 L1015.0,966.7 L1025.1,989.3 L1035.0,1011.8 L1044.9,1031.9 L1055.0,1049.5 L1065.0,1063.2 L1075.1,1073.3 L1085.0,1080.9 L1097.5,1085.2 L1112.6,1086.8 L1130.0,1085.3 L1156.2,1082.0 L1156.2,1087.1 L1130.0,1090.6 L1112.6,1092.3 L1097.5,1090.8 L1085.0,1086.7 L1075.1,1079.2 L1065.0,1069.2 L1055.0,1055.6 L1044.9,1038.1 L1035.0,1018.1 L1025.1,995.8 L1015.0,973.2 L1005.0,953.4 L994.9,940.9 L985.0,935.9Z" fill="#6ee06e" opacity="0.35"/>
<path d="M986.0,930.3 L996.0,935.3 L1006.1,947.9 L1016.0,967.8 L1026.1,990.4 L1036.0,1012.8 L1046.0,1032.9 L1056.1,1050.5 L1066.0,1064.2 L1076.1,1074.2 L1086.0,1081.8 L1098.5,1086.0 L1113.6,1087.6 L1131.1,1086.1 L1157.3,1082.7 L1157.3,1086.4 L1131.1,1089.9 L1113.6,1091.5 L1098.5,1090.0 L1086.0,1085.8 L1076.1,1078.3 L1066.0,1068.3 L1056.1,1054.6 L1046.0,1037.1 L1036.0,1017.1 L1026.1,994.7 L1016.0,972.1 L1006.1,952.2 L996.0,939.7 L986.0,934.7Z" fill="#3da848" opacity="0.35"/>
<path d="M985.0,929.4 L1000.1,933.2 L1012.6,944.6 L1025.1,962.0 L1037.6,984.7 L1050.1,1007.2 L1062.6,1029.8 L1075.1,1049.9 L1087.6,1064.9 L1100.1,1075.0 L1112.6,1080.9 L1125.1,1083.9 L1140.0,1084.8 L1156.2,1082.8 L1156.2,1087.2 L1140.0,1089.3 L1125.1,1088.6 L1112.6,1085.7 L1100.1,1080.0 L1087.6,1070.0 L1075.1,1055.2 L1062.6,1035.2 L1050.1,1012.7 L1037.6,990.4 L1025.1,967.9 L1012.6,950.5 L1000.1,939.3 L985.0,935.6Z" fill="#0b7a2a" opacity="0.35"/>
<path d="M985.0,929.4 L1000.1,931.1 L1012.6,938.2 L1025.1,952.0 L1037.6,970.7 L1050.1,993.3 L1062.6,1015.7 L1075.1,1037.1 L1087.6,1055.7 L1100.1,1069.6 L1112.6,1078.4 L1125.1,1083.4 L1140.0,1086.7 L1156.2,1088.0 L1156.2,1091.1 L1140.0,1089.9 L1125.1,1086.6 L1112.6,1081.6 L1100.1,1072.9 L1087.6,1059.1 L1075.1,1040.5 L1062.6,1019.2 L1050.1,996.8 L1037.6,974.3 L1025.1,955.6 L1012.6,941.9 L1000.1,934.8 L985.0,933.1Z" fill="#f250b0" opacity="0.35"/>
<path d="M985.0,928.1 L1000.1,930.7 L1012.6,939.5 L1025.1,955.8 L1037.6,977.1 L1050.1,1001.0 L1062.6,1023.5 L1075.1,1044.9 L1087.6,1061.1 L1100.1,1072.5 L1112.6,1079.6 L1125.1,1083.9 L1140.0,1086.5 L1156.2,1088.3 L1156.2,1092.7 L1140.0,1091.1 L1125.1,1088.6 L1112.6,1084.5 L1100.1,1077.5 L1087.6,1066.3 L1075.1,1050.2 L1062.6,1028.9 L1050.1,1006.6 L1037.6,982.8 L1025.1,961.6 L1012.6,945.5 L1000.1,936.8 L985.0,934.4Z" fill="#dc143c" opacity="0.35"/>
<path d="M985.00,1088.78 C986.66,1087.32 991.59,1084.81 994.93,1080.00 C998.27,1075.19 1001.70,1068.27 1005.04,1059.94 C1008.38,1051.60 1011.63,1039.98 1014.97,1030.00 C1018.31,1020.02 1021.73,1009.65 1025.07,1000.06 C1028.41,990.47 1031.69,980.39 1035.01,972.47 C1038.32,964.56 1041.60,958.18 1044.94,952.56 C1048.28,946.95 1051.70,942.11 1055.04,938.77 C1058.38,935.43 1061.63,933.96 1064.97,932.50 C1068.31,931.04 1071.74,930.41 1075.08,929.99 C1078.42,929.57 1080.84,929.37 1085.01,929.99 C1089.18,930.62 1095.09,932.29 1100.08,933.75 C1105.07,935.22 1109.98,936.89 1114.98,938.77 C1119.97,940.65 1125.05,943.16 1130.05,945.04 C1135.04,946.92 1140.58,948.80 1144.95,950.06 C1149.31,951.31 1154.37,952.15 1156.25,952.56" fill="none" stroke="#8cd0f8" stroke-width="1.1" stroke-linejoin="round" />
<path d="M985.00,1089.25 C986.66,1088.13 991.59,1086.77 994.93,1082.51 C998.27,1078.25 1001.70,1071.62 1005.04,1063.70 C1008.38,1055.78 1011.63,1044.79 1014.97,1035.01 C1018.31,1025.24 1021.73,1014.66 1025.07,1005.08 C1028.41,995.49 1031.69,985.61 1035.01,977.49 C1038.32,969.36 1041.60,962.15 1044.94,956.33 C1048.28,950.50 1051.70,946.08 1055.04,942.53 C1058.38,938.98 1061.63,936.76 1064.97,935.01 C1068.31,933.26 1071.74,932.66 1075.08,932.03 C1078.42,931.40 1080.84,931.17 1085.01,931.25 C1089.18,931.32 1095.09,931.87 1100.08,932.50 C1105.07,933.13 1109.98,934.25 1114.98,935.01 C1119.97,935.77 1125.05,936.29 1130.05,937.05 C1135.04,937.80 1140.58,938.98 1144.95,939.55 C1149.31,940.13 1154.37,940.34 1156.25,940.49" fill="none" stroke="#0433ff" stroke-width="1.1" stroke-linejoin="round" />
<path d="M985.00,1089.25 C986.66,1088.20 991.59,1087.03 994.93,1082.98 C998.27,1078.93 1001.70,1072.74 1005.04,1064.95 C1008.38,1057.17 1011.63,1046.07 1014.97,1036.27 C1018.31,1026.47 1021.73,1015.76 1025.07,1006.17 C1028.41,996.58 1031.69,986.94 1035.01,978.74 C1038.32,970.54 1041.60,962.91 1044.94,956.95 C1048.28,951.00 1051.70,946.53 1055.04,943.00 C1058.38,939.48 1061.63,937.46 1064.97,935.79 C1068.31,934.12 1071.74,933.52 1075.08,932.97 C1078.42,932.42 1080.84,932.24 1085.01,932.50 C1089.18,932.76 1095.09,933.62 1100.08,934.54 C1105.07,935.45 1109.98,936.86 1114.98,937.99 C1119.97,939.11 1125.05,940.18 1130.05,941.28 C1135.04,942.38 1140.58,943.81 1144.95,944.57 C1149.31,945.33 1154.37,945.61 1156.25,945.82" fill="none" stroke="#2e3192" stroke-width="1.1" stroke-linejoin="round" />
<path d="M985.00,932.50 C986.66,933.34 991.59,934.59 994.93,937.52 C998.27,940.44 1001.70,944.65 1005.04,950.06 C1008.38,955.46 1011.63,962.88 1014.97,969.96 C1018.31,977.04 1021.73,985.04 1025.07,992.54 C1028.41,1000.03 1031.69,1007.87 1035.01,1014.95 C1038.32,1022.03 1041.60,1028.74 1044.94,1035.01 C1048.28,1041.28 1051.70,1047.37 1055.04,1052.57 C1058.38,1057.77 1061.63,1062.26 1064.97,1066.21 C1068.31,1070.15 1071.74,1073.31 1075.08,1076.24 C1078.42,1079.17 1081.27,1081.80 1085.01,1083.76 C1088.75,1085.72 1092.92,1087.03 1097.51,1088.00 C1102.11,1088.96 1107.16,1089.56 1112.58,1089.56 C1118.00,1089.56 1122.77,1088.83 1130.05,1088.00 C1137.33,1087.16 1151.88,1085.12 1156.25,1084.55" fill="none" stroke="#6ee06e" stroke-width="1.1" stroke-linejoin="round" />
<path d="M986.03,932.50 C987.68,933.34 992.62,934.59 995.96,937.52 C999.30,940.44 1002.72,944.65 1006.06,950.06 C1009.40,955.46 1012.66,962.88 1016.00,969.96 C1019.34,977.04 1022.76,985.04 1026.10,992.54 C1029.44,1000.03 1032.72,1007.87 1036.03,1014.95 C1039.34,1022.03 1042.63,1028.74 1045.96,1035.01 C1049.30,1041.28 1052.73,1047.37 1056.07,1052.57 C1059.41,1057.77 1062.66,1062.26 1066.00,1066.21 C1069.34,1070.15 1072.77,1073.31 1076.11,1076.24 C1079.44,1079.17 1082.30,1081.80 1086.04,1083.76 C1089.78,1085.72 1093.94,1087.03 1098.54,1088.00 C1103.13,1088.96 1108.19,1089.56 1113.61,1089.56 C1119.03,1089.56 1123.80,1088.83 1131.08,1088.00 C1138.35,1087.16 1152.91,1085.12 1157.28,1084.55" fill="none" stroke="#3da848" stroke-width="1.1" stroke-linejoin="round" />
<path d="M985.00,932.50 C987.51,933.13 995.47,933.75 1000.07,936.26 C1004.67,938.77 1008.40,942.77 1012.57,947.55 C1016.74,952.33 1020.91,958.29 1025.07,964.95 C1029.24,971.61 1033.41,980.02 1037.57,987.52 C1041.74,995.02 1045.91,1002.44 1050.08,1009.93 C1054.24,1017.43 1058.41,1025.40 1062.58,1032.51 C1066.74,1039.61 1070.91,1046.74 1075.08,1052.57 C1079.24,1058.40 1083.41,1063.31 1087.58,1067.46 C1091.75,1071.62 1095.91,1074.86 1100.08,1077.49 C1104.25,1080.13 1108.41,1081.83 1112.58,1083.29 C1116.75,1084.76 1120.52,1085.64 1125.08,1086.27 C1129.65,1086.90 1134.79,1087.26 1139.98,1087.06 C1145.18,1086.85 1153.54,1085.36 1156.25,1085.02" fill="none" stroke="#0b7a2a" stroke-width="1.1" stroke-linejoin="round" />
<path d="M985.00,931.25 C987.51,931.53 995.47,931.51 1000.07,932.97 C1004.67,934.43 1008.40,936.55 1012.57,940.02 C1016.74,943.50 1020.91,948.41 1025.07,953.82 C1029.24,959.23 1033.41,965.60 1037.57,972.47 C1041.74,979.34 1045.91,987.55 1050.08,995.04 C1054.24,1002.54 1058.41,1010.17 1062.58,1017.46 C1066.74,1024.75 1070.91,1032.11 1075.08,1038.78 C1079.24,1045.44 1083.41,1052.02 1087.58,1057.43 C1091.75,1062.84 1095.91,1067.46 1100.08,1071.22 C1104.25,1074.99 1108.41,1077.70 1112.58,1080.00 C1116.75,1082.30 1120.52,1083.63 1125.08,1085.02 C1129.65,1086.40 1134.79,1087.55 1139.98,1088.31 C1145.18,1089.07 1153.54,1089.35 1156.25,1089.56" fill="none" stroke="#f250b0" stroke-width="1.1" stroke-linejoin="round" />
<path d="M985.00,931.25 C987.51,931.66 995.47,931.87 1000.07,933.75 C1004.67,935.63 1008.40,938.38 1012.57,942.53 C1016.74,946.69 1020.91,952.43 1025.07,958.68 C1029.24,964.92 1033.41,972.47 1037.57,980.00 C1041.74,987.52 1045.91,996.11 1050.08,1003.82 C1054.24,1011.53 1058.41,1018.95 1062.58,1026.24 C1066.74,1033.53 1070.91,1041.31 1075.08,1047.55 C1079.24,1053.80 1083.41,1059.13 1087.58,1063.70 C1091.75,1068.27 1095.91,1071.93 1100.08,1074.99 C1104.25,1078.04 1108.41,1080.16 1112.58,1082.04 C1116.75,1083.92 1120.52,1085.15 1125.08,1086.27 C1129.65,1087.40 1134.79,1088.07 1139.98,1088.78 C1145.18,1089.49 1153.54,1090.22 1156.25,1090.50" fill="none" stroke="#dc143c" stroke-width="1.1" stroke-linejoin="round" />
<path d="M1092,964.5 H1110.8" stroke="#6ee06e" stroke-width="2.6" opacity="0.4"/><path d="M1092,964.5 H1110.8" stroke="#6ee06e" stroke-width="1.1"/>
<text x="1116.2" y="968.4">5′ ETS</text>
<path d="M1092,977.5 H1110.8" stroke="#3da848" stroke-width="2.6" opacity="0.4"/><path d="M1092,977.5 H1110.8" stroke="#3da848" stroke-width="1.1"/>
<text x="1116.2" y="981.4">Site 01</text>
<path d="M1092,990.5 H1110.8" stroke="#0b7a2a" stroke-width="2.6" opacity="0.4"/><path d="M1092,990.5 H1110.8" stroke="#0b7a2a" stroke-width="1.1"/>
<text x="1116.2" y="994.4">3′ ETS</text>
<path d="M1092,1003.5 H1110.8" stroke="#dc143c" stroke-width="2.6" opacity="0.4"/><path d="M1092,1003.5 H1110.8" stroke="#dc143c" stroke-width="1.1"/>
<text x="1116.2" y="1007.4">Site 1</text>
<path d="M1092,1016.5 H1110.8" stroke="#f250b0" stroke-width="2.6" opacity="0.4"/><path d="M1092,1016.5 H1110.8" stroke="#f250b0" stroke-width="1.1"/>
<text x="1116.2" y="1020.4">Site 2</text>
<path d="M1092,1029.5 H1110.8" stroke="#8cd0f8" stroke-width="2.6" opacity="0.4"/><path d="M1092,1029.5 H1110.8" stroke="#8cd0f8" stroke-width="1.1"/>
<text x="1116.2" y="1033.4">Site 3′</text>
<path d="M1092,1042.5 H1110.8" stroke="#0433ff" stroke-width="2.6" opacity="0.4"/><path d="M1092,1042.5 H1110.8" stroke="#0433ff" stroke-width="1.1"/>
<text x="1116.2" y="1046.4">Site 4′</text>
<path d="M1092,1055.5 H1110.8" stroke="#2e3192" stroke-width="2.6" opacity="0.4"/><path d="M1092,1055.5 H1110.8" stroke="#2e3192" stroke-width="1.1"/>
<text x="1116.2" y="1059.4">ITS2-28S</text>
</svg>
</body></html>
